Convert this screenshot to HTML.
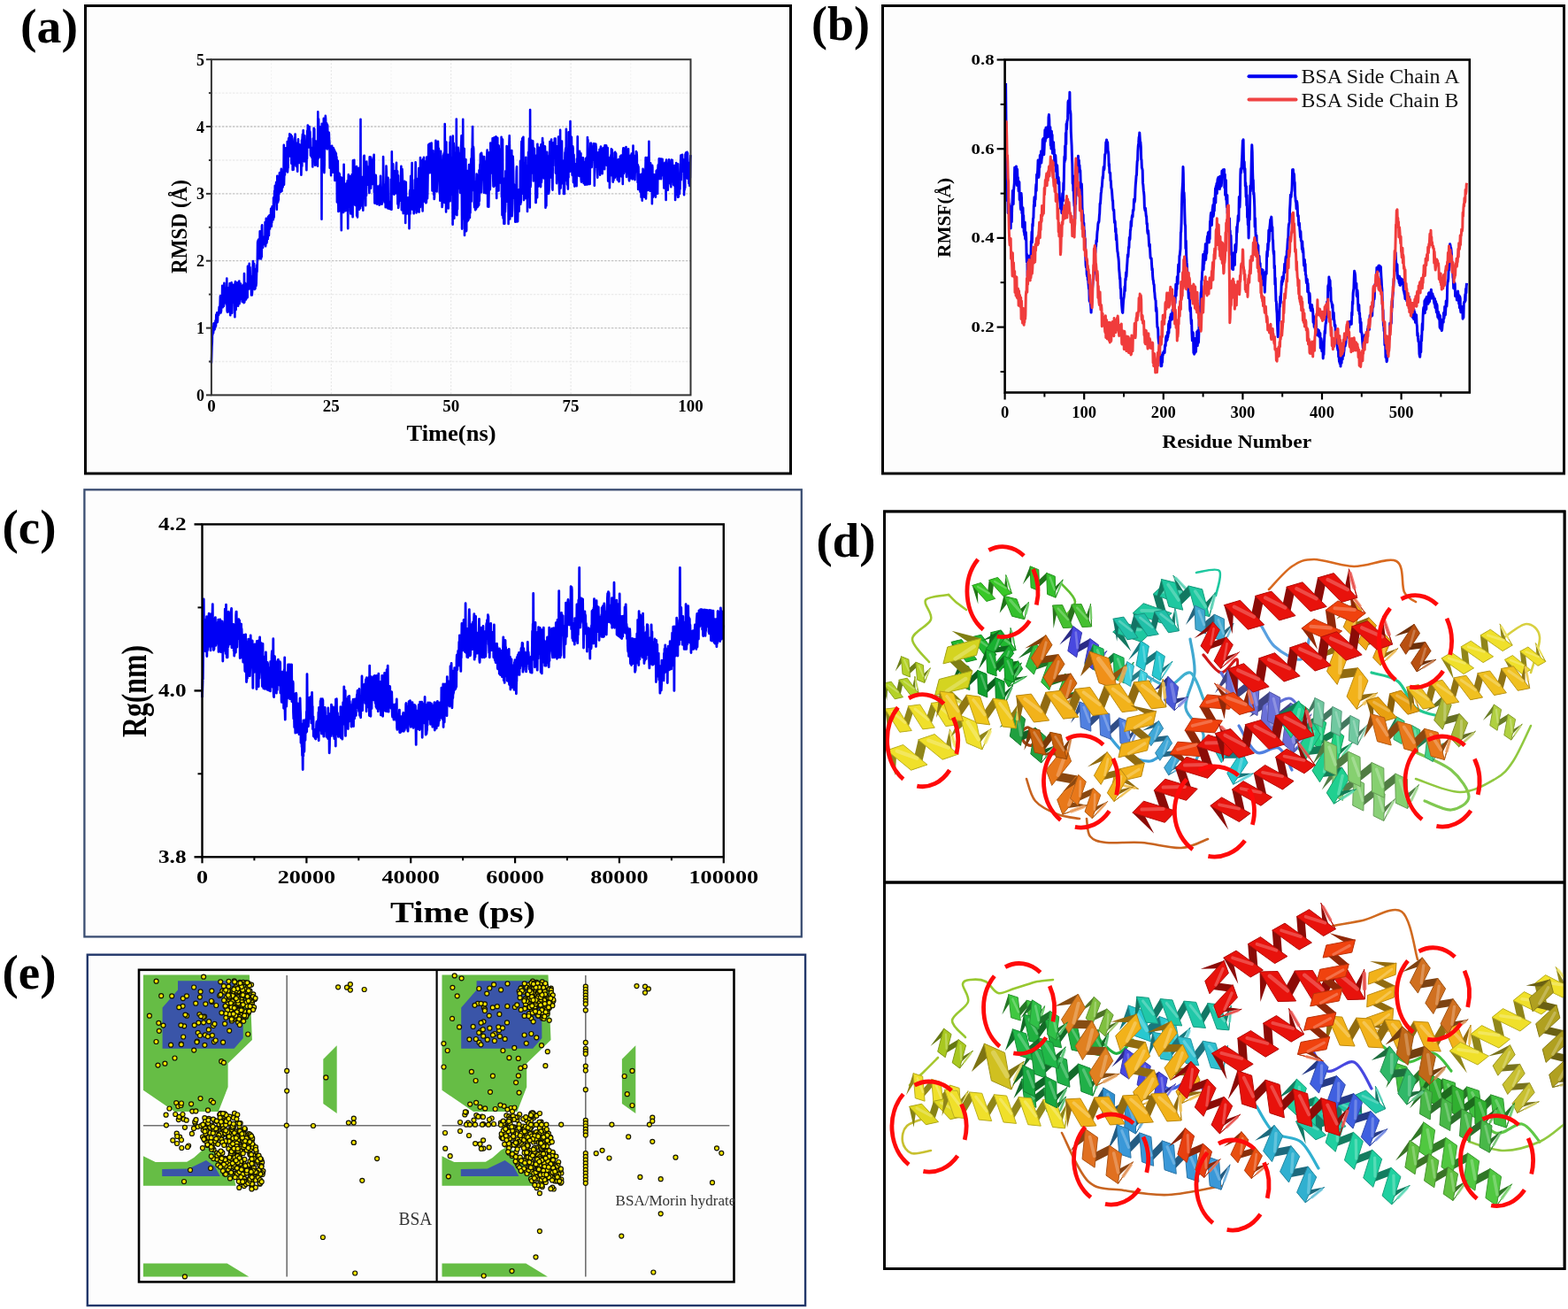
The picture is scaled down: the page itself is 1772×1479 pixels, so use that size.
<!DOCTYPE html>
<html><head><meta charset="utf-8"><title>MD analysis figure</title>
<style>html,body{margin:0;padding:0;background:#fff;} svg{display:block;font-family:'Liberation Serif', 'Times New Roman', serif;}</style></head>
<body><svg width="1772" height="1479" viewBox="0 0 1772 1479">
<rect x="0" y="0" width="1772" height="1479" fill="#fff"/><rect x="96.5" y="6.5" width="797" height="528.5" fill="#fdfdfd" stroke="#000" stroke-width="3"/><rect x="997.5" y="6.5" width="770" height="528.5" fill="#fdfdfd" stroke="#000" stroke-width="3"/><rect x="95.4" y="553.3" width="810.4" height="505.1" fill="#fdfdfd" stroke="#3a4d72" stroke-width="2.3"/><rect x="999.5" y="577.9" width="768.6" height="855.6" fill="#fff" stroke="#000" stroke-width="2.8"/><line x1="999" y1="997" x2="1768" y2="997" stroke="#000" stroke-width="2.8"/><rect x="98.8" y="1078.7" width="811.3" height="396.4" fill="#fdfdfd" stroke="#22376a" stroke-width="2.4"/><text x="23.0" y="48.3" font-size="55" text-anchor="start" font-weight="bold" fill="#000" textLength="65" lengthAdjust="spacingAndGlyphs" >(a)</text><text x="917.0" y="44.5" font-size="55" text-anchor="start" font-weight="bold" fill="#000" textLength="66" lengthAdjust="spacingAndGlyphs" >(b)</text><text x="2.5" y="613.5" font-size="55" text-anchor="start" font-weight="bold" fill="#000" textLength="61" lengthAdjust="spacingAndGlyphs" >(c)</text><text x="922.5" y="628.5" font-size="55" text-anchor="start" font-weight="bold" fill="#000" textLength="67" lengthAdjust="spacingAndGlyphs" >(d)</text><text x="2.5" y="1116.5" font-size="55" text-anchor="start" font-weight="bold" fill="#000" textLength="61" lengthAdjust="spacingAndGlyphs" >(e)</text><line x1="306.6" y1="67.2" x2="306.6" y2="446.4" stroke="#f0f0f0" stroke-width="1" stroke-dasharray="2 2"/><line x1="374.3" y1="67.2" x2="374.3" y2="446.4" stroke="#e2e2e2" stroke-width="1" stroke-dasharray="2 2"/><line x1="442.0" y1="67.2" x2="442.0" y2="446.4" stroke="#f0f0f0" stroke-width="1" stroke-dasharray="2 2"/><line x1="509.7" y1="67.2" x2="509.7" y2="446.4" stroke="#e2e2e2" stroke-width="1" stroke-dasharray="2 2"/><line x1="577.4" y1="67.2" x2="577.4" y2="446.4" stroke="#f0f0f0" stroke-width="1" stroke-dasharray="2 2"/><line x1="645.1" y1="67.2" x2="645.1" y2="446.4" stroke="#e2e2e2" stroke-width="1" stroke-dasharray="2 2"/><line x1="712.8" y1="67.2" x2="712.8" y2="446.4" stroke="#f0f0f0" stroke-width="1" stroke-dasharray="2 2"/><line x1="238.9" y1="408.5" x2="780.5" y2="408.5" stroke="#ebebeb" stroke-width="1.3" stroke-dasharray="2.5 1.5"/><line x1="238.9" y1="370.6" x2="780.5" y2="370.6" stroke="#c4c4c4" stroke-width="1.3" stroke-dasharray="2.5 1.5"/><line x1="238.9" y1="332.6" x2="780.5" y2="332.6" stroke="#ebebeb" stroke-width="1.3" stroke-dasharray="2.5 1.5"/><line x1="238.9" y1="294.7" x2="780.5" y2="294.7" stroke="#c4c4c4" stroke-width="1.3" stroke-dasharray="2.5 1.5"/><line x1="238.9" y1="256.8" x2="780.5" y2="256.8" stroke="#ebebeb" stroke-width="1.3" stroke-dasharray="2.5 1.5"/><line x1="238.9" y1="218.9" x2="780.5" y2="218.9" stroke="#c4c4c4" stroke-width="1.3" stroke-dasharray="2.5 1.5"/><line x1="238.9" y1="181.0" x2="780.5" y2="181.0" stroke="#ebebeb" stroke-width="1.3" stroke-dasharray="2.5 1.5"/><line x1="238.9" y1="143.0" x2="780.5" y2="143.0" stroke="#c4c4c4" stroke-width="1.3" stroke-dasharray="2.5 1.5"/><line x1="238.9" y1="105.1" x2="780.5" y2="105.1" stroke="#ebebeb" stroke-width="1.3" stroke-dasharray="2.5 1.5"/><path d="M238.9 410.4L239.2 402.1L239.5 392.1L239.8 386.1L240.0 374.5L240.3 378.3L240.6 371.9L240.9 369.2L241.2 375.9L241.5 365.4L241.8 365.1L242.0 372.7L242.3 366.7L242.6 372.3L242.9 366.4L243.2 369.8L243.5 362.4L243.7 368.5L244.0 368.4L244.3 355.5L244.6 356.6L244.9 357.7L245.2 353.2L245.5 359.4L245.7 364.1L246.0 362.3L246.3 354.2L246.6 353.6L246.9 352.5L247.2 356.0L247.5 350.0L247.7 346.9L248.0 349.1L248.3 351.4L248.6 345.0L248.9 334.9L249.2 334.1L249.5 353.5L249.7 351.5L250.0 351.8L250.3 344.1L250.6 336.0L250.9 343.0L251.2 322.8L251.4 334.5L251.7 347.2L252.0 339.3L252.3 332.2L252.6 330.6L252.9 345.9L253.2 341.0L253.4 319.7L253.7 329.1L254.0 332.2L254.3 333.8L254.6 340.6L254.9 340.6L255.2 332.5L255.4 329.4L255.7 342.6L256.0 344.1L256.3 314.6L256.6 350.8L256.9 352.6L257.2 342.5L257.4 332.5L257.7 342.8L258.0 348.4L258.3 352.3L258.6 325.0L258.9 331.6L259.1 343.2L259.4 326.6L259.7 320.0L260.0 332.9L260.3 356.2L260.6 336.7L260.9 342.0L261.1 323.8L261.4 330.3L261.7 319.4L262.0 352.0L262.3 353.7L262.6 341.8L262.9 335.3L263.1 338.2L263.4 336.6L263.7 321.8L264.0 332.3L264.3 341.5L264.6 329.7L264.9 336.4L265.1 324.9L265.4 358.2L265.7 319.9L266.0 318.1L266.3 334.8L266.6 350.1L266.8 338.4L267.1 336.1L267.4 327.9L267.7 320.1L268.0 345.5L268.3 319.2L268.6 338.8L268.8 324.3L269.1 345.8L269.4 323.4L269.7 331.7L270.0 338.1L270.3 317.5L270.6 343.3L270.8 335.5L271.1 329.6L271.4 335.6L271.7 332.8L272.0 320.5L272.3 337.9L272.6 330.2L272.8 337.9L273.1 322.5L273.4 336.9L273.7 341.0L274.0 332.9L274.3 333.6L274.6 323.3L274.8 339.6L275.1 321.7L275.4 327.0L275.7 342.1L276.0 309.0L276.3 341.3L276.5 338.4L276.8 332.4L277.1 319.8L277.4 323.6L277.7 325.7L278.0 338.5L278.3 333.2L278.5 321.9L278.8 330.2L279.1 329.5L279.4 336.5L279.7 335.9L280.0 300.8L280.3 320.5L280.5 300.9L280.8 324.5L281.1 309.2L281.4 326.5L281.7 297.9L282.0 325.9L282.3 316.4L282.5 302.1L282.8 311.8L283.1 311.9L283.4 323.2L283.7 315.3L284.0 333.5L284.2 333.5L284.5 326.4L284.8 333.4L285.1 329.5L285.4 320.5L285.7 300.2L286.0 295.1L286.2 323.1L286.5 305.8L286.8 299.7L287.1 297.8L287.4 321.3L287.7 327.0L288.0 317.9L288.2 314.9L288.5 325.8L288.8 320.7L289.1 303.9L289.4 322.9L289.7 319.6L290.0 309.9L290.2 299.6L290.5 307.4L290.8 297.9L291.1 273.9L291.4 272.3L291.7 276.8L291.9 271.3L292.2 270.5L292.5 287.7L292.8 280.2L293.1 292.1L293.4 279.5L293.7 261.2L293.9 283.3L294.2 284.3L294.5 279.7L294.8 281.2L295.1 292.4L295.4 279.3L295.7 290.2L295.9 255.3L296.2 254.3L296.5 268.2L296.8 279.5L297.1 279.7L297.4 273.7L297.7 267.7L297.9 275.4L298.2 268.8L298.5 275.2L298.8 275.3L299.1 276.0L299.4 275.7L299.6 251.1L299.9 273.3L300.2 278.2L300.5 252.5L300.8 246.8L301.1 254.2L301.4 274.6L301.6 272.8L301.9 268.4L302.2 269.8L302.5 255.2L302.8 269.9L303.1 244.9L303.4 260.9L303.6 264.8L303.9 266.1L304.2 253.8L304.5 243.2L304.8 246.9L305.1 258.5L305.4 243.3L305.6 249.7L305.9 244.4L306.2 235.9L306.5 239.3L306.8 255.6L307.1 240.5L307.3 251.4L307.6 233.4L307.9 238.3L308.2 241.9L308.5 247.4L308.8 248.2L309.1 223.2L309.3 246.1L309.6 245.1L309.9 232.3L310.2 215.7L310.5 227.3L310.8 209.7L311.1 219.6L311.3 212.2L311.6 212.1L311.9 208.9L312.2 205.9L312.5 224.7L312.8 236.8L313.1 218.8L313.3 198.7L313.6 216.1L313.9 224.0L314.2 228.4L314.5 212.2L314.8 226.4L315.0 210.7L315.3 219.5L315.6 206.3L315.9 195.4L316.2 215.3L316.5 214.1L316.8 201.9L317.0 216.9L317.3 197.4L317.6 194.4L317.9 190.9L318.2 214.9L318.5 216.0L318.8 200.9L319.0 211.1L319.3 205.1L319.6 211.5L319.9 199.7L320.2 198.5L320.5 197.9L320.8 163.9L321.0 208.8L321.3 197.5L321.6 190.9L321.9 197.6L322.2 187.2L322.5 175.1L322.7 183.5L323.0 167.4L323.3 174.7L323.6 179.1L323.9 189.6L324.2 176.4L324.5 193.8L324.7 160.0L325.0 194.4L325.3 190.0L325.6 189.4L325.9 164.1L326.2 156.3L326.5 162.5L326.7 156.0L327.0 174.8L327.3 151.3L327.6 176.5L327.9 171.2L328.2 153.2L328.5 161.2L328.7 152.2L329.0 160.3L329.3 184.7L329.6 182.0L329.9 153.9L330.2 164.9L330.5 163.2L330.7 191.9L331.0 160.0L331.3 175.6L331.6 191.8L331.9 179.4L332.2 165.3L332.4 180.3L332.7 158.0L333.0 155.7L333.3 172.1L333.6 151.5L333.9 163.9L334.2 181.2L334.4 187.1L334.7 187.8L335.0 162.5L335.3 161.8L335.6 185.1L335.9 185.9L336.2 193.7L336.4 163.5L336.7 183.6L337.0 157.3L337.3 172.9L337.6 181.0L337.9 179.8L338.2 184.0L338.4 163.2L338.7 175.7L339.0 173.2L339.3 167.5L339.6 170.1L339.9 168.7L340.1 173.9L340.4 197.7L340.7 185.1L341.0 158.6L341.3 187.8L341.6 156.3L341.9 151.9L342.1 152.9L342.4 159.8L342.7 147.2L343.0 165.9L343.3 160.7L343.6 172.7L343.9 182.5L344.1 162.8L344.4 153.2L344.7 162.0L345.0 181.8L345.3 172.2L345.6 173.3L345.9 172.3L346.1 178.4L346.4 192.3L346.7 174.0L347.0 179.3L347.3 147.7L347.6 153.3L347.8 141.6L348.1 151.3L348.4 155.0L348.7 166.5L349.0 149.2L349.3 159.4L349.6 143.1L349.8 161.3L350.1 148.1L350.4 149.1L350.7 161.3L351.0 175.6L351.3 171.1L351.6 169.2L351.8 166.9L352.1 176.6L352.4 177.9L352.7 172.1L353.0 167.9L353.3 188.4L353.6 176.3L353.8 156.6L354.1 156.1L354.4 166.7L354.7 144.8L355.0 152.3L355.3 145.8L355.5 177.4L355.8 170.7L356.1 186.7L356.4 164.3L356.7 179.2L357.0 159.5L357.3 186.3L357.5 185.2L357.8 173.6L358.1 180.5L358.4 161.4L358.7 167.5L359.0 187.7L359.3 126.4L359.5 179.6L359.8 177.1L360.1 134.6L360.4 151.8L360.7 143.8L361.0 165.6L361.3 176.3L361.5 160.4L361.8 143.4L362.1 152.3L362.4 178.0L362.7 148.0L363.0 156.3L363.2 143.9L363.5 247.7L363.8 139.8L364.1 173.9L364.4 183.8L364.7 192.3L365.0 149.4L365.2 179.7L365.5 173.4L365.8 133.9L366.1 165.9L366.4 195.1L366.7 186.3L367.0 133.7L367.2 158.6L367.5 165.0L367.8 130.9L368.1 134.7L368.4 167.5L368.7 141.2L369.0 148.4L369.2 139.4L369.5 142.9L369.8 168.5L370.1 141.4L370.4 153.1L370.7 167.0L370.9 162.5L371.2 153.1L371.5 158.0L371.8 149.8L372.1 158.2L372.4 161.7L372.7 189.7L372.9 188.4L373.2 183.0L373.5 178.0L373.8 165.8L374.1 198.3L374.4 172.4L374.7 176.7L374.9 190.9L375.2 164.9L375.5 189.0L375.8 173.3L376.1 194.8L376.4 180.7L376.7 172.1L376.9 167.4L377.2 184.4L377.5 189.2L377.8 169.2L378.1 171.2L378.4 204.0L378.6 185.8L378.9 171.5L379.2 200.4L379.5 183.1L379.8 173.3L380.1 199.9L380.4 177.4L380.6 184.9L380.9 228.4L381.2 216.9L381.5 227.3L381.8 181.7L382.1 206.4L382.4 238.9L382.6 231.1L382.9 231.6L383.2 195.5L383.5 198.4L383.8 196.7L384.1 238.3L384.4 229.4L384.6 228.6L384.9 225.9L385.2 200.3L385.5 228.9L385.8 260.2L386.1 216.5L386.3 225.2L386.6 239.3L386.9 201.0L387.2 217.4L387.5 238.0L387.8 223.5L388.1 240.0L388.3 213.1L388.6 185.7L388.9 218.1L389.2 212.6L389.5 223.5L389.8 219.2L390.1 229.6L390.3 238.2L390.6 213.3L390.9 230.7L391.2 207.5L391.5 237.8L391.8 236.7L392.1 236.4L392.3 236.7L392.6 204.2L392.9 217.5L393.2 258.3L393.5 210.7L393.8 197.2L394.1 203.8L394.3 233.5L394.6 213.0L394.9 203.3L395.2 219.1L395.5 211.5L395.8 199.1L396.0 238.1L396.3 241.5L396.6 215.8L396.9 201.8L397.2 237.1L397.5 239.5L397.8 197.1L398.0 212.2L398.3 229.7L398.6 245.2L398.9 181.4L399.2 231.0L399.5 191.1L399.8 191.3L400.0 200.7L400.3 180.8L400.6 218.5L400.9 229.7L401.2 211.9L401.5 232.0L401.8 197.5L402.0 228.7L402.3 210.0L402.6 193.2L402.9 188.1L403.2 243.8L403.5 228.3L403.7 199.3L404.0 245.5L404.3 217.9L404.6 201.8L404.9 210.5L405.2 189.9L405.5 217.7L405.7 217.3L406.0 236.8L406.3 222.8L406.6 197.6L406.9 197.7L407.2 235.2L407.5 134.7L407.7 233.1L408.0 211.8L408.3 230.9L408.6 229.9L408.9 217.1L409.2 227.7L409.5 221.0L409.7 208.8L410.0 199.7L410.3 237.7L410.6 220.5L410.9 218.0L411.2 176.4L411.4 188.1L411.7 175.9L412.0 210.4L412.3 183.7L412.6 213.8L412.9 188.6L413.2 232.3L413.4 200.9L413.7 195.9L414.0 221.0L414.3 182.5L414.6 189.0L414.9 192.9L415.2 188.2L415.4 206.6L415.7 208.7L416.0 197.1L416.3 207.7L416.6 202.8L416.9 188.4L417.2 212.2L417.4 218.0L417.7 177.4L418.0 177.5L418.3 190.6L418.6 201.8L418.9 177.5L419.1 212.6L419.4 202.9L419.7 180.2L420.0 187.9L420.3 189.0L420.6 202.9L420.9 190.8L421.1 208.0L421.4 182.5L421.7 184.1L422.0 178.0L422.3 182.0L422.6 174.7L422.9 217.4L423.1 207.8L423.4 229.6L423.7 199.2L424.0 199.1L424.3 209.2L424.6 197.8L424.9 199.7L425.1 223.3L425.4 209.8L425.7 230.5L426.0 230.6L426.3 210.8L426.6 229.8L426.8 229.0L427.1 224.2L427.4 210.5L427.7 214.8L428.0 226.0L428.3 220.4L428.6 231.6L428.8 231.7L429.1 230.4L429.4 208.9L429.7 220.2L430.0 198.7L430.3 215.0L430.6 214.9L430.8 211.8L431.1 217.3L431.4 230.6L431.7 230.6L432.0 214.4L432.3 226.7L432.6 225.3L432.8 221.3L433.1 177.0L433.4 199.3L433.7 220.0L434.0 221.8L434.3 223.3L434.5 228.5L434.8 214.0L435.1 218.5L435.4 215.9L435.7 234.2L436.0 208.1L436.3 208.8L436.5 187.5L436.8 193.7L437.1 223.7L437.4 206.9L437.7 221.1L438.0 235.1L438.3 220.0L438.5 200.7L438.8 235.4L439.1 235.5L439.4 235.6L439.7 235.7L440.0 235.8L440.3 228.1L440.5 236.0L440.8 227.9L441.1 236.2L441.4 236.3L441.7 202.7L442.0 236.6L442.2 202.6L442.5 236.8L442.8 171.3L443.1 213.8L443.4 201.9L443.7 211.1L444.0 189.5L444.2 185.4L444.5 218.7L444.8 205.7L445.1 201.5L445.4 219.8L445.7 201.1L446.0 193.4L446.2 204.0L446.5 196.6L446.8 218.5L447.1 198.1L447.4 218.3L447.7 188.8L448.0 183.8L448.2 211.0L448.5 207.9L448.8 195.9L449.1 193.3L449.4 230.6L449.7 205.3L450.0 198.2L450.2 234.9L450.5 232.0L450.8 227.0L451.1 214.9L451.4 218.4L451.7 206.7L451.9 215.5L452.2 219.9L452.5 226.8L452.8 214.2L453.1 196.6L453.4 187.9L453.7 217.1L453.9 237.3L454.2 208.6L454.5 191.0L454.8 197.5L455.1 209.6L455.4 224.1L455.7 241.1L455.9 222.7L456.2 210.9L456.5 210.4L456.8 216.3L457.1 204.7L457.4 238.2L457.7 208.2L457.9 216.6L458.2 251.9L458.5 218.3L458.8 205.7L459.1 235.9L459.4 241.6L459.6 224.0L459.9 223.3L460.2 232.1L460.5 236.1L460.8 240.9L461.1 226.3L461.4 224.3L461.6 241.6L461.9 223.2L462.2 223.0L462.5 258.3L462.8 241.6L463.1 217.0L463.4 214.8L463.6 241.6L463.9 210.8L464.2 198.8L464.5 219.8L464.8 213.8L465.1 201.2L465.4 200.1L465.6 184.0L465.9 226.2L466.2 236.7L466.5 235.8L466.8 216.0L467.1 225.8L467.3 215.3L467.6 241.3L467.9 236.3L468.2 227.8L468.5 235.0L468.8 203.4L469.1 224.9L469.3 214.9L469.6 183.2L469.9 193.9L470.2 206.6L470.5 240.5L470.8 205.3L471.1 224.7L471.3 228.3L471.6 211.2L471.9 235.7L472.2 204.8L472.5 201.9L472.8 239.1L473.1 233.7L473.3 190.1L473.6 239.6L473.9 191.7L474.2 195.6L474.5 199.1L474.8 234.1L475.0 178.1L475.3 221.9L475.6 180.7L475.9 210.0L476.2 217.6L476.5 219.3L476.8 226.6L477.0 222.4L477.3 227.8L477.6 238.5L477.9 200.1L478.2 179.8L478.5 214.0L478.8 186.9L479.0 177.8L479.3 227.5L479.6 203.1L479.9 196.3L480.2 201.5L480.5 182.5L480.8 193.0L481.0 229.1L481.3 183.1L481.6 229.2L481.9 228.1L482.2 177.5L482.5 200.7L482.7 185.5L483.0 224.2L483.3 214.6L483.6 194.3L483.9 195.6L484.2 163.6L484.5 180.2L484.7 190.8L485.0 162.9L485.3 194.7L485.6 171.3L485.9 195.2L486.2 162.3L486.5 166.8L486.7 162.0L487.0 167.3L487.3 176.7L487.6 161.5L487.9 194.1L488.2 178.9L488.5 215.5L488.7 187.3L489.0 178.1L489.3 194.3L489.6 170.4L489.9 183.3L490.2 220.0L490.4 195.4L490.7 225.0L491.0 222.5L491.3 175.2L491.6 197.9L491.9 205.5L492.2 185.1L492.4 158.8L492.7 186.0L493.0 197.5L493.3 198.7L493.6 216.4L493.9 203.9L494.2 177.5L494.4 195.2L494.7 195.7L495.0 159.8L495.3 173.9L495.6 179.1L495.9 167.9L496.2 190.3L496.4 199.9L496.7 217.5L497.0 185.1L497.3 226.7L497.6 222.6L497.9 223.1L498.1 170.9L498.4 183.4L498.7 212.9L499.0 206.3L499.3 206.1L499.6 234.0L499.9 231.7L500.1 201.3L500.4 204.7L500.7 203.1L501.0 175.7L501.3 226.4L501.6 174.0L501.9 215.6L502.1 172.2L502.4 228.9L502.7 140.0L503.0 174.4L503.3 204.6L503.6 210.3L503.9 204.7L504.1 239.4L504.4 160.6L504.7 210.9L505.0 184.3L505.3 177.7L505.6 234.9L505.8 226.2L506.1 174.7L506.4 192.6L506.7 235.5L507.0 204.0L507.3 210.2L507.6 186.0L507.8 186.8L508.1 215.6L508.4 160.8L508.7 227.2L509.0 154.6L509.3 211.8L509.6 178.2L509.8 204.4L510.1 178.0L510.4 201.3L510.7 219.7L511.0 180.5L511.3 200.5L511.6 253.7L511.8 153.6L512.1 198.4L512.4 178.9L512.7 161.7L513.0 166.7L513.3 246.7L513.6 177.1L513.8 220.2L514.1 193.5L514.4 188.9L514.7 231.7L515.0 172.6L515.3 191.8L515.5 242.1L515.8 134.6L516.1 242.7L516.4 243.0L516.7 204.7L517.0 236.5L517.3 205.7L517.5 213.2L517.8 166.8L518.1 172.8L518.4 185.3L518.7 196.5L519.0 192.6L519.3 173.2L519.5 187.5L519.8 205.5L520.1 217.8L520.4 184.5L520.7 175.6L521.0 166.2L521.3 161.4L521.5 153.2L521.8 217.2L522.1 258.6L522.4 229.3L522.7 188.2L523.0 219.8L523.2 134.8L523.5 207.9L523.8 243.9L524.1 247.1L524.4 183.3L524.7 168.0L525.0 265.9L525.2 190.0L525.5 184.6L525.8 188.6L526.1 224.4L526.4 180.0L526.7 232.7L527.0 261.2L527.2 259.6L527.5 192.8L527.8 250.4L528.1 250.0L528.4 249.6L528.7 249.2L529.0 248.8L529.2 248.4L529.5 248.0L529.8 195.3L530.1 186.0L530.4 242.3L530.7 222.0L530.9 246.0L531.2 220.2L531.5 240.5L531.8 200.4L532.1 187.9L532.4 179.4L532.7 227.4L532.9 183.5L533.2 168.2L533.5 210.3L533.8 161.6L534.1 143.0L534.4 198.2L534.7 214.9L534.9 165.8L535.2 167.9L535.5 183.3L535.8 228.0L536.1 234.2L536.4 209.6L536.7 205.0L536.9 207.6L537.2 237.2L537.5 236.8L537.8 208.2L538.1 236.0L538.4 202.4L538.6 196.5L538.9 198.7L539.2 203.8L539.5 234.0L539.8 233.6L540.1 199.0L540.4 215.6L540.6 232.4L540.9 232.0L541.2 231.6L541.5 192.2L541.8 226.9L542.1 202.5L542.4 185.9L542.6 205.4L542.9 174.8L543.2 173.5L543.5 215.0L543.8 217.3L544.1 172.7L544.4 176.3L544.6 178.0L544.9 193.1L545.2 176.6L545.5 201.7L545.8 184.3L546.1 188.8L546.3 198.9L546.6 206.2L546.9 217.8L547.2 177.0L547.5 187.0L547.8 191.8L548.1 211.9L548.3 182.4L548.6 208.8L548.9 188.7L549.2 218.3L549.5 196.6L549.8 188.7L550.1 186.7L550.3 175.0L550.6 169.5L550.9 190.7L551.2 233.4L551.5 213.6L551.8 193.6L552.1 179.2L552.3 233.8L552.6 212.5L552.9 176.8L553.2 172.1L553.5 175.8L553.8 214.3L554.0 209.3L554.3 161.5L554.6 167.7L554.9 165.8L555.2 181.3L555.5 168.3L555.8 195.5L556.0 168.4L556.3 192.7L556.6 156.4L556.9 179.1L557.2 200.1L557.5 210.5L557.8 207.5L558.0 210.9L558.3 155.6L558.6 191.5L558.9 176.9L559.2 209.6L559.5 160.4L559.8 154.8L560.0 184.1L560.3 154.6L560.6 154.4L560.9 175.0L561.2 224.0L561.5 184.0L561.7 216.0L562.0 160.9L562.3 155.8L562.6 210.8L562.9 189.0L563.2 166.4L563.5 215.4L563.7 164.6L564.0 193.6L564.3 190.0L564.6 200.9L564.9 170.3L565.2 168.9L565.5 171.0L565.7 206.6L566.0 206.0L566.3 203.1L566.6 154.8L566.9 222.5L567.2 200.7L567.5 243.1L567.7 202.0L568.0 157.5L568.3 208.5L568.6 246.6L568.9 225.1L569.2 203.1L569.4 252.8L569.7 233.4L570.0 239.7L570.3 252.7L570.6 201.5L570.9 239.4L571.2 231.1L571.4 193.3L571.7 201.8L572.0 205.3L572.3 227.8L572.6 165.0L572.9 186.8L573.2 211.0L573.4 201.8L573.7 205.6L574.0 168.0L574.3 168.7L574.6 253.0L574.9 165.6L575.2 211.0L575.4 163.1L575.7 153.4L576.0 168.5L576.3 247.4L576.6 197.7L576.9 185.4L577.2 237.5L577.4 223.7L577.7 211.7L578.0 216.9L578.3 170.0L578.6 244.2L578.9 236.8L579.1 191.9L579.4 224.3L579.7 176.7L580.0 186.4L580.3 205.9L580.6 221.8L580.9 208.3L581.1 218.7L581.4 221.6L581.7 222.8L582.0 236.3L582.3 250.8L582.6 214.7L582.9 211.3L583.1 218.0L583.4 216.5L583.7 193.6L584.0 188.2L584.3 250.4L584.6 225.5L584.9 217.8L585.1 250.3L585.4 237.0L585.7 222.6L586.0 238.8L586.3 214.3L586.6 238.8L586.8 214.6L587.1 225.2L587.4 230.0L587.7 222.4L588.0 181.9L588.3 230.8L588.6 202.8L588.8 228.7L589.1 173.6L589.4 159.9L589.7 191.7L590.0 186.6L590.3 156.2L590.6 218.7L590.8 174.9L591.1 181.9L591.4 154.7L591.7 191.8L592.0 226.1L592.3 203.9L592.6 189.6L592.8 202.0L593.1 208.0L593.4 218.6L593.7 184.1L594.0 224.1L594.3 177.8L594.5 215.8L594.8 205.8L595.1 187.4L595.4 205.4L595.7 188.1L596.0 238.9L596.3 199.1L596.5 190.6L596.8 222.4L597.1 172.2L597.4 171.6L597.7 175.4L598.0 156.6L598.3 197.0L598.5 157.1L598.8 234.5L599.1 124.1L599.4 203.7L599.7 210.9L600.0 177.4L600.3 176.8L600.5 169.8L600.8 158.7L601.1 183.0L601.4 181.0L601.7 178.5L602.0 195.4L602.2 159.4L602.5 168.3L602.8 204.4L603.1 167.3L603.4 193.3L603.7 192.7L604.0 167.9L604.2 183.8L604.5 184.1L604.8 201.7L605.1 179.8L605.4 229.0L605.7 228.9L606.0 213.8L606.2 192.7L606.5 175.5L606.8 203.8L607.1 223.2L607.4 162.7L607.7 176.5L608.0 196.2L608.2 210.4L608.5 210.7L608.8 205.7L609.1 166.8L609.4 198.2L609.7 168.7L609.9 187.6L610.2 173.5L610.5 187.5L610.8 201.7L611.1 211.1L611.4 163.4L611.7 166.6L611.9 205.8L612.2 201.7L612.5 187.6L612.8 164.0L613.1 156.0L613.4 170.5L613.7 160.8L613.9 197.5L614.2 164.6L614.5 176.0L614.8 201.5L615.1 170.3L615.4 197.0L615.7 165.2L615.9 165.4L616.2 174.5L616.5 234.8L616.8 190.8L617.1 172.3L617.4 232.4L617.6 209.1L617.9 191.7L618.2 171.7L618.5 181.0L618.8 203.7L619.1 188.0L619.4 176.2L619.6 196.8L619.9 218.9L620.2 218.0L620.5 215.0L620.8 204.8L621.1 178.4L621.4 160.0L621.6 198.1L621.9 170.8L622.2 160.6L622.5 189.1L622.8 174.6L623.1 157.5L623.4 201.0L623.6 180.1L623.9 170.1L624.2 212.1L624.5 214.6L624.8 178.9L625.1 187.3L625.3 161.4L625.6 172.9L625.9 162.4L626.2 177.7L626.5 172.3L626.8 156.5L627.1 168.8L627.3 167.7L627.6 156.6L627.9 195.6L628.2 172.3L628.5 189.6L628.8 178.0L629.1 207.1L629.3 202.4L629.6 165.2L629.9 192.7L630.2 167.7L630.5 177.5L630.8 178.3L631.1 154.5L631.3 199.8L631.6 157.4L631.9 211.5L632.2 218.9L632.5 165.3L632.8 209.7L633.1 146.9L633.3 201.5L633.6 212.6L633.9 196.4L634.2 168.7L634.5 187.8L634.8 184.6L635.0 159.5L635.3 191.2L635.6 207.3L635.9 203.5L636.2 189.5L636.5 193.6L636.8 181.9L637.0 218.9L637.3 187.4L637.6 205.9L637.9 218.9L638.2 189.9L638.5 172.3L638.8 196.6L639.0 170.2L639.3 167.4L639.6 202.4L639.9 145.8L640.2 204.0L640.5 171.1L640.8 182.6L641.0 208.4L641.3 189.2L641.6 195.1L641.9 213.6L642.2 169.5L642.5 200.5L642.7 149.3L643.0 163.2L643.3 190.4L643.6 186.1L643.9 165.2L644.2 193.7L644.5 137.0L644.7 187.5L645.0 191.7L645.3 191.8L645.6 189.8L645.9 154.7L646.2 174.4L646.5 192.2L646.7 198.0L647.0 169.7L647.3 165.4L647.6 167.6L647.9 206.1L648.2 202.9L648.5 174.7L648.7 184.6L649.0 187.6L649.3 210.6L649.6 189.1L649.9 195.8L650.2 185.4L650.4 200.5L650.7 186.9L651.0 209.2L651.3 185.5L651.6 210.3L651.9 179.6L652.2 180.9L652.4 198.8L652.7 154.4L653.0 195.7L653.3 179.6L653.6 181.6L653.9 177.7L654.2 186.5L654.4 193.6L654.7 199.0L655.0 170.7L655.3 172.7L655.6 193.8L655.9 183.4L656.2 188.0L656.4 173.2L656.7 202.9L657.0 205.6L657.3 202.3L657.6 185.5L657.9 191.8L658.1 179.8L658.4 178.2L658.7 189.2L659.0 178.2L659.3 187.0L659.6 207.0L659.9 199.4L660.1 188.6L660.4 189.5L660.7 200.7L661.0 208.8L661.3 183.1L661.6 194.7L661.9 189.7L662.1 179.1L662.4 208.5L662.7 205.5L663.0 177.7L663.3 205.4L663.6 208.4L663.9 155.0L664.1 208.3L664.4 158.1L664.7 175.1L665.0 205.2L665.3 197.3L665.6 208.0L665.8 180.3L666.1 186.0L666.4 206.3L666.7 207.9L667.0 178.9L667.3 161.9L667.6 185.7L667.8 161.7L668.1 161.7L668.4 188.0L668.7 189.0L669.0 181.9L669.3 178.0L669.6 169.9L669.8 180.6L670.1 175.7L670.4 165.2L670.7 167.6L671.0 162.3L671.3 181.1L671.6 162.4L671.8 209.7L672.1 175.4L672.4 162.5L672.7 165.3L673.0 163.3L673.3 162.7L673.5 164.9L673.8 167.7L674.1 185.3L674.4 189.2L674.7 187.8L675.0 194.9L675.3 200.6L675.5 184.0L675.8 183.8L676.1 172.2L676.4 177.9L676.7 185.6L677.0 189.2L677.3 189.9L677.5 168.8L677.8 174.5L678.1 197.7L678.4 175.3L678.7 167.6L679.0 165.5L679.3 186.0L679.5 169.3L679.8 169.9L680.1 178.7L680.4 169.0L680.7 196.2L681.0 170.9L681.2 171.2L681.5 185.1L681.8 167.0L682.1 174.0L682.4 169.1L682.7 182.3L683.0 167.2L683.2 191.2L683.5 164.2L683.8 164.3L684.1 164.3L684.4 173.2L684.7 174.3L685.0 164.4L685.2 164.5L685.5 182.5L685.8 186.8L686.1 174.4L686.4 185.4L686.7 167.0L687.0 190.6L687.2 204.6L687.5 201.9L687.8 177.7L688.1 193.0L688.4 191.7L688.7 182.0L688.9 212.3L689.2 199.8L689.5 199.1L689.8 183.1L690.1 184.7L690.4 175.4L690.7 194.6L690.9 168.2L691.2 186.4L691.5 193.1L691.8 169.2L692.1 198.7L692.4 172.5L692.7 205.6L692.9 201.0L693.2 191.0L693.5 203.6L693.8 179.3L694.1 180.9L694.4 194.8L694.7 188.2L694.9 200.7L695.2 171.9L695.5 198.8L695.8 191.9L696.1 173.3L696.4 186.4L696.7 186.8L696.9 190.4L697.2 187.7L697.5 198.6L697.8 203.2L698.1 189.1L698.4 192.3L698.6 186.5L698.9 180.0L699.2 198.2L699.5 205.2L699.8 204.6L700.1 182.6L700.4 195.6L700.6 195.7L700.9 176.6L701.2 191.2L701.5 182.2L701.8 177.2L702.1 175.6L702.4 199.5L702.6 182.4L702.9 178.5L703.2 193.5L703.5 190.2L703.8 208.0L704.1 170.6L704.4 167.4L704.6 193.5L704.9 195.9L705.2 167.5L705.5 171.8L705.8 194.0L706.1 181.4L706.3 183.2L706.6 185.5L706.9 182.6L707.2 185.4L707.5 166.0L707.8 191.8L708.1 200.0L708.3 174.2L708.6 192.0L708.9 193.2L709.2 174.5L709.5 173.7L709.8 172.3L710.1 168.3L710.3 179.8L710.6 190.5L710.9 203.6L711.2 204.3L711.5 193.5L711.8 196.7L712.1 198.0L712.3 175.9L712.6 188.5L712.9 182.1L713.2 178.1L713.5 201.5L713.8 173.6L714.0 184.5L714.3 191.6L714.6 192.1L714.9 202.4L715.2 200.6L715.5 164.5L715.8 200.0L716.0 190.2L716.3 191.0L716.6 175.7L716.9 192.9L717.2 179.5L717.5 203.2L717.8 189.7L718.0 185.6L718.3 186.3L718.6 181.3L718.9 171.0L719.2 177.0L719.5 172.1L719.8 176.2L720.0 194.6L720.3 189.7L720.6 206.0L720.9 186.4L721.2 213.9L721.5 188.3L721.7 196.8L722.0 201.0L722.3 197.4L722.6 204.1L722.9 204.9L723.2 210.4L723.5 216.7L723.7 197.2L724.0 214.0L724.3 202.6L724.6 222.7L724.9 196.7L725.2 198.8L725.5 198.1L725.7 226.6L726.0 213.1L726.3 204.2L726.6 190.8L726.9 206.4L727.2 219.0L727.5 214.8L727.7 198.1L728.0 195.3L728.3 222.7L728.6 214.6L728.9 192.5L729.2 195.5L729.4 192.0L729.7 178.0L730.0 224.5L730.3 214.5L730.6 190.2L730.9 192.1L731.2 196.1L731.4 178.1L731.7 186.4L732.0 214.9L732.3 194.2L732.6 214.1L732.9 196.0L733.2 194.8L733.4 159.7L733.7 205.7L734.0 199.7L734.3 204.2L734.6 215.6L734.9 196.0L735.2 184.4L735.4 215.7L735.7 190.4L736.0 209.1L736.3 205.7L736.6 189.4L736.9 230.3L737.1 186.7L737.4 189.2L737.7 222.0L738.0 222.7L738.3 199.9L738.6 199.8L738.9 220.7L739.1 201.8L739.4 197.2L739.7 209.3L740.0 215.5L740.3 209.3L740.6 211.6L740.9 222.7L741.1 214.2L741.4 215.2L741.7 193.2L742.0 192.6L742.3 195.2L742.6 213.9L742.9 198.4L743.1 218.7L743.4 192.3L743.7 186.7L744.0 186.0L744.3 187.5L744.6 188.9L744.8 179.3L745.1 192.3L745.4 202.0L745.7 179.4L746.0 189.5L746.3 179.5L746.6 187.6L746.8 182.1L747.1 202.1L747.4 192.4L747.7 179.6L748.0 183.9L748.3 179.7L748.6 179.7L748.8 190.3L749.1 193.4L749.4 192.6L749.7 198.6L750.0 192.0L750.3 212.4L750.6 194.8L750.8 203.9L751.1 186.0L751.4 183.8L751.7 204.0L752.0 209.7L752.3 201.3L752.6 225.9L752.8 186.8L753.1 180.5L753.4 184.7L753.7 203.5L754.0 198.4L754.3 199.6L754.5 190.6L754.8 214.7L755.1 191.0L755.4 207.7L755.7 206.7L756.0 180.4L756.3 201.5L756.5 185.0L756.8 197.8L757.1 199.3L757.4 196.2L757.7 205.1L758.0 208.6L758.3 211.3L758.5 184.6L758.8 180.6L759.1 205.2L759.4 201.2L759.7 180.7L760.0 185.4L760.3 204.5L760.5 197.0L760.8 197.2L761.1 208.8L761.4 207.3L761.7 209.4L762.0 196.7L762.2 187.0L762.5 198.4L762.8 194.2L763.1 225.9L763.4 187.8L763.7 213.3L764.0 217.0L764.2 184.0L764.5 214.8L764.8 191.0L765.1 219.6L765.4 191.7L765.7 212.4L766.0 222.7L766.2 185.2L766.5 222.6L766.8 222.4L767.1 195.9L767.4 206.7L767.7 215.9L768.0 219.0L768.2 202.6L768.5 213.8L768.8 199.8L769.1 185.9L769.4 175.6L769.7 203.2L769.9 189.7L770.2 177.8L770.5 175.0L770.8 185.4L771.1 174.7L771.4 190.8L771.7 179.9L771.9 188.0L772.2 194.1L772.5 180.2L772.8 203.5L773.1 220.3L773.4 199.4L773.7 214.4L773.9 198.4L774.2 212.2L774.5 174.2L774.8 190.7L775.1 172.5L775.4 191.4L775.7 172.2L775.9 177.4L776.2 181.9L776.5 171.7L776.8 201.6L777.1 173.1L777.4 193.9L777.6 195.5L777.9 185.2L778.2 195.3L778.5 207.3L778.8 192.4L779.1 183.9L779.4 210.0L779.6 189.3L779.9 201.0L780.2 179.8L780.5 175.1" fill="none" stroke="#0000f5" stroke-width="2.6" stroke-linejoin="round"/><rect x="238.9" y="67.2" width="541.6" height="379.2" fill="none" stroke="#333" stroke-width="2"/><line x1="232.9" y1="446.4" x2="238.9" y2="446.4" stroke="#333" stroke-width="2"/><text x="230.9" y="452.9" font-size="19" text-anchor="end" font-weight="bold" fill="#000" textLength="9" lengthAdjust="spacingAndGlyphs" >0</text><line x1="232.9" y1="370.6" x2="238.9" y2="370.6" stroke="#333" stroke-width="2"/><text x="230.9" y="377.1" font-size="19" text-anchor="end" font-weight="bold" fill="#000" textLength="9" lengthAdjust="spacingAndGlyphs" >1</text><line x1="232.9" y1="294.7" x2="238.9" y2="294.7" stroke="#333" stroke-width="2"/><text x="230.9" y="301.2" font-size="19" text-anchor="end" font-weight="bold" fill="#000" textLength="9" lengthAdjust="spacingAndGlyphs" >2</text><line x1="232.9" y1="218.9" x2="238.9" y2="218.9" stroke="#333" stroke-width="2"/><text x="230.9" y="225.4" font-size="19" text-anchor="end" font-weight="bold" fill="#000" textLength="9" lengthAdjust="spacingAndGlyphs" >3</text><line x1="232.9" y1="143.0" x2="238.9" y2="143.0" stroke="#333" stroke-width="2"/><text x="230.9" y="149.5" font-size="19" text-anchor="end" font-weight="bold" fill="#000" textLength="9" lengthAdjust="spacingAndGlyphs" >4</text><line x1="232.9" y1="67.2" x2="238.9" y2="67.2" stroke="#333" stroke-width="2"/><text x="230.9" y="73.7" font-size="19" text-anchor="end" font-weight="bold" fill="#000" textLength="9" lengthAdjust="spacingAndGlyphs" >5</text><line x1="235.9" y1="408.5" x2="238.9" y2="408.5" stroke="#333" stroke-width="2"/><line x1="235.9" y1="332.6" x2="238.9" y2="332.6" stroke="#333" stroke-width="2"/><line x1="235.9" y1="256.8" x2="238.9" y2="256.8" stroke="#333" stroke-width="2"/><line x1="235.9" y1="181.0" x2="238.9" y2="181.0" stroke="#333" stroke-width="2"/><line x1="235.9" y1="105.1" x2="238.9" y2="105.1" stroke="#333" stroke-width="2"/><text x="238.9" y="465.0" font-size="19" text-anchor="middle" font-weight="bold" fill="#000" textLength="9.5" lengthAdjust="spacingAndGlyphs" >0</text><text x="374.3" y="465.0" font-size="19" text-anchor="middle" font-weight="bold" fill="#000" textLength="19.0" lengthAdjust="spacingAndGlyphs" >25</text><text x="509.7" y="465.0" font-size="19" text-anchor="middle" font-weight="bold" fill="#000" textLength="19.0" lengthAdjust="spacingAndGlyphs" >50</text><text x="645.1" y="465.0" font-size="19" text-anchor="middle" font-weight="bold" fill="#000" textLength="19.0" lengthAdjust="spacingAndGlyphs" >75</text><text x="780.5" y="465.0" font-size="19" text-anchor="middle" font-weight="bold" fill="#000" textLength="28.5" lengthAdjust="spacingAndGlyphs" >100</text><text x="510.0" y="498.0" font-size="25" text-anchor="middle" font-weight="bold" fill="#000" textLength="101" lengthAdjust="spacingAndGlyphs" >Time(ns)</text><text x="211.0" y="256.0" font-size="25" text-anchor="middle" font-weight="bold" fill="#000" textLength="106" lengthAdjust="spacingAndGlyphs" transform="rotate(-90 211.0 256.0)" >RMSD (Å)</text><path d="M1136.6 94.1L1137.0 138.4L1137.3 155.7L1137.7 213.9L1138.1 216.7L1138.5 227.3L1138.8 218.3L1139.2 240.8L1139.6 223.7L1140.0 237.2L1140.3 230.3L1140.7 246.7L1141.1 251.8L1141.4 244.8L1141.8 242.8L1142.2 258.0L1142.6 236.0L1142.9 232.9L1143.3 250.8L1143.7 233.8L1144.1 226.7L1144.4 215.4L1144.8 219.3L1145.2 230.7L1145.5 215.7L1145.9 211.5L1146.3 207.0L1146.7 189.3L1147.0 202.9L1147.4 205.8L1147.8 198.1L1148.1 195.6L1148.5 188.0L1148.9 199.4L1149.3 209.5L1149.6 191.3L1150.0 205.0L1150.4 200.6L1150.8 207.4L1151.1 216.0L1151.5 205.2L1151.9 206.0L1152.2 225.7L1152.6 220.9L1153.0 226.7L1153.4 235.2L1153.7 236.7L1154.1 218.4L1154.5 223.6L1154.9 241.0L1155.2 233.8L1155.6 256.6L1156.0 234.7L1156.3 248.5L1156.7 243.4L1157.1 261.8L1157.5 262.0L1157.8 265.7L1158.2 251.0L1158.6 269.4L1158.9 270.4L1159.3 262.3L1159.7 269.0L1160.1 288.6L1160.4 296.2L1160.8 287.4L1161.2 312.3L1161.6 309.5L1161.9 295.7L1162.3 292.3L1162.7 309.2L1163.0 311.2L1163.4 289.2L1163.8 291.6L1164.2 300.1L1164.5 288.4L1164.9 295.3L1165.3 272.6L1165.7 272.2L1166.0 262.1L1166.4 273.9L1166.8 253.3L1167.1 255.7L1167.5 246.9L1167.9 246.2L1168.3 232.8L1168.6 229.4L1169.0 222.8L1169.4 232.8L1169.7 224.2L1170.1 225.4L1170.5 213.9L1170.9 208.3L1171.2 215.4L1171.6 197.3L1172.0 199.2L1172.4 196.4L1172.7 192.0L1173.1 181.1L1173.5 188.8L1173.8 200.4L1174.2 197.2L1174.6 180.7L1175.0 189.0L1175.3 175.6L1175.7 180.5L1176.1 182.2L1176.5 170.9L1176.8 184.0L1177.2 179.5L1177.6 177.6L1177.9 172.6L1178.3 157.7L1178.7 158.5L1179.1 156.6L1179.4 159.9L1179.8 174.7L1180.2 165.6L1180.5 158.6L1180.9 146.8L1181.3 159.6L1181.7 153.4L1182.0 144.3L1182.4 156.3L1182.8 144.3L1183.2 147.1L1183.5 147.6L1183.9 143.5L1184.3 146.0L1184.6 154.4L1185.0 132.7L1185.4 129.6L1185.8 135.3L1186.1 150.0L1186.5 145.0L1186.9 143.7L1187.3 164.3L1187.6 147.7L1188.0 168.1L1188.4 148.3L1188.7 168.5L1189.1 152.2L1189.5 173.2L1189.9 167.7L1190.2 162.3L1190.6 160.6L1191.0 170.0L1191.3 169.0L1191.7 182.5L1192.1 175.6L1192.5 187.2L1192.8 175.5L1193.2 181.8L1193.6 194.0L1194.0 186.0L1194.3 206.3L1194.7 186.9L1195.1 195.0L1195.4 206.4L1195.8 200.6L1196.2 200.5L1196.6 208.1L1196.9 205.4L1197.3 220.9L1197.7 227.0L1198.1 229.4L1198.4 235.4L1198.8 234.2L1199.2 231.0L1199.5 231.8L1199.9 240.8L1200.3 230.1L1200.7 218.7L1201.0 219.6L1201.4 226.9L1201.8 206.7L1202.1 214.8L1202.5 191.7L1202.9 177.0L1203.3 182.7L1203.6 165.0L1204.0 180.4L1204.4 150.5L1204.8 163.1L1205.1 139.9L1205.5 146.2L1205.9 137.0L1206.2 136.5L1206.6 133.9L1207.0 115.1L1207.4 113.8L1207.7 127.4L1208.1 113.8L1208.5 121.1L1208.9 104.3L1209.2 124.8L1209.6 125.1L1210.0 129.0L1210.3 148.6L1210.7 156.6L1211.1 164.4L1211.5 178.1L1211.8 185.7L1212.2 207.4L1212.6 198.6L1212.9 215.6L1213.3 213.4L1213.7 225.9L1214.1 232.6L1214.4 233.2L1214.8 247.1L1215.2 223.2L1215.6 230.8L1215.9 212.4L1216.3 220.5L1216.7 208.8L1217.0 210.5L1217.4 189.0L1217.8 195.0L1218.2 184.8L1218.5 176.2L1218.9 189.5L1219.3 181.1L1219.7 193.2L1220.0 186.7L1220.4 194.2L1220.8 192.5L1221.1 202.5L1221.5 215.2L1221.9 213.6L1222.3 207.7L1222.6 213.4L1223.0 234.4L1223.4 239.9L1223.7 245.6L1224.1 242.6L1224.5 258.0L1224.9 252.0L1225.2 266.3L1225.6 260.4L1226.0 278.9L1226.4 270.0L1226.7 288.1L1227.1 299.5L1227.5 302.4L1227.8 294.0L1228.2 309.8L1228.6 311.9L1229.0 302.6L1229.3 316.3L1229.7 316.3L1230.1 321.6L1230.5 326.5L1230.8 323.9L1231.2 340.1L1231.6 338.9L1231.9 341.6L1232.3 342.3L1232.7 345.6L1233.1 353.1L1233.4 347.2L1233.8 340.8L1234.2 335.1L1234.5 326.1L1234.9 321.7L1235.3 315.1L1235.7 315.8L1236.0 311.0L1236.4 309.1L1236.8 296.9L1237.2 292.2L1237.5 286.9L1237.9 284.5L1238.3 278.7L1238.6 278.2L1239.0 271.7L1239.4 273.2L1239.8 265.1L1240.1 261.4L1240.5 259.1L1240.9 253.1L1241.3 251.0L1241.6 251.6L1242.0 249.9L1242.4 243.4L1242.7 241.0L1243.1 230.1L1243.5 230.1L1243.9 224.4L1244.2 218.7L1244.6 216.4L1245.0 211.9L1245.3 211.2L1245.7 205.5L1246.1 199.8L1246.5 201.3L1246.8 194.9L1247.2 188.7L1247.6 192.1L1248.0 190.1L1248.3 182.3L1248.7 174.4L1249.1 173.9L1249.4 172.9L1249.8 160.8L1250.2 161.8L1250.6 158.0L1250.9 161.0L1251.3 161.8L1251.7 160.6L1252.1 170.5L1252.4 171.3L1252.8 174.2L1253.2 187.8L1253.5 185.2L1253.9 195.1L1254.3 195.2L1254.7 195.4L1255.0 204.2L1255.4 204.2L1255.8 212.3L1256.1 212.9L1256.5 215.3L1256.9 220.9L1257.3 226.8L1257.6 226.4L1258.0 236.2L1258.4 237.9L1258.8 237.1L1259.1 243.7L1259.5 251.5L1259.9 249.3L1260.2 250.7L1260.6 261.9L1261.0 258.1L1261.4 271.0L1261.7 265.2L1262.1 272.4L1262.5 279.6L1262.9 284.3L1263.2 285.3L1263.6 289.0L1264.0 292.0L1264.3 295.6L1264.7 304.7L1265.1 308.6L1265.5 315.1L1265.8 313.7L1266.2 325.9L1266.6 326.2L1266.9 337.5L1267.3 337.3L1267.7 344.9L1268.1 349.7L1268.4 352.7L1268.8 353.3L1269.2 345.5L1269.6 339.4L1269.9 337.2L1270.3 334.7L1270.7 329.8L1271.0 323.9L1271.4 328.6L1271.8 315.0L1272.2 316.3L1272.5 308.1L1272.9 312.6L1273.3 306.4L1273.7 299.7L1274.0 295.6L1274.4 287.9L1274.8 290.3L1275.1 287.1L1275.5 279.2L1275.9 280.0L1276.3 268.5L1276.6 271.4L1277.0 269.8L1277.4 259.6L1277.7 259.9L1278.1 250.2L1278.5 255.6L1278.9 248.8L1279.2 245.0L1279.6 243.2L1280.0 244.9L1280.4 237.4L1280.7 238.6L1281.1 236.6L1281.5 225.2L1281.8 228.9L1282.2 228.0L1282.6 225.8L1283.0 214.3L1283.3 208.8L1283.7 204.3L1284.1 198.3L1284.5 197.9L1284.8 189.2L1285.2 182.1L1285.6 181.4L1285.9 171.0L1286.3 164.7L1286.7 161.9L1287.1 155.1L1287.4 155.7L1287.8 149.9L1288.2 155.8L1288.5 160.9L1288.9 160.6L1289.3 165.8L1289.7 180.1L1290.0 180.3L1290.4 189.6L1290.8 190.4L1291.2 192.6L1291.5 206.4L1291.9 209.3L1292.3 215.2L1292.6 216.9L1293.0 221.3L1293.4 234.4L1293.8 236.6L1294.1 238.0L1294.5 235.2L1294.9 240.3L1295.3 244.7L1295.6 244.4L1296.0 253.3L1296.4 252.3L1296.7 261.0L1297.1 263.9L1297.5 260.5L1297.9 264.5L1298.2 269.6L1298.6 277.4L1299.0 278.9L1299.3 275.9L1299.7 283.7L1300.1 291.0L1300.5 292.1L1300.8 291.7L1301.2 292.0L1301.6 299.5L1302.0 305.3L1302.3 303.6L1302.7 312.1L1303.1 316.3L1303.4 316.9L1303.8 321.2L1304.2 321.5L1304.6 329.3L1304.9 331.1L1305.3 336.7L1305.7 338.3L1306.1 339.7L1306.4 351.5L1306.8 347.5L1307.2 351.9L1307.5 361.8L1307.9 369.8L1308.3 369.7L1308.7 372.0L1309.0 381.3L1309.4 385.9L1309.8 388.6L1310.1 387.6L1310.5 395.1L1310.9 398.6L1311.3 404.2L1311.6 407.8L1312.0 413.7L1312.4 411.3L1312.8 413.5L1313.1 402.8L1313.5 409.4L1313.9 401.1L1314.2 401.2L1314.6 398.3L1315.0 398.8L1315.4 396.8L1315.7 397.3L1316.1 398.6L1316.5 390.7L1316.9 389.1L1317.2 390.7L1317.6 381.7L1318.0 379.8L1318.3 385.2L1318.7 382.2L1319.1 383.9L1319.5 375.2L1319.8 380.9L1320.2 377.3L1320.6 366.0L1320.9 376.2L1321.3 362.9L1321.7 366.3L1322.1 370.3L1322.4 358.4L1322.8 360.2L1323.2 355.0L1323.6 360.1L1323.9 359.4L1324.3 361.1L1324.7 359.0L1325.0 350.2L1325.4 350.5L1325.8 354.7L1326.2 350.5L1326.5 343.3L1326.9 349.4L1327.3 348.3L1327.7 334.4L1328.0 342.5L1328.4 333.7L1328.8 321.2L1329.1 334.3L1329.5 325.8L1329.9 326.7L1330.3 312.7L1330.6 315.1L1331.0 320.6L1331.4 304.8L1331.7 298.9L1332.1 298.6L1332.5 306.9L1332.9 289.1L1333.2 288.8L1333.6 285.0L1334.0 281.1L1334.4 262.7L1334.7 262.0L1335.1 251.3L1335.5 231.2L1335.8 219.5L1336.2 212.5L1336.6 206.2L1337.0 188.6L1337.3 195.8L1337.7 222.3L1338.1 217.6L1338.5 225.8L1338.8 239.6L1339.2 253.0L1339.6 255.5L1339.9 280.8L1340.3 272.1L1340.7 289.5L1341.1 296.7L1341.4 299.7L1341.8 308.5L1342.2 316.9L1342.5 322.6L1342.9 329.1L1343.3 337.0L1343.7 323.4L1344.0 325.4L1344.4 336.3L1344.8 349.4L1345.2 352.0L1345.5 347.5L1345.9 359.6L1346.3 366.1L1346.6 361.5L1347.0 377.0L1347.4 384.8L1347.8 382.4L1348.1 375.4L1348.5 376.9L1348.9 398.6L1349.3 385.2L1349.6 400.2L1350.0 386.8L1350.4 398.7L1350.7 396.0L1351.1 382.2L1351.5 397.4L1351.9 387.3L1352.2 390.9L1352.6 375.0L1353.0 379.7L1353.3 390.6L1353.7 373.4L1354.1 381.1L1354.5 387.2L1354.8 378.0L1355.2 359.1L1355.6 349.3L1356.0 365.7L1356.3 346.5L1356.7 349.5L1357.1 330.8L1357.4 342.0L1357.8 317.7L1358.2 316.6L1358.6 308.0L1358.9 305.7L1359.3 294.7L1359.7 287.6L1360.1 304.8L1360.4 296.3L1360.8 298.0L1361.2 289.6L1361.5 284.0L1361.9 287.2L1362.3 275.7L1362.7 293.4L1363.0 287.7L1363.4 286.5L1363.8 285.8L1364.1 271.0L1364.5 267.1L1364.9 273.4L1365.3 262.9L1365.6 269.7L1366.0 262.1L1366.4 274.0L1366.8 264.5L1367.1 269.9L1367.5 250.3L1367.9 250.3L1368.2 243.3L1368.6 240.4L1369.0 246.5L1369.4 254.5L1369.7 248.3L1370.1 237.6L1370.5 234.1L1370.9 231.4L1371.2 244.4L1371.6 241.6L1372.0 224.2L1372.3 238.2L1372.7 225.2L1373.1 224.7L1373.5 212.9L1373.8 229.1L1374.2 210.4L1374.6 218.4L1374.9 207.5L1375.3 218.6L1375.7 206.4L1376.1 202.3L1376.4 203.0L1376.8 200.4L1377.2 203.5L1377.6 205.2L1377.9 200.6L1378.3 213.7L1378.7 199.2L1379.0 211.5L1379.4 202.7L1379.8 202.1L1380.2 210.1L1380.5 206.8L1380.9 193.3L1381.3 194.7L1381.7 197.9L1382.0 192.1L1382.4 198.7L1382.8 195.8L1383.1 196.5L1383.5 191.5L1383.9 212.3L1384.3 197.0L1384.6 220.6L1385.0 216.2L1385.4 203.4L1385.7 225.7L1386.1 225.7L1386.5 234.1L1386.9 220.6L1387.2 241.0L1387.6 239.8L1388.0 245.2L1388.4 252.7L1388.7 248.2L1389.1 257.3L1389.5 246.8L1389.8 263.2L1390.2 260.8L1390.6 282.3L1391.0 266.1L1391.3 276.5L1391.7 288.0L1392.1 285.8L1392.5 303.6L1392.8 304.2L1393.2 294.4L1393.6 304.6L1393.9 293.1L1394.3 294.6L1394.7 285.7L1395.1 284.8L1395.4 299.5L1395.8 276.9L1396.2 276.4L1396.5 285.0L1396.9 281.8L1397.3 273.4L1397.7 256.4L1398.0 262.7L1398.4 254.6L1398.8 251.3L1399.2 243.8L1399.5 244.4L1399.9 249.4L1400.3 222.6L1400.6 227.3L1401.0 234.1L1401.4 223.4L1401.8 197.9L1402.1 190.8L1402.5 195.3L1402.9 192.4L1403.3 183.8L1403.6 179.7L1404.0 168.8L1404.4 159.0L1404.7 173.1L1405.1 157.7L1405.5 182.2L1405.9 190.8L1406.2 182.8L1406.6 194.9L1407.0 190.5L1407.3 210.3L1407.7 206.5L1408.1 222.5L1408.5 210.4L1408.8 232.1L1409.2 220.6L1409.6 245.7L1410.0 243.4L1410.3 254.0L1410.7 247.4L1411.1 269.0L1411.4 254.1L1411.8 237.2L1412.2 248.1L1412.6 228.7L1412.9 210.1L1413.3 216.1L1413.7 210.5L1414.1 189.6L1414.4 174.7L1414.8 163.8L1415.2 171.9L1415.5 189.0L1415.9 203.5L1416.3 203.5L1416.7 219.6L1417.0 217.8L1417.4 224.9L1417.8 234.8L1418.1 256.5L1418.5 246.6L1418.9 261.4L1419.3 268.9L1419.6 267.3L1420.0 266.1L1420.4 283.6L1420.8 274.9L1421.1 286.6L1421.5 289.5L1421.9 277.3L1422.2 300.8L1422.6 294.2L1423.0 289.3L1423.4 295.6L1423.7 304.0L1424.1 297.4L1424.5 311.8L1424.9 306.6L1425.2 308.1L1425.6 317.3L1426.0 317.9L1426.3 304.4L1426.7 321.9L1427.1 304.9L1427.5 319.5L1427.8 307.9L1428.2 314.3L1428.6 320.2L1428.9 314.0L1429.3 330.2L1429.7 320.0L1430.1 311.9L1430.4 307.1L1430.8 309.7L1431.2 309.1L1431.6 288.4L1431.9 284.1L1432.3 289.7L1432.7 275.6L1433.0 282.7L1433.4 275.4L1433.8 260.2L1434.2 272.8L1434.5 261.8L1434.9 256.7L1435.3 252.8L1435.7 248.2L1436.0 260.6L1436.4 246.6L1436.8 245.1L1437.1 250.5L1437.5 260.6L1437.9 256.4L1438.3 270.8L1438.6 271.4L1439.0 283.1L1439.4 287.0L1439.7 283.8L1440.1 303.1L1440.5 300.2L1440.9 321.4L1441.2 314.1L1441.6 327.6L1442.0 340.5L1442.4 340.7L1442.7 349.5L1443.1 353.8L1443.5 366.1L1443.8 372.8L1444.2 380.6L1444.6 367.7L1445.0 363.1L1445.3 362.4L1445.7 361.0L1446.1 343.3L1446.5 346.4L1446.8 335.2L1447.2 342.4L1447.6 332.6L1447.9 329.1L1448.3 317.7L1448.7 321.8L1449.1 312.9L1449.4 318.7L1449.8 317.3L1450.2 315.3L1450.6 314.8L1450.9 307.4L1451.3 306.6L1451.7 298.2L1452.0 305.6L1452.4 307.5L1452.8 293.2L1453.2 290.0L1453.5 292.6L1453.9 295.7L1454.3 283.4L1454.6 283.7L1455.0 276.1L1455.4 269.9L1455.8 271.1L1456.1 258.5L1456.5 253.5L1456.9 252.8L1457.3 250.4L1457.6 237.0L1458.0 230.6L1458.4 220.3L1458.7 221.1L1459.1 222.7L1459.5 217.5L1459.9 215.5L1460.2 209.0L1460.6 191.7L1461.0 199.5L1461.4 191.5L1461.7 199.6L1462.1 196.0L1462.5 197.4L1462.8 204.8L1463.2 206.2L1463.6 220.8L1464.0 223.6L1464.3 228.0L1464.7 228.4L1465.1 236.0L1465.4 227.2L1465.8 228.5L1466.2 232.9L1466.6 244.0L1466.9 244.5L1467.3 243.7L1467.7 254.4L1468.1 255.0L1468.4 251.9L1468.8 258.2L1469.2 262.8L1469.5 268.0L1469.9 261.5L1470.3 271.7L1470.7 272.7L1471.0 273.1L1471.4 281.6L1471.8 272.8L1472.2 284.8L1472.5 280.3L1472.9 284.7L1473.3 295.0L1473.6 300.1L1474.0 295.4L1474.4 293.5L1474.8 306.1L1475.1 298.3L1475.5 310.7L1475.9 310.7L1476.2 317.4L1476.6 319.7L1477.0 315.2L1477.4 316.1L1477.7 329.7L1478.1 320.2L1478.5 327.4L1478.9 330.1L1479.2 333.6L1479.6 342.5L1480.0 331.5L1480.3 334.6L1480.7 348.3L1481.1 347.2L1481.5 350.9L1481.8 348.9L1482.2 350.7L1482.6 344.6L1483.0 350.8L1483.3 348.4L1483.7 351.7L1484.1 364.2L1484.4 356.9L1484.8 361.2L1485.2 369.4L1485.6 363.9L1485.9 362.5L1486.3 372.1L1486.7 361.6L1487.0 361.6L1487.4 361.9L1487.8 377.9L1488.2 373.4L1488.5 377.3L1488.9 378.8L1489.3 372.6L1489.7 375.8L1490.0 373.8L1490.4 373.2L1490.8 380.3L1491.1 375.6L1491.5 376.9L1491.9 376.5L1492.3 393.3L1492.6 389.9L1493.0 382.4L1493.4 385.2L1493.8 396.7L1494.1 388.9L1494.5 389.4L1494.9 392.9L1495.2 404.9L1495.6 394.4L1496.0 400.6L1496.4 387.0L1496.7 382.0L1497.1 374.1L1497.5 376.4L1497.8 368.8L1498.2 365.2L1498.6 364.7L1499.0 355.6L1499.3 345.8L1499.7 341.1L1500.1 343.9L1500.5 341.2L1500.8 323.4L1501.2 321.8L1501.6 325.4L1501.9 313.0L1502.3 319.7L1502.7 316.1L1503.1 317.3L1503.4 328.3L1503.8 324.9L1504.2 340.0L1504.6 340.6L1504.9 341.8L1505.3 344.0L1505.7 347.9L1506.0 344.3L1506.4 356.8L1506.8 360.8L1507.2 353.2L1507.5 360.2L1507.9 362.3L1508.3 368.2L1508.6 368.7L1509.0 367.5L1509.4 379.7L1509.8 378.7L1510.1 384.3L1510.5 382.8L1510.9 389.0L1511.3 391.8L1511.6 393.7L1512.0 395.8L1512.4 393.8L1512.7 403.3L1513.1 401.8L1513.5 408.7L1513.9 404.9L1514.2 410.8L1514.6 406.1L1515.0 414.0L1515.4 402.6L1515.7 404.7L1516.1 410.2L1516.5 397.1L1516.8 397.1L1517.2 406.0L1517.6 395.9L1518.0 390.8L1518.3 402.0L1518.7 398.3L1519.1 395.3L1519.4 386.8L1519.8 385.4L1520.2 390.9L1520.6 388.6L1520.9 387.1L1521.3 380.1L1521.7 380.4L1522.1 376.7L1522.4 368.3L1522.8 373.8L1523.2 375.0L1523.5 373.5L1523.9 369.2L1524.3 363.7L1524.7 369.9L1525.0 363.6L1525.4 363.8L1525.8 363.9L1526.2 363.9L1526.5 362.8L1526.9 363.7L1527.3 366.3L1527.6 353.3L1528.0 356.1L1528.4 341.1L1528.8 343.6L1529.1 331.5L1529.5 328.0L1529.9 326.0L1530.2 315.9L1530.6 306.3L1531.0 307.7L1531.4 309.9L1531.7 313.3L1532.1 324.9L1532.5 325.2L1532.9 320.3L1533.2 333.9L1533.6 335.1L1534.0 328.1L1534.3 331.1L1534.7 342.9L1535.1 350.9L1535.5 344.3L1535.8 344.6L1536.2 355.0L1536.6 353.7L1537.0 365.0L1537.3 359.8L1537.7 375.0L1538.1 364.0L1538.4 374.5L1538.8 375.9L1539.2 377.8L1539.6 384.2L1539.9 388.4L1540.3 393.1L1540.7 387.3L1541.0 381.2L1541.4 381.6L1541.8 390.3L1542.2 382.2L1542.5 378.5L1542.9 387.7L1543.3 382.3L1543.7 381.3L1544.0 378.5L1544.4 385.1L1544.8 378.2L1545.1 377.5L1545.5 371.9L1545.9 372.3L1546.3 368.0L1546.6 372.2L1547.0 367.5L1547.4 372.5L1547.8 361.7L1548.1 356.6L1548.5 357.9L1548.9 356.2L1549.2 357.9L1549.6 349.6L1550.0 351.1L1550.4 345.8L1550.7 356.6L1551.1 345.1L1551.5 347.3L1551.8 346.7L1552.2 340.5L1552.6 332.7L1553.0 338.1L1553.3 335.3L1553.7 321.8L1554.1 323.0L1554.5 319.4L1554.8 322.2L1555.2 320.1L1555.6 311.6L1555.9 302.4L1556.3 308.0L1556.7 303.1L1557.1 305.5L1557.4 307.0L1557.8 300.4L1558.2 305.2L1558.6 300.1L1558.9 303.3L1559.3 302.7L1559.7 304.7L1560.0 301.1L1560.4 301.8L1560.8 310.8L1561.2 316.9L1561.5 323.2L1561.9 327.1L1562.3 342.1L1562.6 349.5L1563.0 350.8L1563.4 367.8L1563.8 366.8L1564.1 373.9L1564.5 374.1L1564.9 389.7L1565.3 390.0L1565.6 386.5L1566.0 403.7L1566.4 399.8L1566.7 403.1L1567.1 408.7L1567.5 407.2L1567.9 394.2L1568.2 400.9L1568.6 398.2L1569.0 382.8L1569.4 388.4L1569.7 382.0L1570.1 383.2L1570.5 378.6L1570.8 365.3L1571.2 369.7L1571.6 365.8L1572.0 365.7L1572.3 365.0L1572.7 349.3L1573.1 340.2L1573.4 347.2L1573.8 335.4L1574.2 331.6L1574.6 325.3L1574.9 321.6L1575.3 314.6L1575.7 311.6L1576.1 305.3L1576.4 305.3L1576.8 292.0L1577.2 285.5L1577.5 293.8L1577.9 300.7L1578.3 305.7L1578.7 298.5L1579.0 299.2L1579.4 314.5L1579.8 311.2L1580.2 315.2L1580.5 313.1L1580.9 317.4L1581.3 319.8L1581.6 312.2L1582.0 322.1L1582.4 322.4L1582.8 317.7L1583.1 315.9L1583.5 314.8L1583.9 318.5L1584.2 320.6L1584.6 316.5L1585.0 315.9L1585.4 318.5L1585.7 319.6L1586.1 327.9L1586.5 328.4L1586.9 330.5L1587.2 332.4L1587.6 333.1L1588.0 337.7L1588.3 331.4L1588.7 331.3L1589.1 329.3L1589.5 333.5L1589.8 340.3L1590.2 336.7L1590.6 337.2L1591.0 342.7L1591.3 334.4L1591.7 344.8L1592.1 343.8L1592.4 335.4L1592.8 339.2L1593.2 338.6L1593.6 346.7L1593.9 342.1L1594.3 349.9L1594.7 348.5L1595.0 348.2L1595.4 344.8L1595.8 356.1L1596.2 344.2L1596.5 358.6L1596.9 348.6L1597.3 358.0L1597.7 360.6L1598.0 349.8L1598.4 358.0L1598.8 352.5L1599.1 360.7L1599.5 364.3L1599.9 364.2L1600.3 360.7L1600.6 355.8L1601.0 365.6L1601.4 368.5L1601.8 379.1L1602.1 376.1L1602.5 381.7L1602.9 385.8L1603.2 386.3L1603.6 387.3L1604.0 400.0L1604.4 402.2L1604.7 403.3L1605.1 396.9L1605.5 396.1L1605.8 397.8L1606.2 379.6L1606.6 385.1L1607.0 373.7L1607.3 365.8L1607.7 372.8L1608.1 357.2L1608.5 350.1L1608.8 347.6L1609.2 347.7L1609.6 352.7L1609.9 340.0L1610.3 353.8L1610.7 338.6L1611.1 339.7L1611.4 337.4L1611.8 349.4L1612.2 335.5L1612.6 336.0L1612.9 335.6L1613.3 342.0L1613.7 342.1L1614.0 343.3L1614.4 331.6L1614.8 330.8L1615.2 341.2L1615.5 340.4L1615.9 336.8L1616.3 338.0L1616.6 333.7L1617.0 329.5L1617.4 327.3L1617.8 336.6L1618.1 332.3L1618.5 336.9L1618.9 331.7L1619.3 335.0L1619.6 336.6L1620.0 334.9L1620.4 339.1L1620.7 341.7L1621.1 343.4L1621.5 337.4L1621.9 347.3L1622.2 347.9L1622.6 340.4L1623.0 348.9L1623.4 352.9L1623.7 343.6L1624.1 345.3L1624.5 354.6L1624.8 358.5L1625.2 353.1L1625.6 352.5L1626.0 360.3L1626.3 355.3L1626.7 355.7L1627.1 370.0L1627.4 356.6L1627.8 371.2L1628.2 368.3L1628.6 360.9L1628.9 361.6L1629.3 373.6L1629.7 371.9L1630.1 366.4L1630.4 361.2L1630.8 360.9L1631.2 364.1L1631.5 353.6L1631.9 359.8L1632.3 356.8L1632.7 346.4L1633.0 354.2L1633.4 355.7L1633.8 349.2L1634.2 340.0L1634.5 340.0L1634.9 346.1L1635.3 340.0L1635.6 323.9L1636.0 318.6L1636.4 318.0L1636.8 314.3L1637.1 302.9L1637.5 305.5L1637.9 293.0L1638.2 283.0L1638.6 275.8L1639.0 277.1L1639.4 281.2L1639.7 280.0L1640.1 283.0L1640.5 288.0L1640.9 298.7L1641.2 301.7L1641.6 303.7L1642.0 313.4L1642.3 314.9L1642.7 325.8L1643.1 323.3L1643.5 326.3L1643.8 319.5L1644.2 320.9L1644.6 334.8L1645.0 331.4L1645.3 335.1L1645.7 332.8L1646.1 334.0L1646.4 339.1L1646.8 337.0L1647.2 337.1L1647.6 328.9L1647.9 333.3L1648.3 336.5L1648.7 343.2L1649.0 333.7L1649.4 347.8L1649.8 335.2L1650.2 337.3L1650.5 350.1L1650.9 352.7L1651.3 346.1L1651.7 346.3L1652.0 349.8L1652.4 347.4L1652.8 347.4L1653.1 360.2L1653.5 353.4L1653.9 358.7L1654.3 343.0L1654.6 341.4L1655.0 340.8L1655.4 341.0L1655.8 332.8L1656.1 339.7L1656.5 326.6L1656.9 331.0L1657.2 323.3L1657.6 319.9" fill="none" stroke="#0000f0" stroke-width="3" stroke-linejoin="round"/><path d="M1136.6 141.1L1137.0 145.4L1137.3 137.4L1137.7 152.9L1138.1 176.5L1138.5 175.3L1138.8 182.8L1139.2 201.3L1139.6 205.3L1140.0 246.3L1140.3 260.3L1140.7 271.5L1141.1 276.9L1141.4 275.0L1141.8 273.3L1142.2 269.5L1142.6 292.4L1142.9 284.3L1143.3 285.7L1143.7 300.5L1144.1 311.9L1144.4 285.8L1144.8 308.7L1145.2 311.0L1145.5 296.7L1145.9 308.4L1146.3 313.6L1146.7 306.5L1147.0 330.4L1147.4 312.2L1147.8 323.9L1148.1 334.1L1148.5 319.2L1148.9 313.1L1149.3 336.3L1149.6 325.7L1150.0 337.3L1150.4 326.1L1150.8 328.6L1151.1 345.2L1151.5 328.7L1151.9 335.3L1152.2 336.0L1152.6 333.5L1153.0 346.5L1153.4 338.3L1153.7 336.3L1154.1 360.4L1154.5 340.1L1154.9 354.9L1155.2 353.9L1155.6 365.1L1156.0 350.5L1156.3 363.8L1156.7 348.5L1157.1 367.3L1157.5 360.5L1157.8 364.3L1158.2 353.2L1158.6 360.3L1158.9 355.8L1159.3 334.4L1159.7 329.3L1160.1 329.7L1160.4 314.5L1160.8 330.2L1161.2 306.6L1161.6 321.3L1161.9 296.4L1162.3 305.3L1162.7 304.9L1163.0 293.5L1163.4 297.8L1163.8 296.8L1164.2 317.0L1164.5 307.0L1164.9 314.2L1165.3 310.2L1165.7 308.6L1166.0 289.3L1166.4 309.2L1166.8 303.5L1167.1 296.4L1167.5 284.4L1167.9 279.3L1168.3 284.7L1168.6 296.9L1169.0 285.6L1169.4 279.2L1169.7 295.9L1170.1 276.2L1170.5 283.2L1170.9 275.1L1171.2 271.0L1171.6 269.1L1172.0 271.4L1172.4 268.6L1172.7 276.8L1173.1 266.6L1173.5 275.1L1173.8 263.2L1174.2 259.8L1174.6 251.3L1175.0 260.1L1175.3 268.7L1175.7 252.6L1176.1 259.8L1176.5 242.9L1176.8 250.9L1177.2 249.3L1177.6 232.4L1177.9 244.0L1178.3 242.5L1178.7 239.7L1179.1 233.2L1179.4 241.2L1179.8 225.8L1180.2 212.6L1180.5 219.8L1180.9 212.0L1181.3 203.6L1181.7 203.7L1182.0 203.6L1182.4 198.9L1182.8 196.0L1183.2 209.8L1183.5 201.6L1183.9 203.6L1184.3 203.9L1184.6 193.6L1185.0 198.7L1185.4 188.6L1185.8 187.7L1186.1 198.9L1186.5 187.8L1186.9 187.4L1187.3 176.9L1187.6 191.9L1188.0 187.8L1188.4 180.9L1188.7 186.6L1189.1 182.3L1189.5 194.2L1189.9 200.7L1190.2 183.5L1190.6 205.0L1191.0 210.4L1191.3 209.6L1191.7 210.7L1192.1 216.6L1192.5 211.0L1192.8 203.0L1193.2 227.6L1193.6 223.6L1194.0 220.9L1194.3 219.2L1194.7 220.2L1195.1 247.3L1195.4 240.8L1195.8 235.7L1196.2 262.0L1196.6 251.8L1196.9 267.0L1197.3 255.2L1197.7 254.7L1198.1 269.5L1198.4 287.7L1198.8 285.1L1199.2 271.2L1199.5 255.3L1199.9 267.1L1200.3 251.1L1200.7 253.6L1201.0 252.9L1201.4 238.7L1201.8 248.2L1202.1 245.6L1202.5 234.3L1202.9 240.5L1203.3 231.9L1203.6 238.1L1204.0 246.5L1204.4 238.1L1204.8 225.9L1205.1 233.0L1205.5 221.6L1205.9 246.0L1206.2 236.2L1206.6 224.9L1207.0 228.7L1207.4 233.6L1207.7 232.5L1208.1 228.6L1208.5 235.3L1208.9 240.4L1209.2 241.6L1209.6 240.6L1210.0 251.1L1210.3 243.7L1210.7 246.7L1211.1 243.9L1211.5 253.5L1211.8 266.8L1212.2 255.2L1212.6 248.5L1212.9 255.8L1213.3 257.3L1213.7 265.5L1214.1 267.9L1214.4 257.2L1214.8 252.1L1215.2 210.2L1215.6 188.4L1215.9 178.9L1216.3 202.9L1216.7 206.1L1217.0 188.9L1217.4 204.3L1217.8 210.3L1218.2 210.2L1218.5 205.8L1218.9 221.3L1219.3 215.7L1219.7 214.0L1220.0 216.2L1220.4 237.9L1220.8 221.3L1221.1 234.6L1221.5 238.3L1221.9 238.8L1222.3 249.7L1222.6 238.1L1223.0 258.9L1223.4 254.2L1223.7 267.4L1224.1 259.8L1224.5 256.4L1224.9 260.6L1225.2 282.4L1225.6 272.8L1226.0 268.9L1226.4 289.1L1226.7 286.5L1227.1 281.8L1227.5 284.0L1227.8 294.0L1228.2 292.0L1228.6 294.1L1229.0 304.8L1229.3 300.1L1229.7 304.8L1230.1 304.5L1230.5 312.1L1230.8 319.5L1231.2 320.0L1231.6 310.8L1231.9 332.1L1232.3 336.1L1232.7 342.5L1233.1 324.5L1233.4 324.0L1233.8 345.8L1234.2 347.7L1234.5 340.8L1234.9 322.3L1235.3 316.6L1235.7 299.6L1236.0 306.3L1236.4 281.1L1236.8 282.8L1237.2 277.6L1237.5 281.7L1237.9 283.0L1238.3 297.2L1238.6 298.4L1239.0 303.6L1239.4 316.7L1239.8 313.0L1240.1 306.4L1240.5 310.9L1240.9 336.4L1241.3 323.3L1241.6 334.4L1242.0 341.9L1242.4 344.6L1242.7 331.2L1243.1 330.0L1243.5 343.6L1243.9 349.8L1244.2 349.5L1244.6 344.4L1245.0 349.2L1245.3 368.8L1245.7 367.9L1246.1 354.3L1246.5 364.1L1246.8 360.7L1247.2 358.3L1247.6 362.4L1248.0 360.7L1248.3 365.9L1248.7 374.3L1249.1 375.9L1249.4 356.8L1249.8 381.5L1250.2 365.5L1250.6 361.4L1250.9 377.9L1251.3 383.0L1251.7 375.1L1252.1 377.4L1252.4 374.8L1252.8 376.2L1253.2 364.3L1253.5 385.0L1253.9 365.5L1254.3 386.9L1254.7 364.5L1255.0 378.6L1255.4 368.4L1255.8 385.4L1256.1 374.0L1256.5 367.8L1256.9 368.3L1257.3 363.4L1257.6 378.6L1258.0 372.0L1258.4 366.2L1258.8 379.8L1259.1 359.6L1259.5 369.1L1259.9 372.6L1260.2 372.6L1260.6 361.6L1261.0 375.6L1261.4 370.2L1261.7 368.1L1262.1 369.7L1262.5 359.2L1262.9 363.5L1263.2 356.9L1263.6 362.7L1264.0 373.4L1264.3 373.7L1264.7 379.4L1265.1 377.5L1265.5 369.7L1265.8 367.6L1266.2 379.0L1266.6 378.7L1266.9 368.7L1267.3 365.9L1267.7 387.8L1268.1 389.0L1268.4 373.4L1268.8 380.7L1269.2 383.3L1269.6 379.3L1269.9 377.2L1270.3 394.6L1270.7 374.2L1271.0 375.2L1271.4 389.1L1271.8 388.8L1272.2 394.4L1272.5 387.5L1272.9 396.6L1273.3 388.7L1273.7 379.9L1274.0 389.4L1274.4 381.8L1274.8 397.2L1275.1 380.4L1275.5 398.5L1275.9 396.4L1276.3 384.3L1276.6 394.3L1277.0 398.6L1277.4 399.4L1277.7 382.6L1278.1 400.9L1278.5 400.1L1278.9 379.0L1279.2 382.9L1279.6 392.6L1280.0 396.8L1280.4 380.6L1280.7 380.0L1281.1 380.3L1281.5 381.1L1281.8 378.7L1282.2 365.6L1282.6 373.8L1283.0 381.7L1283.3 379.4L1283.7 364.7L1284.1 359.0L1284.5 358.9L1284.8 353.8L1285.2 361.8L1285.6 357.5L1285.9 357.5L1286.3 352.5L1286.7 352.5L1287.1 336.7L1287.4 350.3L1287.8 346.5L1288.2 332.1L1288.5 341.7L1288.9 345.8L1289.3 333.8L1289.7 338.5L1290.0 357.0L1290.4 361.3L1290.8 356.2L1291.2 357.1L1291.5 365.2L1291.9 362.3L1292.3 363.1L1292.6 362.7L1293.0 378.8L1293.4 372.2L1293.8 387.2L1294.1 387.8L1294.5 388.7L1294.9 388.1L1295.3 373.4L1295.6 383.6L1296.0 381.6L1296.4 383.3L1296.7 389.7L1297.1 394.1L1297.5 391.7L1297.9 376.8L1298.2 389.6L1298.6 388.4L1299.0 392.8L1299.3 382.5L1299.7 384.2L1300.1 392.3L1300.5 390.2L1300.8 393.5L1301.2 390.1L1301.6 390.8L1302.0 392.9L1302.3 387.1L1302.7 387.7L1303.1 410.0L1303.4 404.1L1303.8 413.6L1304.2 407.6L1304.6 399.5L1304.9 404.0L1305.3 408.2L1305.7 420.9L1306.1 406.0L1306.4 412.2L1306.8 419.7L1307.2 406.1L1307.5 420.7L1307.9 414.8L1308.3 398.6L1308.7 413.1L1309.0 408.6L1309.4 397.7L1309.8 390.5L1310.1 390.8L1310.5 400.9L1310.9 393.0L1311.3 380.7L1311.6 386.3L1312.0 387.3L1312.4 389.2L1312.8 380.8L1313.1 363.2L1313.5 380.7L1313.9 366.8L1314.2 356.2L1314.6 358.5L1315.0 366.2L1315.4 355.9L1315.7 366.2L1316.1 355.6L1316.5 359.2L1316.9 343.1L1317.2 341.4L1317.6 342.0L1318.0 349.3L1318.3 337.4L1318.7 331.1L1319.1 343.9L1319.5 338.2L1319.8 345.2L1320.2 346.3L1320.6 331.1L1320.9 347.2L1321.3 333.6L1321.7 345.6L1322.1 331.5L1322.4 329.2L1322.8 324.2L1323.2 338.0L1323.6 337.8L1323.9 337.4L1324.3 329.3L1324.7 327.0L1325.0 344.3L1325.4 341.0L1325.8 351.2L1326.2 349.4L1326.5 339.2L1326.9 336.7L1327.3 338.4L1327.7 366.0L1328.0 360.0L1328.4 350.1L1328.8 363.1L1329.1 370.4L1329.5 361.4L1329.9 362.1L1330.3 385.0L1330.6 373.7L1331.0 380.4L1331.4 375.8L1331.7 362.1L1332.1 366.3L1332.5 346.8L1332.9 355.7L1333.2 357.3L1333.6 340.6L1334.0 347.6L1334.4 349.6L1334.7 318.5L1335.1 338.8L1335.5 336.7L1335.8 322.9L1336.2 334.2L1336.6 307.7L1337.0 326.2L1337.3 324.4L1337.7 293.4L1338.1 304.0L1338.5 290.1L1338.8 292.6L1339.2 299.0L1339.6 321.8L1339.9 304.7L1340.3 323.7L1340.7 326.8L1341.1 303.1L1341.4 320.8L1341.8 309.0L1342.2 317.1L1342.5 310.9L1342.9 316.7L1343.3 308.2L1343.7 324.5L1344.0 313.7L1344.4 315.3L1344.8 323.0L1345.2 326.1L1345.5 329.0L1345.9 323.1L1346.3 337.3L1346.6 330.6L1347.0 324.9L1347.4 335.8L1347.8 339.2L1348.1 343.1L1348.5 322.6L1348.9 321.1L1349.3 323.0L1349.6 327.5L1350.0 331.2L1350.4 348.3L1350.7 324.1L1351.1 337.0L1351.5 331.2L1351.9 350.1L1352.2 333.0L1352.6 353.0L1353.0 330.3L1353.3 339.7L1353.7 347.0L1354.1 345.1L1354.5 359.8L1354.8 353.5L1355.2 367.9L1355.6 363.9L1356.0 365.6L1356.3 371.1L1356.7 365.3L1357.1 374.2L1357.4 372.5L1357.8 360.5L1358.2 337.8L1358.6 343.0L1358.9 349.2L1359.3 353.3L1359.7 352.9L1360.1 341.2L1360.4 331.2L1360.8 323.2L1361.2 331.4L1361.5 316.8L1361.9 315.3L1362.3 312.7L1362.7 327.7L1363.0 323.0L1363.4 331.7L1363.8 318.2L1364.1 334.0L1364.5 320.5L1364.9 329.1L1365.3 319.0L1365.6 327.3L1366.0 332.1L1366.4 318.8L1366.8 318.0L1367.1 314.0L1367.5 325.9L1367.9 314.0L1368.2 319.4L1368.6 325.4L1369.0 314.8L1369.4 306.4L1369.7 316.8L1370.1 302.6L1370.5 296.6L1370.9 316.3L1371.2 306.4L1371.6 300.7L1372.0 287.6L1372.3 287.1L1372.7 280.9L1373.1 292.1L1373.5 281.9L1373.8 282.0L1374.2 260.6L1374.6 258.8L1374.9 266.5L1375.3 246.8L1375.7 271.0L1376.1 276.5L1376.4 267.6L1376.8 260.5L1377.2 254.0L1377.6 269.1L1377.9 282.2L1378.3 270.1L1378.7 289.5L1379.0 267.2L1379.4 284.0L1379.8 292.5L1380.2 293.0L1380.5 274.3L1380.9 273.8L1381.3 297.5L1381.7 274.8L1382.0 280.8L1382.4 298.7L1382.8 309.0L1383.1 307.8L1383.5 294.6L1383.9 296.9L1384.3 293.0L1384.6 285.6L1385.0 262.7L1385.4 283.4L1385.7 252.0L1386.1 261.6L1386.5 248.3L1386.9 250.4L1387.2 232.7L1387.6 251.1L1388.0 244.2L1388.4 231.9L1388.7 257.3L1389.1 294.2L1389.5 326.6L1389.8 364.7L1390.2 359.5L1390.6 344.0L1391.0 337.3L1391.3 345.4L1391.7 322.7L1392.1 317.5L1392.5 331.5L1392.8 336.3L1393.2 316.4L1393.6 315.1L1393.9 325.8L1394.3 318.1L1394.7 334.7L1395.1 335.2L1395.4 349.2L1395.8 339.3L1396.2 322.0L1396.5 345.1L1396.9 343.0L1397.3 344.9L1397.7 330.9L1398.0 327.0L1398.4 328.1L1398.8 318.0L1399.2 322.4L1399.5 322.6L1399.9 322.6L1400.3 324.1L1400.6 332.8L1401.0 328.3L1401.4 311.6L1401.8 317.9L1402.1 309.4L1402.5 300.5L1402.9 297.9L1403.3 301.8L1403.6 297.5L1404.0 296.3L1404.4 281.9L1404.7 283.2L1405.1 300.0L1405.5 302.2L1405.9 309.6L1406.2 305.2L1406.6 316.6L1407.0 310.0L1407.3 327.1L1407.7 324.5L1408.1 329.6L1408.5 327.7L1408.8 329.3L1409.2 322.3L1409.6 326.5L1410.0 335.4L1410.3 326.1L1410.7 315.0L1411.1 320.2L1411.4 311.1L1411.8 319.1L1412.2 305.7L1412.6 308.2L1412.9 294.1L1413.3 308.9L1413.7 300.3L1414.1 289.8L1414.4 295.1L1414.8 291.5L1415.2 291.8L1415.5 294.3L1415.9 287.6L1416.3 274.3L1416.7 274.2L1417.0 281.1L1417.4 271.7L1417.8 268.4L1418.1 270.6L1418.5 287.6L1418.9 287.7L1419.3 274.1L1419.6 289.8L1420.0 282.1L1420.4 287.3L1420.8 284.7L1421.1 302.8L1421.5 287.9L1421.9 291.7L1422.2 307.2L1422.6 300.6L1423.0 317.5L1423.4 303.1L1423.7 314.9L1424.1 311.2L1424.5 312.9L1424.9 331.0L1425.2 316.7L1425.6 335.0L1426.0 336.8L1426.3 333.6L1426.7 340.4L1427.1 334.9L1427.5 345.8L1427.8 339.1L1428.2 338.2L1428.6 336.0L1428.9 349.1L1429.3 353.3L1429.7 349.3L1430.1 349.7L1430.4 346.2L1430.8 354.7L1431.2 359.5L1431.6 364.2L1431.9 357.6L1432.3 360.8L1432.7 373.0L1433.0 369.4L1433.4 372.9L1433.8 367.4L1434.2 370.6L1434.5 375.9L1434.9 369.5L1435.3 367.8L1435.7 375.1L1436.0 366.2L1436.4 381.7L1436.8 383.5L1437.1 371.5L1437.5 375.5L1437.9 373.4L1438.3 371.5L1438.6 381.5L1439.0 377.2L1439.4 382.2L1439.7 386.5L1440.1 388.4L1440.5 380.4L1440.9 394.9L1441.2 395.0L1441.6 395.7L1442.0 394.1L1442.4 407.2L1442.7 397.1L1443.1 408.2L1443.5 400.5L1443.8 398.2L1444.2 394.8L1444.6 393.7L1445.0 392.1L1445.3 402.5L1445.7 395.5L1446.1 386.4L1446.5 391.8L1446.8 381.5L1447.2 383.4L1447.6 379.2L1447.9 373.3L1448.3 363.6L1448.7 379.1L1449.1 373.1L1449.4 370.0L1449.8 364.0L1450.2 363.9L1450.6 341.1L1450.9 353.9L1451.3 343.8L1451.7 332.1L1452.0 336.3L1452.4 337.1L1452.8 332.5L1453.2 326.2L1453.5 324.7L1453.9 317.8L1454.3 315.2L1454.6 318.0L1455.0 298.7L1455.4 293.1L1455.8 297.4L1456.1 302.8L1456.5 283.1L1456.9 290.1L1457.3 286.0L1457.6 284.8L1458.0 267.9L1458.4 268.8L1458.7 272.7L1459.1 267.7L1459.5 262.9L1459.9 260.0L1460.2 250.5L1460.6 241.4L1461.0 255.4L1461.4 240.2L1461.7 245.1L1462.1 262.4L1462.5 252.5L1462.8 259.5L1463.2 267.4L1463.6 284.4L1464.0 282.8L1464.3 281.7L1464.7 290.6L1465.1 305.2L1465.4 295.4L1465.8 306.0L1466.2 313.4L1466.6 314.7L1466.9 323.1L1467.3 321.8L1467.7 332.3L1468.1 316.8L1468.4 337.4L1468.8 337.2L1469.2 341.2L1469.5 339.9L1469.9 344.2L1470.3 335.3L1470.7 350.8L1471.0 336.9L1471.4 350.6L1471.8 340.9L1472.2 355.4L1472.5 362.2L1472.9 349.4L1473.3 364.4L1473.6 354.9L1474.0 354.1L1474.4 368.9L1474.8 368.8L1475.1 365.8L1475.5 361.8L1475.9 363.9L1476.2 372.9L1476.6 373.2L1477.0 370.5L1477.4 384.9L1477.7 371.7L1478.1 374.9L1478.5 389.0L1478.9 383.2L1479.2 383.1L1479.6 386.6L1480.0 398.4L1480.3 399.1L1480.7 396.6L1481.1 399.4L1481.5 392.6L1481.8 388.3L1482.2 392.0L1482.6 386.1L1483.0 394.7L1483.3 396.1L1483.7 402.9L1484.1 387.4L1484.4 393.4L1484.8 388.0L1485.2 385.1L1485.6 396.3L1485.9 381.1L1486.3 378.1L1486.7 367.7L1487.0 376.2L1487.4 359.1L1487.8 354.9L1488.2 354.2L1488.5 353.8L1488.9 338.7L1489.3 352.5L1489.7 348.4L1490.0 355.9L1490.4 352.0L1490.8 354.6L1491.1 349.0L1491.5 349.2L1491.9 350.2L1492.3 357.4L1492.6 352.3L1493.0 355.6L1493.4 359.5L1493.8 356.3L1494.1 354.1L1494.5 362.5L1494.9 352.2L1495.2 357.7L1495.6 361.2L1496.0 358.5L1496.4 354.0L1496.7 359.5L1497.1 346.7L1497.5 356.0L1497.8 350.4L1498.2 344.8L1498.6 344.4L1499.0 346.3L1499.3 344.5L1499.7 342.6L1500.1 344.9L1500.5 346.8L1500.8 338.0L1501.2 355.3L1501.6 359.1L1501.9 358.7L1502.3 363.4L1502.7 352.4L1503.1 364.0L1503.4 360.4L1503.8 369.9L1504.2 379.5L1504.6 370.1L1504.9 373.1L1505.3 390.8L1505.7 381.7L1506.0 388.1L1506.4 394.7L1506.8 390.7L1507.2 382.2L1507.5 391.7L1507.9 382.7L1508.3 383.2L1508.6 382.3L1509.0 388.1L1509.4 374.9L1509.8 379.4L1510.1 375.6L1510.5 375.8L1510.9 380.8L1511.3 371.9L1511.6 379.9L1512.0 371.6L1512.4 382.1L1512.7 388.8L1513.1 385.4L1513.5 388.4L1513.9 379.4L1514.2 393.4L1514.6 384.0L1515.0 402.1L1515.4 401.7L1515.7 400.3L1516.1 393.5L1516.5 397.8L1516.8 399.9L1517.2 397.7L1517.6 387.4L1518.0 397.0L1518.3 383.9L1518.7 389.6L1519.1 381.3L1519.4 376.7L1519.8 381.8L1520.2 384.0L1520.6 380.9L1520.9 378.6L1521.3 379.2L1521.7 370.7L1522.1 366.7L1522.4 373.1L1522.8 363.7L1523.2 365.6L1523.5 370.1L1523.9 371.3L1524.3 381.9L1524.7 375.0L1525.0 389.8L1525.4 391.9L1525.8 392.5L1526.2 389.3L1526.5 383.0L1526.9 397.7L1527.3 391.7L1527.6 387.5L1528.0 382.5L1528.4 387.7L1528.8 393.5L1529.1 396.4L1529.5 388.2L1529.9 382.4L1530.2 381.7L1530.6 385.5L1531.0 393.7L1531.4 395.5L1531.7 395.8L1532.1 391.4L1532.5 386.8L1532.9 395.8L1533.2 388.5L1533.6 396.0L1534.0 388.7L1534.3 395.3L1534.7 392.5L1535.1 403.8L1535.5 399.5L1535.8 395.2L1536.2 413.3L1536.6 397.7L1537.0 405.8L1537.3 399.9L1537.7 414.5L1538.1 409.1L1538.4 404.0L1538.8 404.2L1539.2 402.2L1539.6 396.1L1539.9 407.8L1540.3 395.9L1540.7 399.5L1541.0 389.3L1541.4 387.1L1541.8 395.1L1542.2 395.2L1542.5 383.5L1542.9 381.3L1543.3 382.6L1543.7 378.3L1544.0 375.6L1544.4 382.4L1544.8 382.9L1545.1 386.7L1545.5 377.7L1545.9 380.0L1546.3 368.6L1546.6 368.9L1547.0 360.9L1547.4 363.7L1547.8 370.0L1548.1 365.9L1548.5 360.7L1548.9 357.0L1549.2 346.5L1549.6 349.3L1550.0 352.1L1550.4 350.0L1550.7 341.4L1551.1 347.6L1551.5 337.7L1551.8 326.5L1552.2 323.4L1552.6 328.3L1553.0 326.9L1553.3 329.1L1553.7 322.6L1554.1 323.3L1554.5 318.0L1554.8 310.6L1555.2 312.5L1555.6 322.3L1555.9 319.9L1556.3 310.6L1556.7 306.9L1557.1 315.6L1557.4 312.8L1557.8 324.9L1558.2 327.3L1558.6 315.2L1558.9 318.8L1559.3 328.4L1559.7 323.3L1560.0 328.2L1560.4 327.3L1560.8 332.6L1561.2 332.5L1561.5 330.2L1561.9 343.5L1562.3 341.5L1562.6 341.1L1563.0 361.9L1563.4 361.7L1563.8 363.4L1564.1 363.1L1564.5 369.1L1564.9 363.7L1565.3 381.4L1565.6 381.6L1566.0 387.8L1566.4 387.9L1566.7 382.2L1567.1 394.2L1567.5 379.7L1567.9 385.1L1568.2 399.6L1568.6 388.5L1569.0 402.9L1569.4 396.2L1569.7 396.5L1570.1 392.1L1570.5 380.2L1570.8 368.5L1571.2 378.1L1571.6 370.6L1572.0 360.3L1572.3 346.3L1572.7 352.1L1573.1 337.5L1573.4 338.4L1573.8 334.8L1574.2 323.8L1574.6 329.0L1574.9 315.2L1575.3 316.6L1575.7 299.9L1576.1 283.5L1576.4 292.9L1576.8 284.6L1577.2 268.2L1577.5 253.9L1577.9 253.1L1578.3 237.9L1578.7 246.4L1579.0 236.7L1579.4 253.8L1579.8 246.2L1580.2 257.0L1580.5 250.5L1580.9 268.0L1581.3 265.6L1581.6 257.1L1582.0 262.6L1582.4 270.6L1582.8 275.1L1583.1 267.2L1583.5 283.5L1583.9 286.0L1584.2 290.9L1584.6 282.2L1585.0 280.2L1585.4 297.1L1585.7 287.9L1586.1 290.3L1586.5 303.4L1586.9 301.3L1587.2 304.0L1587.6 317.2L1588.0 304.7L1588.3 323.3L1588.7 326.7L1589.1 320.3L1589.5 327.7L1589.8 326.2L1590.2 332.5L1590.6 344.9L1591.0 339.6L1591.3 331.2L1591.7 344.8L1592.1 348.3L1592.4 336.6L1592.8 352.6L1593.2 347.9L1593.6 338.4L1593.9 342.1L1594.3 356.6L1594.7 357.1L1595.0 349.4L1595.4 345.2L1595.8 342.4L1596.2 353.1L1596.5 348.4L1596.9 347.4L1597.3 349.6L1597.7 342.3L1598.0 344.4L1598.4 345.9L1598.8 338.3L1599.1 345.8L1599.5 339.2L1599.9 334.8L1600.3 341.7L1600.6 346.2L1601.0 345.7L1601.4 330.4L1601.8 329.1L1602.1 329.9L1602.5 341.6L1602.9 336.4L1603.2 322.9L1603.6 329.0L1604.0 330.4L1604.4 319.7L1604.7 318.8L1605.1 330.9L1605.5 321.4L1605.8 318.8L1606.2 317.1L1606.6 314.2L1607.0 315.2L1607.3 325.8L1607.7 319.6L1608.1 319.7L1608.5 309.9L1608.8 309.7L1609.2 300.1L1609.6 311.5L1609.9 311.7L1610.3 311.6L1610.7 306.6L1611.1 292.2L1611.4 295.4L1611.8 299.7L1612.2 291.3L1612.6 287.6L1612.9 290.9L1613.3 294.1L1613.7 279.3L1614.0 279.1L1614.4 285.7L1614.8 275.7L1615.2 279.7L1615.5 272.5L1615.9 264.2L1616.3 264.2L1616.6 266.7L1617.0 260.3L1617.4 272.2L1617.8 267.8L1618.1 277.0L1618.5 273.6L1618.9 277.4L1619.3 279.6L1619.6 277.9L1620.0 281.3L1620.4 281.0L1620.7 297.1L1621.1 284.4L1621.5 291.1L1621.9 301.4L1622.2 305.1L1622.6 301.8L1623.0 298.9L1623.4 296.6L1623.7 293.1L1624.1 295.0L1624.5 294.5L1624.8 296.6L1625.2 298.1L1625.6 297.6L1626.0 303.3L1626.3 315.5L1626.7 309.4L1627.1 313.2L1627.4 310.5L1627.8 319.0L1628.2 309.1L1628.6 322.1L1628.9 320.4L1629.3 327.1L1629.7 315.2L1630.1 316.1L1630.4 313.9L1630.8 325.8L1631.2 322.5L1631.5 310.9L1631.9 310.2L1632.3 322.7L1632.7 315.1L1633.0 321.2L1633.4 306.2L1633.8 304.7L1634.2 300.8L1634.5 300.6L1634.9 305.1L1635.3 303.4L1635.6 295.9L1636.0 297.6L1636.4 285.6L1636.8 291.9L1637.1 289.6L1637.5 277.9L1637.9 288.6L1638.2 289.2L1638.6 295.6L1639.0 282.3L1639.4 291.4L1639.7 294.6L1640.1 288.5L1640.5 290.0L1640.9 304.4L1641.2 307.7L1641.6 296.1L1642.0 296.6L1642.3 305.9L1642.7 304.4L1643.1 318.9L1643.5 308.9L1643.8 314.3L1644.2 311.5L1644.6 311.0L1645.0 300.6L1645.3 298.1L1645.7 298.8L1646.1 291.9L1646.4 301.2L1646.8 296.7L1647.2 295.8L1647.6 288.1L1647.9 281.2L1648.3 290.2L1648.7 274.8L1649.0 281.8L1649.4 281.7L1649.8 277.9L1650.2 266.0L1650.5 276.7L1650.9 266.4L1651.3 266.1L1651.7 259.0L1652.0 258.7L1652.4 261.2L1652.8 257.4L1653.1 240.2L1653.5 244.5L1653.9 234.8L1654.3 230.5L1654.6 233.0L1655.0 223.8L1655.4 228.8L1655.8 227.2L1656.1 214.4L1656.5 219.2L1656.9 216.6L1657.2 209.1L1657.6 206.7" fill="none" stroke="#f03c3c" stroke-width="3" stroke-linejoin="round"/><rect x="1135.6" y="67.5" width="525.2" height="376.0" fill="none" stroke="#000" stroke-width="2.6"/><line x1="1126.6" y1="369.6" x2="1135.6" y2="369.6" stroke="#000" stroke-width="2.2"/><text x="1123.6" y="375.1" font-size="17" text-anchor="end" font-weight="bold" fill="#000" textLength="26" lengthAdjust="spacingAndGlyphs" >0.2</text><line x1="1126.6" y1="268.9" x2="1135.6" y2="268.9" stroke="#000" stroke-width="2.2"/><text x="1123.6" y="274.4" font-size="17" text-anchor="end" font-weight="bold" fill="#000" textLength="26" lengthAdjust="spacingAndGlyphs" >0.4</text><line x1="1126.6" y1="168.2" x2="1135.6" y2="168.2" stroke="#000" stroke-width="2.2"/><text x="1123.6" y="173.7" font-size="17" text-anchor="end" font-weight="bold" fill="#000" textLength="26" lengthAdjust="spacingAndGlyphs" >0.6</text><line x1="1126.6" y1="67.5" x2="1135.6" y2="67.5" stroke="#000" stroke-width="2.2"/><text x="1123.6" y="73.0" font-size="17" text-anchor="end" font-weight="bold" fill="#000" textLength="26" lengthAdjust="spacingAndGlyphs" >0.8</text><line x1="1130.6" y1="420.0" x2="1135.6" y2="420.0" stroke="#000" stroke-width="2"/><line x1="1130.6" y1="319.2" x2="1135.6" y2="319.2" stroke="#000" stroke-width="2"/><line x1="1130.6" y1="218.6" x2="1135.6" y2="218.6" stroke="#000" stroke-width="2"/><line x1="1130.6" y1="117.9" x2="1135.6" y2="117.9" stroke="#000" stroke-width="2"/><line x1="1135.6" y1="443.5" x2="1135.6" y2="451.5" stroke="#000" stroke-width="2.2"/><text x="1135.6" y="472.0" font-size="18" text-anchor="middle" font-weight="bold" fill="#000" textLength="9.3" lengthAdjust="spacingAndGlyphs" >0</text><line x1="1225.2" y1="443.5" x2="1225.2" y2="451.5" stroke="#000" stroke-width="2.2"/><text x="1225.2" y="472.0" font-size="18" text-anchor="middle" font-weight="bold" fill="#000" textLength="27.900000000000002" lengthAdjust="spacingAndGlyphs" >100</text><line x1="1314.8" y1="443.5" x2="1314.8" y2="451.5" stroke="#000" stroke-width="2.2"/><text x="1314.8" y="472.0" font-size="18" text-anchor="middle" font-weight="bold" fill="#000" textLength="27.900000000000002" lengthAdjust="spacingAndGlyphs" >200</text><line x1="1404.4" y1="443.5" x2="1404.4" y2="451.5" stroke="#000" stroke-width="2.2"/><text x="1404.4" y="472.0" font-size="18" text-anchor="middle" font-weight="bold" fill="#000" textLength="27.900000000000002" lengthAdjust="spacingAndGlyphs" >300</text><line x1="1494.0" y1="443.5" x2="1494.0" y2="451.5" stroke="#000" stroke-width="2.2"/><text x="1494.0" y="472.0" font-size="18" text-anchor="middle" font-weight="bold" fill="#000" textLength="27.900000000000002" lengthAdjust="spacingAndGlyphs" >400</text><line x1="1583.6" y1="443.5" x2="1583.6" y2="451.5" stroke="#000" stroke-width="2.2"/><text x="1583.6" y="472.0" font-size="18" text-anchor="middle" font-weight="bold" fill="#000" textLength="27.900000000000002" lengthAdjust="spacingAndGlyphs" >500</text><line x1="1180.4" y1="443.5" x2="1180.4" y2="448.5" stroke="#000" stroke-width="2"/><line x1="1270.0" y1="443.5" x2="1270.0" y2="448.5" stroke="#000" stroke-width="2"/><line x1="1359.6" y1="443.5" x2="1359.6" y2="448.5" stroke="#000" stroke-width="2"/><line x1="1449.2" y1="443.5" x2="1449.2" y2="448.5" stroke="#000" stroke-width="2"/><line x1="1538.8" y1="443.5" x2="1538.8" y2="448.5" stroke="#000" stroke-width="2"/><line x1="1628.4" y1="443.5" x2="1628.4" y2="448.5" stroke="#000" stroke-width="2"/><line x1="1411.5" y1="86.3" x2="1464.5" y2="86.3" stroke="#0000f0" stroke-width="4" stroke-linecap="round"/><line x1="1411.5" y1="112.4" x2="1464.5" y2="112.4" stroke="#f04444" stroke-width="4" stroke-linecap="round"/><text x="1470.5" y="94.4" font-size="23.5" text-anchor="start" font-weight="normal" fill="#111" textLength="179" lengthAdjust="spacingAndGlyphs" >BSA Side Chain A</text><text x="1470.5" y="120.5" font-size="23.5" text-anchor="start" font-weight="normal" fill="#111" textLength="178" lengthAdjust="spacingAndGlyphs" >BSA Side Chain B</text><text x="1397.7" y="506.0" font-size="20.5" text-anchor="middle" font-weight="bold" fill="#000" textLength="169" lengthAdjust="spacingAndGlyphs" >Residue Number</text><text x="1074.0" y="246.0" font-size="22" text-anchor="middle" font-weight="bold" fill="#000" textLength="90" lengthAdjust="spacingAndGlyphs" transform="rotate(-90 1074.0 246.0)" >RMSF(Å)</text><path d="M228.5 788.0L228.8 778.6L229.1 767.5L229.3 767.4L229.6 734.5L229.9 730.5L230.2 677.0L230.5 709.1L230.7 723.3L231.0 730.7L231.3 718.8L231.6 725.8L231.9 727.4L232.1 700.4L232.4 735.9L232.7 716.6L233.0 713.4L233.3 716.7L233.6 696.6L233.8 741.5L234.1 704.1L234.4 735.4L234.7 733.2L235.0 717.4L235.2 716.0L235.5 712.7L235.8 715.5L236.1 693.2L236.4 705.9L236.6 723.5L236.9 702.8L237.2 730.7L237.5 699.7L237.8 717.3L238.0 734.9L238.3 693.9L238.6 725.4L238.9 727.5L239.2 728.5L239.4 707.6L239.7 707.0L240.0 693.5L240.3 682.7L240.6 730.5L240.9 700.7L241.1 727.4L241.4 734.5L241.7 698.8L242.0 733.5L242.3 709.1L242.5 720.5L242.8 709.5L243.1 721.1L243.4 697.6L243.7 723.1L243.9 729.3L244.2 706.5L244.5 720.4L244.8 715.5L245.1 719.4L245.3 717.6L245.6 721.3L245.9 717.8L246.2 703.0L246.5 727.7L246.7 700.1L247.0 736.4L247.3 717.3L247.6 714.2L247.9 722.5L248.2 718.6L248.4 735.4L248.7 699.8L249.0 710.9L249.3 728.9L249.6 736.7L249.8 706.3L250.1 712.5L250.4 701.8L250.7 701.8L251.0 736.0L251.2 702.1L251.5 707.6L251.8 747.1L252.1 718.0L252.4 718.5L252.6 706.4L252.9 730.8L253.2 735.1L253.5 733.8L253.8 704.6L254.0 721.2L254.3 688.1L254.6 700.4L254.9 719.3L255.2 738.4L255.5 683.2L255.7 725.9L256.0 704.3L256.3 742.8L256.6 723.2L256.9 720.2L257.1 742.8L257.4 704.5L257.7 731.1L258.0 729.8L258.3 691.2L258.5 692.1L258.8 705.2L259.1 722.7L259.4 727.8L259.7 693.2L259.9 711.9L260.2 698.9L260.5 711.7L260.8 704.8L261.1 723.2L261.3 689.7L261.6 687.4L261.9 731.8L262.2 719.1L262.5 708.6L262.8 728.5L263.0 727.7L263.3 717.6L263.6 723.0L263.9 705.3L264.2 735.4L264.4 708.1L264.7 741.1L265.0 737.1L265.3 721.1L265.6 723.4L265.8 727.8L266.1 736.4L266.4 737.1L266.7 695.3L267.0 691.1L267.2 691.1L267.5 713.1L267.8 731.1L268.1 718.5L268.4 712.6L268.6 718.5L268.9 716.0L269.2 721.7L269.5 711.4L269.8 699.7L270.1 707.0L270.3 707.2L270.6 700.8L270.9 712.6L271.2 743.6L271.5 704.8L271.7 707.8L272.0 743.2L272.3 741.6L272.6 705.1L272.9 724.0L273.1 710.5L273.4 718.9L273.7 719.0L274.0 741.1L274.3 729.5L274.5 738.8L274.8 748.1L275.1 746.4L275.4 719.3L275.7 743.9L275.9 717.5L276.2 731.2L276.5 747.8L276.8 758.3L277.1 727.1L277.4 758.9L277.6 716.8L277.9 757.1L278.2 725.7L278.5 770.6L278.8 768.4L279.0 725.0L279.3 762.9L279.6 766.0L279.9 750.7L280.2 749.7L280.4 758.4L280.7 722.1L281.0 761.6L281.3 757.4L281.6 726.2L281.8 749.2L282.1 763.7L282.4 763.6L282.7 756.1L283.0 751.1L283.2 717.9L283.5 741.9L283.8 747.2L284.1 738.4L284.4 753.4L284.7 747.4L284.9 726.8L285.2 723.8L285.5 743.2L285.8 777.4L286.1 728.1L286.3 755.3L286.6 738.8L286.9 747.1L287.2 747.5L287.5 759.3L287.7 745.0L288.0 727.9L288.3 735.2L288.6 750.7L288.9 736.1L289.1 758.3L289.4 753.5L289.7 729.0L290.0 778.5L290.3 724.4L290.5 742.1L290.8 750.2L291.1 731.8L291.4 755.4L291.7 730.1L292.0 732.1L292.2 775.8L292.5 723.6L292.8 726.2L293.1 766.3L293.4 746.5L293.6 719.9L293.9 740.1L294.2 737.3L294.5 750.0L294.8 726.4L295.0 748.2L295.3 726.7L295.6 729.8L295.9 757.7L296.2 763.7L296.4 775.6L296.7 740.1L297.0 727.3L297.3 775.4L297.6 743.5L297.8 777.8L298.1 767.8L298.4 767.5L298.7 757.5L299.0 764.4L299.2 741.8L299.5 778.4L299.8 759.3L300.1 760.3L300.4 736.8L300.7 750.1L300.9 760.6L301.2 775.0L301.5 768.7L301.8 750.2L302.1 779.3L302.3 748.5L302.6 750.1L302.9 771.0L303.2 754.4L303.5 779.8L303.7 779.9L304.0 767.9L304.3 770.0L304.6 780.2L304.9 766.0L305.1 780.4L305.4 780.9L305.7 747.4L306.0 760.4L306.3 750.0L306.5 754.1L306.8 755.1L307.1 740.0L307.4 735.6L307.7 754.7L308.0 773.6L308.2 776.4L308.5 755.3L308.8 721.7L309.1 782.3L309.4 787.1L309.6 787.6L309.9 758.8L310.2 743.1L310.5 741.7L310.8 772.4L311.0 756.5L311.3 757.0L311.6 747.9L311.9 778.4L312.2 757.6L312.4 783.2L312.7 769.8L313.0 777.1L313.3 779.4L313.6 757.3L313.8 746.5L314.1 757.6L314.4 745.2L314.7 756.4L315.0 750.8L315.3 763.5L315.5 769.2L315.8 751.8L316.1 774.4L316.4 747.7L316.7 749.1L316.9 783.1L317.2 767.4L317.5 782.5L317.8 762.6L318.1 791.0L318.3 793.4L318.6 787.3L318.9 759.2L319.2 792.8L319.5 787.0L319.7 782.3L320.0 761.3L320.3 766.4L320.6 800.3L320.9 780.5L321.1 756.9L321.4 790.3L321.7 743.0L322.0 801.8L322.3 813.1L322.6 774.6L322.8 762.6L323.1 765.4L323.4 759.9L323.7 798.2L324.0 791.1L324.2 782.7L324.5 769.2L324.8 789.1L325.1 762.1L325.4 778.4L325.6 751.0L325.9 767.4L326.2 773.3L326.5 766.2L326.8 751.0L327.0 769.2L327.3 766.9L327.6 789.7L327.9 751.0L328.2 763.4L328.4 779.0L328.7 764.5L329.0 753.8L329.3 753.9L329.6 750.8L329.9 792.7L330.1 774.2L330.4 792.3L330.7 786.7L331.0 769.9L331.3 771.9L331.5 804.5L331.8 811.9L332.1 783.9L332.4 808.0L332.7 821.7L332.9 797.8L333.2 810.8L333.5 817.5L333.8 828.1L334.1 783.9L334.3 802.2L334.6 783.2L334.9 784.4L335.2 818.5L335.5 827.5L335.7 813.2L336.0 806.6L336.3 794.7L336.6 800.6L336.9 796.2L337.2 807.9L337.4 796.5L337.7 816.7L338.0 829.6L338.3 821.6L338.6 801.5L338.8 807.1L339.1 789.0L339.4 801.4L339.7 808.5L340.0 839.3L340.2 817.3L340.5 837.7L340.8 824.3L341.1 844.1L341.4 844.1L341.6 853.6L341.9 840.7L342.2 869.6L342.5 831.8L342.8 854.2L343.0 814.0L343.3 850.0L343.6 838.8L343.9 849.1L344.2 829.9L344.5 832.3L344.7 835.4L345.0 836.3L345.3 818.9L345.6 812.9L345.9 827.7L346.1 819.8L346.4 804.1L346.7 826.7L347.0 761.6L347.3 802.4L347.5 820.4L347.8 810.4L348.1 798.2L348.4 820.8L348.7 811.2L348.9 807.9L349.2 788.4L349.5 809.7L349.8 808.0L350.1 797.9L350.3 811.9L350.6 790.1L350.9 808.9L351.2 787.1L351.5 787.1L351.8 816.9L352.0 803.3L352.3 791.8L352.6 782.4L352.9 801.1L353.2 798.1L353.4 823.7L353.7 816.1L354.0 809.6L354.3 831.6L354.6 832.0L354.8 832.3L355.1 828.3L355.4 832.5L355.7 829.9L356.0 824.5L356.2 834.2L356.5 834.6L356.8 835.0L357.1 824.7L357.4 825.1L357.6 818.2L357.9 815.4L358.2 832.4L358.5 816.5L358.8 826.9L359.1 825.6L359.3 813.5L359.6 821.4L359.9 804.9L360.2 836.7L360.5 799.3L360.7 816.2L361.0 799.2L361.3 824.3L361.6 810.3L361.9 825.0L362.1 792.1L362.4 811.5L362.7 789.7L363.0 795.7L363.3 820.1L363.5 829.0L363.8 820.2L364.1 821.6L364.4 789.7L364.7 815.0L364.9 791.1L365.2 825.6L365.5 812.4L365.8 832.2L366.1 821.6L366.3 823.6L366.6 821.6L366.9 807.2L367.2 799.4L367.5 804.5L367.8 825.6L368.0 809.4L368.3 818.6L368.6 810.1L368.9 832.4L369.2 819.2L369.4 831.2L369.7 809.1L370.0 822.9L370.3 813.2L370.6 834.6L370.8 800.0L371.1 808.6L371.4 829.0L371.7 806.2L372.0 832.4L372.2 850.8L372.5 841.3L372.8 820.1L373.1 817.5L373.4 812.3L373.6 831.8L373.9 829.1L374.2 827.3L374.5 796.2L374.8 807.0L375.1 806.3L375.3 814.4L375.6 812.9L375.9 816.4L376.2 798.8L376.5 803.7L376.7 831.8L377.0 822.8L377.3 813.9L377.6 804.2L377.9 834.7L378.1 801.4L378.4 801.9L378.7 822.4L379.0 798.0L379.3 843.0L379.5 790.1L379.8 790.5L380.1 818.2L380.4 789.7L380.7 811.7L380.9 823.2L381.2 829.5L381.5 805.7L381.8 820.0L382.1 818.2L382.4 832.4L382.6 816.7L382.9 811.3L383.2 819.4L383.5 825.7L383.8 826.5L384.0 810.0L384.3 824.9L384.6 832.1L384.9 798.6L385.2 833.6L385.4 817.7L385.7 806.0L386.0 828.7L386.3 829.5L386.6 828.6L386.8 835.1L387.1 828.1L387.4 811.0L387.7 793.7L388.0 793.8L388.2 798.6L388.5 809.7L388.8 775.8L389.1 818.1L389.4 794.6L389.7 783.6L389.9 781.9L390.2 780.4L390.5 831.4L390.8 798.6L391.1 794.6L391.3 790.0L391.6 820.0L391.9 795.1L392.2 795.0L392.5 805.1L392.7 789.4L393.0 791.8L393.3 823.5L393.6 787.1L393.9 800.1L394.1 815.3L394.4 803.9L394.7 786.3L395.0 814.6L395.3 792.5L395.5 802.8L395.8 813.5L396.1 796.4L396.4 811.2L396.7 801.5L397.0 821.1L397.2 814.1L397.5 802.1L397.8 809.5L398.1 811.6L398.4 802.8L398.6 794.3L398.9 791.9L399.2 790.2L399.5 820.7L399.8 791.0L400.0 800.8L400.3 797.5L400.6 811.8L400.9 808.8L401.2 789.9L401.4 802.5L401.7 803.8L402.0 795.4L402.3 808.4L402.6 789.8L402.8 800.2L403.1 790.3L403.4 785.0L403.7 788.3L404.0 780.4L404.3 780.4L404.5 788.8L404.8 780.4L405.1 794.0L405.4 801.8L405.7 803.8L405.9 778.5L406.2 798.8L406.5 808.4L406.8 799.7L407.1 796.1L407.3 789.3L407.6 810.8L407.9 800.8L408.2 786.9L408.5 798.4L408.7 801.6L409.0 764.0L409.3 793.8L409.6 802.6L409.9 789.2L410.1 780.9L410.4 777.0L410.7 777.8L411.0 775.5L411.3 783.6L411.6 773.8L411.8 773.2L412.1 773.5L412.4 775.8L412.7 794.4L413.0 778.4L413.2 773.5L413.5 767.7L413.8 772.5L414.1 803.8L414.4 765.6L414.6 782.3L414.9 782.0L415.2 798.9L415.5 784.3L415.8 788.2L416.0 780.3L416.3 781.6L416.6 789.1L416.9 784.0L417.2 765.0L417.4 808.5L417.7 752.2L418.0 798.4L418.3 786.7L418.6 766.5L418.9 809.3L419.1 764.5L419.4 767.2L419.7 770.6L420.0 800.6L420.3 770.8L420.5 768.0L420.8 791.2L421.1 768.6L421.4 770.4L421.7 787.7L421.9 764.7L422.2 790.9L422.5 770.4L422.8 777.1L423.1 771.4L423.3 763.4L423.6 779.2L423.9 771.9L424.2 794.6L424.5 767.2L424.7 785.2L425.0 798.7L425.3 791.0L425.6 763.4L425.9 800.4L426.1 768.1L426.4 775.9L426.7 799.2L427.0 777.7L427.3 803.8L427.6 784.0L427.8 761.2L428.1 781.3L428.4 800.7L428.7 775.1L429.0 779.3L429.2 770.2L429.5 780.2L429.8 773.9L430.1 788.9L430.4 807.9L430.6 770.8L430.9 797.8L431.2 774.9L431.5 785.0L431.8 763.4L432.0 763.4L432.3 772.7L432.6 809.3L432.9 772.8L433.2 779.6L433.4 797.6L433.7 792.4L434.0 802.9L434.3 790.2L434.6 760.5L434.9 801.7L435.1 794.2L435.4 783.1L435.7 783.4L436.0 800.2L436.3 803.6L436.5 794.8L436.8 790.0L437.1 756.6L437.4 787.3L437.7 803.8L437.9 776.8L438.2 752.2L438.5 777.0L438.8 795.1L439.1 804.2L439.3 780.1L439.6 785.8L439.9 782.4L440.2 775.5L440.5 785.0L440.7 775.7L441.0 795.5L441.3 790.0L441.6 793.5L441.9 800.1L442.2 786.0L442.4 785.9L442.7 781.7L443.0 793.1L443.3 807.7L443.6 810.2L443.8 800.8L444.1 796.0L444.4 806.7L444.7 802.5L445.0 813.2L445.2 809.9L445.5 811.7L445.8 808.6L446.1 799.1L446.4 801.5L446.6 795.8L446.9 810.3L447.2 801.2L447.5 801.6L447.8 814.2L448.0 807.8L448.3 790.0L448.6 822.2L448.9 824.3L449.2 810.1L449.5 808.7L449.7 808.1L450.0 816.8L450.3 807.5L450.6 813.8L450.9 814.5L451.1 811.6L451.4 802.1L451.7 827.6L452.0 820.9L452.3 821.8L452.5 827.6L452.8 809.5L453.1 816.4L453.4 825.5L453.7 826.4L453.9 822.8L454.2 815.7L454.5 819.2L454.8 813.8L455.1 813.3L455.3 808.6L455.6 806.0L455.9 805.2L456.2 826.3L456.5 825.7L456.8 808.5L457.0 810.4L457.3 824.7L457.6 816.4L457.9 819.2L458.2 808.2L458.4 818.6L458.7 795.7L459.0 794.5L459.3 822.2L459.6 801.3L459.8 798.0L460.1 816.5L460.4 801.7L460.7 823.6L461.0 826.1L461.2 822.4L461.5 807.8L461.8 800.8L462.1 792.6L462.4 814.0L462.6 817.3L462.9 817.3L463.2 793.1L463.5 791.7L463.8 793.6L464.1 819.5L464.3 821.3L464.6 813.7L464.9 802.4L465.2 800.7L465.5 800.5L465.7 812.4L466.0 793.6L466.3 796.1L466.6 810.4L466.9 816.3L467.1 822.4L467.4 816.1L467.7 815.3L468.0 811.6L468.3 809.5L468.5 796.5L468.8 811.7L469.1 811.8L469.4 797.4L469.7 819.2L469.9 818.2L470.2 841.4L470.5 805.5L470.8 808.2L471.1 812.0L471.4 815.5L471.6 823.7L471.9 803.0L472.2 803.2L472.5 808.4L472.8 810.2L473.0 800.2L473.3 796.4L473.6 815.5L473.9 824.3L474.2 824.5L474.4 823.5L474.7 793.1L475.0 812.0L475.3 813.4L475.6 808.8L475.8 795.6L476.1 797.7L476.4 793.1L476.7 793.2L477.0 805.1L477.2 833.3L477.5 812.5L477.8 817.6L478.1 796.3L478.4 805.8L478.7 803.6L478.9 795.0L479.2 809.0L479.5 809.2L479.8 816.9L480.1 787.5L480.3 809.4L480.6 808.8L480.9 816.8L481.2 830.2L481.5 825.3L481.7 828.9L482.0 829.0L482.3 825.1L482.6 825.0L482.9 795.8L483.1 819.4L483.4 810.9L483.7 794.0L484.0 812.4L484.3 799.7L484.5 794.1L484.8 799.8L485.1 795.4L485.4 794.2L485.7 812.4L486.0 794.2L486.2 800.4L486.5 818.3L486.8 794.7L487.1 795.4L487.4 794.9L487.6 803.6L487.9 801.2L488.2 817.3L488.5 796.8L488.8 821.3L489.0 811.2L489.3 816.5L489.6 807.5L489.9 798.7L490.2 799.2L490.4 818.3L490.7 796.5L491.0 793.6L491.3 825.1L491.6 800.5L491.8 810.9L492.1 809.3L492.4 813.3L492.7 802.4L493.0 811.5L493.2 822.8L493.5 817.7L493.8 793.2L494.1 809.0L494.4 792.4L494.7 801.2L494.9 799.8L495.2 819.8L495.5 817.1L495.8 810.5L496.1 795.0L496.3 808.8L496.6 814.0L496.9 793.8L497.2 803.5L497.5 798.4L497.7 798.7L498.0 796.6L498.3 799.6L498.6 810.8L498.9 777.2L499.1 787.4L499.4 790.7L499.7 780.0L500.0 812.5L500.3 810.0L500.5 812.5L500.8 773.0L501.1 821.6L501.4 781.4L501.7 798.5L502.0 775.3L502.2 816.1L502.5 795.4L502.8 786.4L503.1 772.8L503.4 774.9L503.6 795.2L503.9 792.3L504.2 773.1L504.5 789.0L504.8 802.1L505.0 808.7L505.3 764.6L505.6 797.3L505.9 773.4L506.2 794.1L506.4 769.6L506.7 785.2L507.0 778.3L507.3 792.6L507.6 788.1L507.8 790.4L508.1 798.0L508.4 779.2L508.7 796.0L509.0 752.7L509.3 791.9L509.5 785.3L509.8 774.9L510.1 749.4L510.4 767.1L510.7 784.9L510.9 799.8L511.2 790.3L511.5 757.9L511.8 788.8L512.1 780.2L512.3 778.1L512.6 783.4L512.9 760.1L513.2 764.9L513.5 779.7L513.7 754.6L514.0 763.5L514.3 759.1L514.6 756.5L514.9 778.3L515.1 772.3L515.4 758.8L515.7 776.0L516.0 746.9L516.3 740.0L516.6 742.4L516.8 756.7L517.1 748.3L517.4 748.0L517.7 735.3L518.0 740.4L518.2 751.9L518.5 742.7L518.8 725.3L519.1 748.3L519.4 717.8L519.6 721.4L519.9 718.3L520.2 736.5L520.5 751.7L520.8 758.4L521.0 741.2L521.3 743.2L521.6 725.3L521.9 704.5L522.2 713.7L522.4 728.1L522.7 735.1L523.0 712.4L523.3 719.9L523.6 728.8L523.9 724.5L524.1 700.3L524.4 701.8L524.7 709.9L525.0 723.2L525.3 716.6L525.5 736.6L525.8 714.4L526.1 681.7L526.4 730.8L526.7 727.6L526.9 730.4L527.2 738.2L527.5 712.2L527.8 742.4L528.1 716.6L528.3 710.4L528.6 732.5L528.9 742.8L529.2 718.8L529.5 722.3L529.7 723.6L530.0 702.6L530.3 688.6L530.6 702.7L530.9 721.3L531.2 737.2L531.4 740.8L531.7 739.0L532.0 730.4L532.3 708.0L532.6 718.3L532.8 721.8L533.1 705.5L533.4 720.9L533.7 733.7L534.0 728.4L534.2 703.0L534.5 702.9L534.8 721.0L535.1 703.1L535.4 731.3L535.6 699.1L535.9 693.7L536.2 745.2L536.5 719.2L536.8 728.8L537.0 742.4L537.3 730.0L537.6 696.3L537.9 732.6L538.2 721.4L538.5 719.5L538.7 737.9L539.0 735.7L539.3 738.0L539.6 726.8L539.9 715.0L540.1 736.9L540.4 723.0L540.7 721.5L541.0 725.5L541.3 709.4L541.5 699.4L541.8 744.9L542.1 748.3L542.4 742.8L542.7 742.8L542.9 722.6L543.2 735.1L543.5 739.9L543.8 709.1L544.1 731.0L544.3 725.1L544.6 738.7L544.9 714.8L545.2 742.8L545.5 735.9L545.8 723.7L546.0 707.5L546.3 730.0L546.6 714.3L546.9 731.5L547.2 726.9L547.4 742.8L547.7 714.1L548.0 720.5L548.3 729.0L548.6 713.4L548.8 741.8L549.1 734.3L549.4 719.2L549.7 705.5L550.0 703.9L550.2 714.3L550.5 700.6L550.8 711.1L551.1 721.5L551.4 694.7L551.6 717.2L551.9 696.4L552.2 728.0L552.5 727.7L552.8 737.6L553.1 732.0L553.3 742.8L553.6 724.5L553.9 717.7L554.2 704.8L554.5 711.5L554.7 704.5L555.0 722.6L555.3 715.9L555.6 734.7L555.9 717.5L556.1 729.1L556.4 714.3L556.7 724.5L557.0 715.3L557.3 718.9L557.5 717.0L557.8 742.8L558.1 739.9L558.4 706.0L558.7 740.6L558.9 726.7L559.2 745.1L559.5 745.9L559.8 742.0L560.1 747.7L560.3 748.6L560.6 739.6L560.9 731.5L561.2 732.7L561.5 727.1L561.8 747.7L562.0 730.9L562.3 754.9L562.6 755.8L562.9 752.5L563.2 747.4L563.4 743.9L563.7 735.3L564.0 737.2L564.3 761.2L564.6 732.9L564.8 750.1L565.1 739.3L565.4 762.6L565.7 734.8L566.0 758.6L566.2 751.1L566.5 748.5L566.8 761.3L567.1 759.3L567.4 764.7L567.6 764.3L567.9 735.4L568.2 734.9L568.5 733.6L568.8 719.8L569.1 752.4L569.3 768.8L569.6 723.4L569.9 725.5L570.2 771.4L570.5 728.5L570.7 728.7L571.0 723.3L571.3 735.5L571.6 731.1L571.9 741.3L572.1 763.9L572.4 759.7L572.7 752.0L573.0 744.4L573.3 769.2L573.5 734.6L573.8 761.7L574.1 739.3L574.4 765.4L574.7 770.0L574.9 758.3L575.2 733.5L575.5 773.1L575.8 773.7L576.1 761.5L576.4 742.1L576.6 757.8L576.9 779.0L577.2 773.2L577.5 756.9L577.8 766.6L578.0 744.8L578.3 766.5L578.6 776.6L578.9 758.7L579.2 753.0L579.4 755.4L579.7 766.6L580.0 751.9L580.3 771.5L580.6 770.9L580.8 778.1L581.1 779.3L581.4 748.4L581.7 757.5L582.0 745.6L582.2 757.6L582.5 765.3L582.8 767.9L583.1 768.5L583.4 783.8L583.7 765.5L583.9 769.8L584.2 742.6L584.5 762.8L584.8 747.1L585.1 742.8L585.3 739.8L585.6 753.9L585.9 739.5L586.2 762.1L586.5 737.3L586.7 738.8L587.0 762.4L587.3 743.8L587.6 755.4L587.9 752.4L588.1 752.9L588.4 744.1L588.7 736.7L589.0 732.5L589.3 745.0L589.5 748.1L589.8 732.8L590.1 726.3L590.4 730.1L590.7 726.7L591.0 759.2L591.2 754.6L591.5 757.1L591.8 732.6L592.1 747.3L592.4 736.5L592.6 740.3L592.9 737.1L593.2 744.4L593.5 748.8L593.8 741.8L594.0 753.4L594.3 752.2L594.6 758.9L594.9 754.0L595.2 750.1L595.4 736.9L595.7 737.6L596.0 745.5L596.3 725.3L596.6 738.4L596.8 736.8L597.1 736.7L597.4 739.7L597.7 749.9L598.0 749.2L598.3 756.3L598.5 753.3L598.8 747.8L599.1 746.5L599.4 759.5L599.7 751.6L599.9 746.3L600.2 742.0L600.5 759.1L600.8 752.5L601.1 760.2L601.3 736.1L601.6 713.1L601.9 726.8L602.2 704.9L602.5 737.5L602.7 670.4L603.0 738.8L603.3 745.3L603.6 723.8L603.9 722.8L604.1 707.0L604.4 753.8L604.7 734.8L605.0 703.3L605.3 749.9L605.6 740.1L605.8 743.9L606.1 747.2L606.4 747.7L606.7 714.6L607.0 729.1L607.2 757.2L607.5 725.5L607.8 741.9L608.1 744.0L608.4 727.2L608.6 708.6L608.9 721.9L609.2 738.1L609.5 709.2L609.8 732.5L610.0 738.6L610.3 709.3L610.6 726.5L610.9 723.8L611.2 759.4L611.4 743.3L611.7 739.8L612.0 738.9L612.3 760.9L612.6 711.7L612.9 716.3L613.1 724.5L613.4 723.7L613.7 719.5L614.0 732.4L614.3 709.2L614.5 748.3L614.8 723.4L615.1 726.8L615.4 743.6L615.7 752.2L615.9 735.2L616.2 725.8L616.5 734.0L616.8 725.0L617.1 752.2L617.3 738.4L617.6 726.7L617.9 748.9L618.2 734.3L618.5 720.0L618.7 725.5L619.0 726.8L619.3 740.4L619.6 725.2L619.9 740.9L620.2 753.6L620.4 743.1L620.7 709.1L621.0 746.5L621.3 718.1L621.6 735.7L621.8 731.6L622.1 711.8L622.4 728.0L622.7 732.7L623.0 724.1L623.2 731.1L623.5 719.9L623.8 710.1L624.1 737.4L624.4 740.3L624.6 742.8L624.9 742.8L625.2 712.8L625.5 730.8L625.8 709.6L626.0 719.2L626.3 742.8L626.6 741.8L626.9 711.8L627.2 722.9L627.4 732.5L627.7 735.4L628.0 735.0L628.3 703.6L628.6 734.2L628.9 742.8L629.1 736.7L629.4 744.3L629.7 711.7L630.0 700.3L630.3 709.8L630.5 722.1L630.8 727.4L631.1 742.7L631.4 706.8L631.7 667.6L631.9 716.3L632.2 720.7L632.5 715.2L632.8 727.2L633.1 742.8L633.3 724.0L633.6 724.7L633.9 740.5L634.2 721.3L634.5 692.3L634.7 707.4L635.0 701.5L635.3 713.6L635.6 717.3L635.9 698.6L636.2 695.6L636.4 713.3L636.7 706.9L637.0 712.9L637.3 732.7L637.6 742.8L637.8 723.5L638.1 726.0L638.4 711.5L638.7 717.4L639.0 727.8L639.2 721.1L639.5 681.1L639.8 703.7L640.1 689.1L640.4 719.3L640.6 704.7L640.9 691.3L641.2 698.0L641.5 690.3L641.8 679.0L642.0 677.5L642.3 684.9L642.6 703.1L642.9 697.3L643.2 706.0L643.5 687.7L643.7 683.5L644.0 705.5L644.3 690.3L644.6 700.5L644.9 689.8L645.1 662.7L645.4 683.3L645.7 710.8L646.0 663.5L646.3 666.3L646.5 705.6L646.8 721.1L647.1 704.1L647.4 712.8L647.7 724.0L647.9 713.9L648.2 724.0L648.5 724.0L648.8 715.9L649.1 713.0L649.3 728.2L649.6 698.6L649.9 724.0L650.2 723.1L650.5 712.3L650.8 715.1L651.0 711.8L651.3 705.4L651.6 709.6L651.9 682.9L652.2 709.5L652.4 721.5L652.7 726.6L653.0 714.2L653.3 717.1L653.6 705.5L653.8 677.9L654.1 701.2L654.4 685.2L654.7 641.3L655.0 695.5L655.2 683.2L655.5 692.3L655.8 709.0L656.1 695.6L656.4 699.4L656.6 675.9L656.9 702.1L657.2 679.5L657.5 676.9L657.8 676.5L658.1 689.5L658.3 679.1L658.6 676.9L658.9 704.1L659.2 697.7L659.5 732.1L659.7 712.3L660.0 703.4L660.3 694.2L660.6 699.5L660.9 690.8L661.1 706.8L661.4 694.4L661.7 696.2L662.0 715.9L662.3 704.3L662.5 708.6L662.8 707.8L663.1 712.6L663.4 736.1L663.7 719.9L663.9 712.3L664.2 730.6L664.5 731.0L664.8 719.3L665.1 727.6L665.4 709.7L665.6 710.2L665.9 713.0L666.2 714.5L666.5 726.3L666.8 744.2L667.0 714.5L667.3 713.8L667.6 719.1L667.9 733.1L668.2 731.3L668.4 707.0L668.7 725.8L669.0 690.4L669.3 701.2L669.6 694.9L669.8 711.3L670.1 689.1L670.4 691.5L670.7 727.0L671.0 686.7L671.2 698.0L671.5 676.6L671.8 693.2L672.1 726.7L672.4 696.1L672.7 698.9L672.9 717.7L673.2 686.7L673.5 730.6L673.8 701.5L674.1 678.7L674.3 700.3L674.6 684.8L674.9 708.5L675.2 713.7L675.5 688.1L675.7 703.0L676.0 713.4L676.3 685.9L676.6 703.3L676.9 706.6L677.1 723.4L677.4 697.3L677.7 701.6L678.0 716.8L678.3 698.8L678.5 701.1L678.8 696.8L679.1 701.5L679.4 713.7L679.7 694.7L680.0 719.4L680.2 686.6L680.5 692.6L680.8 708.3L681.1 686.6L681.4 684.7L681.6 719.5L681.9 706.8L682.2 719.3L682.5 719.2L682.8 681.8L683.0 685.0L683.3 695.2L683.6 690.8L683.9 695.4L684.2 692.4L684.4 696.6L684.7 702.5L685.0 709.0L685.3 717.0L685.6 705.9L685.8 703.7L686.1 691.4L686.4 676.3L686.7 670.6L687.0 683.6L687.2 680.7L687.5 668.6L687.8 702.5L688.1 670.0L688.4 688.7L688.7 695.4L688.9 698.6L689.2 684.0L689.5 703.0L689.8 687.8L690.1 694.8L690.3 696.1L690.6 703.2L690.9 704.7L691.2 703.5L691.5 675.6L691.7 709.3L692.0 698.6L692.3 691.4L692.6 706.8L692.9 682.6L693.1 699.3L693.4 702.3L693.7 700.3L694.0 658.2L694.3 695.0L694.5 709.3L694.8 699.2L695.1 703.5L695.4 691.5L695.7 688.1L696.0 708.1L696.2 708.5L696.5 699.9L696.8 678.2L697.1 717.0L697.4 693.8L697.6 682.3L697.9 717.7L698.2 717.9L698.5 695.2L698.8 701.9L699.0 718.5L699.3 707.5L699.6 684.3L699.9 719.2L700.2 670.9L700.4 702.5L700.7 697.2L701.0 719.0L701.3 720.3L701.6 720.6L701.8 720.4L702.1 696.3L702.4 698.4L702.7 721.5L703.0 699.2L703.3 702.9L703.5 713.1L703.8 719.1L704.1 696.1L704.4 707.4L704.7 714.3L704.9 710.2L705.2 702.8L705.5 708.6L705.8 712.3L706.1 685.9L706.3 689.5L706.6 715.1L706.9 703.9L707.2 682.8L707.5 695.1L707.7 712.4L708.0 705.0L708.3 708.3L708.6 721.7L708.9 709.4L709.1 709.1L709.4 728.9L709.7 735.5L710.0 736.8L710.3 720.8L710.6 741.4L710.8 730.2L711.1 729.0L711.4 733.2L711.7 710.6L712.0 716.4L712.2 742.2L712.5 749.8L712.8 744.5L713.1 749.3L713.4 737.7L713.6 751.5L713.9 743.9L714.2 746.6L714.5 721.5L714.8 744.5L715.0 726.5L715.3 749.6L715.6 749.4L715.9 738.0L716.2 722.1L716.4 723.6L716.7 739.0L717.0 729.8L717.3 722.2L717.6 759.3L717.9 728.9L718.1 757.8L718.4 749.6L718.7 736.1L719.0 733.9L719.3 729.4L719.5 741.4L719.8 715.9L720.1 733.5L720.4 748.9L720.7 700.3L720.9 706.2L721.2 727.9L721.5 701.4L721.8 751.5L722.1 690.7L722.3 711.5L722.6 727.7L722.9 744.9L723.2 734.1L723.5 740.9L723.7 695.0L724.0 719.5L724.3 713.0L724.6 717.7L724.9 703.3L725.2 706.2L725.4 716.1L725.7 704.2L726.0 742.7L726.3 708.0L726.6 693.2L726.8 713.9L727.1 707.8L727.4 734.9L727.7 733.3L728.0 749.5L728.2 737.3L728.5 746.8L728.8 730.6L729.1 745.6L729.4 721.7L729.6 741.3L729.9 714.7L730.2 744.4L730.5 722.0L730.8 713.6L731.0 736.1L731.3 705.6L731.6 735.1L731.9 706.1L732.2 712.1L732.5 739.8L732.7 731.1L733.0 721.7L733.3 729.4L733.6 746.4L733.9 754.9L734.1 748.4L734.4 720.9L734.7 750.7L735.0 736.1L735.3 726.0L735.5 741.9L735.8 740.5L736.1 705.8L736.4 722.1L736.7 720.6L736.9 713.8L737.2 741.2L737.5 751.2L737.8 746.0L738.1 750.9L738.3 741.9L738.6 749.5L738.9 749.9L739.2 725.4L739.5 738.9L739.8 738.6L740.0 722.0L740.3 749.0L740.6 725.4L740.9 731.4L741.2 728.3L741.4 770.5L741.7 723.5L742.0 746.5L742.3 733.1L742.6 743.9L742.8 728.2L743.1 751.6L743.4 764.2L743.7 760.9L744.0 745.8L744.2 738.1L744.5 757.9L744.8 768.2L745.1 764.0L745.4 754.6L745.6 767.4L745.9 783.2L746.2 765.6L746.5 767.3L746.8 752.5L747.1 780.2L747.3 779.8L747.6 773.3L747.9 746.2L748.2 752.7L748.5 756.4L748.7 764.5L749.0 754.0L749.3 763.8L749.6 766.7L749.9 762.1L750.1 768.9L750.4 738.3L750.7 760.5L751.0 733.2L751.3 734.0L751.5 754.2L751.8 728.8L752.1 759.1L752.4 732.7L752.7 750.2L752.9 744.1L753.2 749.9L753.5 759.3L753.8 738.6L754.1 741.4L754.3 771.6L754.6 735.6L754.9 745.2L755.2 730.2L755.5 730.6L755.8 744.9L756.0 740.3L756.3 756.9L756.6 752.0L756.9 753.4L757.2 724.6L757.4 742.3L757.7 747.5L758.0 746.4L758.3 745.6L758.6 755.9L758.8 740.5L759.1 752.6L759.4 727.6L759.7 715.2L760.0 735.4L760.2 727.0L760.5 735.2L760.8 708.2L761.1 726.0L761.4 751.8L761.6 715.6L761.9 780.4L762.2 707.8L762.5 717.8L762.8 712.6L763.1 715.1L763.3 741.2L763.6 727.8L763.9 733.5L764.2 724.6L764.5 738.0L764.7 698.2L765.0 704.7L765.3 732.9L765.6 717.0L765.9 741.0L766.1 706.0L766.4 717.0L766.7 709.3L767.0 717.2L767.3 724.4L767.5 728.2L767.8 700.5L768.1 709.0L768.4 641.3L768.7 707.6L768.9 702.0L769.2 722.5L769.5 694.2L769.8 686.3L770.1 703.0L770.4 717.7L770.6 707.1L770.9 708.5L771.2 728.3L771.5 714.8L771.8 696.5L772.0 723.2L772.3 721.9L772.6 703.0L772.9 708.1L773.2 733.4L773.4 715.3L773.7 709.5L774.0 733.4L774.3 709.7L774.6 725.0L774.8 733.4L775.1 682.6L775.4 720.7L775.7 733.4L776.0 728.4L776.2 696.7L776.5 709.2L776.8 727.9L777.1 702.4L777.4 717.9L777.7 684.6L777.9 699.0L778.2 725.7L778.5 697.7L778.8 719.4L779.1 700.8L779.3 699.2L779.6 721.7L779.9 706.0L780.2 717.5L780.5 727.0L780.7 718.8L781.0 737.5L781.3 721.4L781.6 733.4L781.9 723.7L782.1 716.4L782.4 733.4L782.7 712.9L783.0 730.2L783.3 712.7L783.5 718.9L783.8 733.4L784.1 716.0L784.4 715.6L784.7 730.6L785.0 718.6L785.2 711.0L785.5 705.9L785.8 707.5L786.1 712.2L786.4 732.4L786.6 721.3L786.9 733.4L787.2 701.5L787.5 697.6L787.8 693.3L788.0 731.0L788.3 718.2L788.6 693.9L788.9 717.9L789.2 695.1L789.4 722.0L789.7 694.3L790.0 689.8L790.3 708.4L790.6 706.8L790.8 695.6L791.1 704.5L791.4 698.3L791.7 688.6L792.0 699.7L792.3 706.7L792.5 694.6L792.8 688.7L793.1 688.7L793.4 688.8L793.7 711.2L793.9 710.2L794.2 698.4L794.5 717.6L794.8 718.6L795.1 694.2L795.3 716.2L795.6 692.6L795.9 689.0L796.2 715.7L796.5 689.1L796.7 707.4L797.0 718.3L797.3 713.0L797.6 712.9L797.9 689.2L798.1 689.3L798.4 697.7L798.7 705.7L799.0 689.3L799.3 701.4L799.6 707.9L799.8 701.3L800.1 699.3L800.4 695.9L800.7 700.4L801.0 714.2L801.2 689.6L801.5 715.9L801.8 689.6L802.1 710.3L802.4 692.4L802.6 689.7L802.9 694.0L803.2 700.4L803.5 723.5L803.8 689.8L804.0 714.9L804.3 691.6L804.6 724.0L804.9 702.1L805.2 691.1L805.4 715.3L805.7 690.1L806.0 690.1L806.3 714.9L806.6 722.2L806.9 699.5L807.1 725.9L807.4 712.7L807.7 718.7L808.0 727.0L808.3 726.2L808.5 715.8L808.8 724.6L809.1 699.7L809.4 723.2L809.7 725.2L809.9 730.7L810.2 714.4L810.5 716.7L810.8 726.4L811.1 690.6L811.3 691.9L811.6 690.7L811.9 694.1L812.2 710.6L812.5 720.9L812.7 704.1L813.0 695.7L813.3 698.0L813.6 724.6L813.9 718.0L814.2 720.1L814.4 686.9L814.7 691.7L815.0 713.3L815.3 715.9L815.6 722.1L815.8 700.0L816.1 691.1L816.4 691.1L816.7 713.1L817.0 708.1L817.2 691.1L817.5 715.5L817.8 706.5" fill="none" stroke="#0000f5" stroke-width="2.8" stroke-linejoin="round"/><rect x="228.5" y="592.4" width="589.3" height="375.9" fill="none" stroke="#000" stroke-width="2.4"/><line x1="219.5" y1="592.4" x2="228.5" y2="592.4" stroke="#000" stroke-width="2.4"/><text x="210.5" y="599.4" font-size="20" text-anchor="end" font-weight="bold" fill="#000" textLength="31.5" lengthAdjust="spacingAndGlyphs" >4.2</text><line x1="219.5" y1="780.4" x2="228.5" y2="780.4" stroke="#000" stroke-width="2.4"/><text x="210.5" y="787.4" font-size="20" text-anchor="end" font-weight="bold" fill="#000" textLength="31.5" lengthAdjust="spacingAndGlyphs" >4.0</text><line x1="219.5" y1="968.3" x2="228.5" y2="968.3" stroke="#000" stroke-width="2.4"/><text x="210.5" y="975.3" font-size="20" text-anchor="end" font-weight="bold" fill="#000" textLength="31.5" lengthAdjust="spacingAndGlyphs" >3.8</text><line x1="223.5" y1="686.4" x2="228.5" y2="686.4" stroke="#000" stroke-width="2"/><line x1="223.5" y1="874.3" x2="228.5" y2="874.3" stroke="#000" stroke-width="2"/><line x1="228.5" y1="968.3" x2="228.5" y2="975.3" stroke="#000" stroke-width="2.2"/><text x="228.5" y="998.0" font-size="21.3" text-anchor="middle" font-weight="bold" fill="#000" textLength="13.1" lengthAdjust="spacingAndGlyphs" >0</text><line x1="346.4" y1="968.3" x2="346.4" y2="975.3" stroke="#000" stroke-width="2.2"/><text x="346.4" y="998.0" font-size="21.3" text-anchor="middle" font-weight="bold" fill="#000" textLength="65.5" lengthAdjust="spacingAndGlyphs" >20000</text><line x1="464.2" y1="968.3" x2="464.2" y2="975.3" stroke="#000" stroke-width="2.2"/><text x="464.2" y="998.0" font-size="21.3" text-anchor="middle" font-weight="bold" fill="#000" textLength="65.5" lengthAdjust="spacingAndGlyphs" >40000</text><line x1="582.1" y1="968.3" x2="582.1" y2="975.3" stroke="#000" stroke-width="2.2"/><text x="582.1" y="998.0" font-size="21.3" text-anchor="middle" font-weight="bold" fill="#000" textLength="65.5" lengthAdjust="spacingAndGlyphs" >60000</text><line x1="699.9" y1="968.3" x2="699.9" y2="975.3" stroke="#000" stroke-width="2.2"/><text x="699.9" y="998.0" font-size="21.3" text-anchor="middle" font-weight="bold" fill="#000" textLength="65.5" lengthAdjust="spacingAndGlyphs" >80000</text><line x1="817.8" y1="968.3" x2="817.8" y2="975.3" stroke="#000" stroke-width="2.2"/><text x="817.8" y="998.0" font-size="21.3" text-anchor="middle" font-weight="bold" fill="#000" textLength="78.6" lengthAdjust="spacingAndGlyphs" >100000</text><line x1="287.4" y1="968.3" x2="287.4" y2="972.3" stroke="#000" stroke-width="2"/><line x1="405.3" y1="968.3" x2="405.3" y2="972.3" stroke="#000" stroke-width="2"/><line x1="523.1" y1="968.3" x2="523.1" y2="972.3" stroke="#000" stroke-width="2"/><line x1="641.0" y1="968.3" x2="641.0" y2="972.3" stroke="#000" stroke-width="2"/><line x1="758.9" y1="968.3" x2="758.9" y2="972.3" stroke="#000" stroke-width="2"/><text x="523.0" y="1042.0" font-size="33" text-anchor="middle" font-weight="bold" fill="#000" textLength="164" lengthAdjust="spacingAndGlyphs" >Time (ps)</text><text x="165.0" y="781.0" font-size="41" text-anchor="middle" font-weight="bold" fill="#000" textLength="104" lengthAdjust="spacingAndGlyphs" transform="rotate(-90 165.0 781.0)" >Rg(nm)</text>
<defs><clipPath id="cpT"><rect x="1000" y="579" width="768" height="416"/></clipPath><clipPath id="cpB"><rect x="1000" y="997" width="768" height="435"/></clipPath></defs>
<g clip-path="url(#cpT)"><path d="M1345.0 722.0C1345.8 728.3 1350.8 747.0 1350.0 760.0C1349.2 773.0 1338.3 788.3 1340.0 800.0C1341.7 811.7 1358.3 819.5 1360.0 830.0C1361.7 840.5 1351.7 857.5 1350.0 863.0" fill="none" stroke="#40a8d0" stroke-width="3.2" stroke-linecap="round" stroke-linejoin="round"/><path d="M1360.0 740.0C1363.3 743.3 1373.7 759.2 1380.0 760.0C1386.3 760.8 1395.5 742.5 1398.0 745.0C1400.5 747.5 1395.5 770.0 1395.0 775.0" fill="none" stroke="#d01818" stroke-width="3.2" stroke-linecap="round" stroke-linejoin="round"/><path d="M1290.0 760.0C1295.0 762.5 1310.8 775.0 1320.0 775.0C1329.2 775.0 1338.3 757.5 1345.0 760.0C1351.7 762.5 1357.5 785.0 1360.0 790.0" fill="none" stroke="#40b0d0" stroke-width="3.2" stroke-linecap="round" stroke-linejoin="round"/><path d="M1395.0 690.0C1399.2 691.7 1412.5 693.3 1420.0 700.0C1427.5 706.7 1431.7 722.5 1440.0 730.0C1448.3 737.5 1463.3 746.7 1470.0 745.0C1476.7 743.3 1478.3 724.2 1480.0 720.0" fill="none" stroke="#58a0e0" stroke-width="3.2" stroke-linecap="round" stroke-linejoin="round"/><path d="M1380.0 760.0C1383.3 765.0 1391.7 783.3 1400.0 790.0C1408.3 796.7 1420.0 800.0 1430.0 800.0C1440.0 800.0 1452.5 785.0 1460.0 790.0C1467.5 795.0 1476.7 818.3 1475.0 830.0C1473.3 841.7 1454.2 855.0 1450.0 860.0" fill="none" stroke="#6070d8" stroke-width="3.2" stroke-linecap="round" stroke-linejoin="round"/><path d="M1400.0 820.0C1403.3 825.0 1412.5 845.8 1420.0 850.0C1427.5 854.2 1438.3 841.7 1445.0 845.0C1451.7 848.3 1457.5 865.8 1460.0 870.0" fill="none" stroke="#5080e0" stroke-width="3.2" stroke-linecap="round" stroke-linejoin="round"/><path d="M1245.0 820.0C1249.2 825.0 1260.8 843.3 1270.0 850.0C1279.2 856.7 1291.7 860.8 1300.0 860.0C1308.3 859.2 1316.7 847.5 1320.0 845.0" fill="none" stroke="#3aa0d8" stroke-width="3.2" stroke-linecap="round" stroke-linejoin="round"/><path d="M1155.0 826.0C1156.2 825.3 1159.5 821.3 1162.0 822.0C1164.5 822.7 1169.3 826.7 1170.0 830.0C1170.7 833.3 1168.2 840.7 1166.0 842.0C1163.8 843.3 1158.8 840.7 1157.0 838.0C1155.2 835.3 1155.3 828.0 1155.0 826.0" fill="none" stroke="#a04010" stroke-width="3.2" stroke-linecap="round" stroke-linejoin="round"/><path d="M1550.0 760.0C1555.0 761.7 1571.7 763.3 1580.0 770.0C1588.3 776.7 1591.7 793.3 1600.0 800.0C1608.3 806.7 1625.0 808.3 1630.0 810.0" fill="none" stroke="#20c890" stroke-width="3.2" stroke-linecap="round" stroke-linejoin="round"/><path d="M1600.0 850.0C1606.7 853.3 1630.0 861.7 1640.0 870.0C1650.0 878.3 1660.0 892.5 1660.0 900.0C1660.0 907.5 1648.3 914.2 1640.0 915.0C1631.7 915.8 1615.0 906.7 1610.0 905.0" fill="none" stroke="#80c850" stroke-width="3.2" stroke-linecap="round" stroke-linejoin="round"/><g><path d="M1075.4 771.1L1075.4 771.1L1091.0 751.6L1084.6 748.9ZM1085.4 775.2L1091.8 777.9L1111.0 759.9L1104.6 757.3ZM1105.4 783.6L1111.8 786.2L1131.0 768.3L1124.6 765.6ZM1125.4 791.9L1131.8 794.6L1144.6 773.9L1144.6 773.9Z" fill="#0a601d"/><path d="M1084.6 748.9L1095.0 753.3L1095.8 779.6L1085.4 775.2ZM1104.6 757.3L1115.0 761.6L1115.8 787.9L1105.4 783.6ZM1124.6 765.6L1135.0 769.9L1135.4 796.1L1125.4 791.9ZM1144.6 773.9L1144.6 773.9L1135.4 796.1L1135.4 796.1Z" fill="#10a030" stroke="#0c7d25" stroke-width="1"/><path d="M1089.0 754.6L1094.3 769.9M1109.0 763.0L1114.3 778.2M1129.0 771.3L1134.3 786.5M1143.2 777.2L1138.6 788.3" stroke="#58bc6e" stroke-width="2.5" stroke-linecap="round" fill="none" opacity="0.8"/></g><g><path d="M1451.6 816.2L1451.6 816.2L1474.8 798.6L1468.4 793.8ZM1461.6 823.7L1468.0 828.5L1494.8 813.6L1488.4 808.8ZM1481.6 838.7L1488.0 843.5L1514.8 828.6L1508.4 823.8ZM1501.6 853.7L1508.0 858.5L1528.4 838.8L1528.4 838.8Z" fill="#137d4d"/><path d="M1468.4 793.8L1478.8 801.6L1472.0 831.5L1461.6 823.7ZM1488.4 808.8L1498.8 816.6L1492.0 846.5L1481.6 838.7ZM1508.4 823.8L1518.8 831.6L1511.6 861.2L1501.6 853.7ZM1528.4 838.8L1528.4 838.8L1511.6 861.2L1511.6 861.2Z" fill="#20d080" stroke="#19a264" stroke-width="1"/><path d="M1471.6 801.4L1473.2 820.1M1491.6 816.4L1493.2 835.1M1511.6 831.4L1513.2 850.1M1525.9 842.2L1517.5 853.4" stroke="#63dea6" stroke-width="2.9" stroke-linecap="round" fill="none" opacity="0.8"/></g><g><path d="M1493.7 892.5L1493.7 892.5L1513.7 871.2L1506.3 867.5ZM1505.4 898.4L1512.9 902.1L1537.1 882.9L1529.6 879.1ZM1528.7 910.0L1536.2 913.8L1560.4 894.5L1552.9 890.8ZM1552.1 921.7L1559.5 925.4L1576.3 902.5L1576.3 902.5Z" fill="#537d48"/><path d="M1506.3 867.5L1518.4 873.5L1517.5 904.4L1505.4 898.4ZM1529.6 879.1L1541.7 885.2L1540.9 916.1L1528.7 910.0ZM1552.9 890.8L1565.1 896.9L1563.7 927.5L1552.1 921.7ZM1576.3 902.5L1576.3 902.5L1563.7 927.5L1563.7 927.5Z" fill="#8ad078" stroke="#6ca25e" stroke-width="1"/><path d="M1511.1 874.6L1516.5 892.9M1534.4 886.2L1539.8 904.6M1557.7 897.9L1563.1 916.3M1574.4 906.2L1568.1 918.8" stroke="#addea0" stroke-width="3.0" stroke-linecap="round" fill="none" opacity="0.8"/></g><g><path d="M1411.9 810.2L1411.9 810.2L1436.1 796.2L1428.1 789.8ZM1424.4 820.2L1432.4 826.6L1461.1 816.2L1453.1 809.8ZM1449.4 840.2L1457.4 846.6L1478.1 829.8L1478.1 829.8Z" fill="#404382"/><path d="M1428.1 789.8L1441.1 800.2L1437.4 830.6L1424.4 820.2ZM1453.1 809.8L1466.1 820.2L1461.9 850.2L1449.4 840.2ZM1478.1 829.8L1478.1 829.8L1461.9 850.2L1461.9 850.2Z" fill="#6a70d8" stroke="#5357a8" stroke-width="1"/><path d="M1432.8 798.6L1437.2 818.8M1457.8 818.6L1462.2 838.8M1475.7 832.9L1467.6 843.0" stroke="#979be4" stroke-width="3.7" stroke-linecap="round" fill="none" opacity="0.8"/></g><g><path d="M1290.6 825.7L1290.6 825.7L1312.6 819.7L1309.4 814.3ZM1295.6 834.0L1298.8 839.3L1322.6 836.3L1319.4 831.0ZM1305.6 850.7L1308.8 856.0L1332.6 853.0L1329.4 847.7ZM1315.6 867.3L1318.8 872.7L1339.4 864.3L1339.4 864.3Z" fill="#266582"/><path d="M1309.4 814.3L1314.6 823.0L1300.8 842.7L1295.6 834.0ZM1319.4 831.0L1324.6 839.7L1310.8 859.3L1305.6 850.7ZM1329.4 847.7L1334.6 856.3L1320.6 875.7L1315.6 867.3ZM1339.4 864.3L1339.4 864.3L1320.6 875.7L1320.6 875.7Z" fill="#40a8d8" stroke="#3283a8" stroke-width="1"/><path d="M1309.5 820.8L1305.0 834.8M1319.5 837.5L1315.0 851.5M1329.5 854.1L1325.0 868.1M1336.6 866.0L1327.2 871.7" stroke="#79c2e4" stroke-width="2.2" stroke-linecap="round" fill="none" opacity="0.8"/></g><path d="M1072.0 672.0C1067.7 673.0 1049.3 673.3 1046.0 678.0C1042.7 682.7 1054.5 692.7 1052.0 700.0C1049.5 707.3 1031.3 714.0 1031.0 722.0C1030.7 730.0 1046.8 743.7 1050.0 748.0" fill="none" stroke="#a0c830" stroke-width="2.6" stroke-linecap="round" stroke-linejoin="round"/><path d="M1092.0 689.0C1090.0 687.5 1083.3 682.8 1080.0 680.0C1076.7 677.2 1073.3 673.3 1072.0 672.0" fill="none" stroke="#a0c830" stroke-width="2.6" stroke-linecap="round" stroke-linejoin="round"/><path d="M1434.0 666.0C1438.3 661.7 1451.5 645.7 1460.0 640.0C1468.5 634.3 1473.3 632.0 1485.0 632.0C1496.7 632.0 1514.5 639.7 1530.0 640.0C1545.5 640.3 1568.5 629.2 1578.0 634.0C1587.5 638.8 1583.3 661.3 1587.0 669.0C1590.7 676.7 1597.8 678.2 1600.0 680.0" fill="none" stroke="#d86a20" stroke-width="2.6" stroke-linecap="round" stroke-linejoin="round"/><path d="M1228.0 925.0C1228.7 928.3 1228.3 940.5 1232.0 945.0C1235.7 949.5 1240.3 950.8 1250.0 952.0C1259.7 953.2 1275.8 951.0 1290.0 952.0C1304.2 953.0 1322.5 958.7 1335.0 958.0C1347.5 957.3 1360.0 949.7 1365.0 948.0" fill="none" stroke="#c86420" stroke-width="2.6" stroke-linecap="round" stroke-linejoin="round"/><path d="M1160.0 880.0C1161.7 884.2 1164.2 898.3 1170.0 905.0C1175.8 911.7 1186.7 916.7 1195.0 920.0C1203.3 923.3 1215.8 924.2 1220.0 925.0" fill="none" stroke="#c86420" stroke-width="2.6" stroke-linecap="round" stroke-linejoin="round"/><path d="M1600.0 880.0C1608.3 882.5 1635.0 895.0 1650.0 895.0C1665.0 895.0 1680.0 885.8 1690.0 880.0C1700.0 874.2 1703.3 870.0 1710.0 860.0C1716.7 850.0 1726.7 826.7 1730.0 820.0" fill="none" stroke="#90c840" stroke-width="2.6" stroke-linecap="round" stroke-linejoin="round"/><path d="M1700.0 720.0C1704.2 717.5 1718.3 705.0 1725.0 705.0C1731.7 705.0 1739.2 710.8 1740.0 720.0C1740.8 729.2 1731.7 753.3 1730.0 760.0" fill="none" stroke="#d8d040" stroke-width="2.6" stroke-linecap="round" stroke-linejoin="round"/><path d="M1352.0 647.0C1356.3 646.7 1374.3 640.7 1378.0 645.0C1381.7 649.3 1374.7 668.3 1374.0 673.0" fill="none" stroke="#1ec8a0" stroke-width="2.6" stroke-linecap="round" stroke-linejoin="round"/><path d="M1200.0 660.0C1202.5 663.3 1215.0 673.3 1215.0 680.0C1215.0 686.7 1202.5 696.7 1200.0 700.0" fill="none" stroke="#60c030" stroke-width="2.6" stroke-linecap="round" stroke-linejoin="round"/><g><path d="M1011.7 758.4L1011.7 758.4L1023.6 743.7L1018.3 741.6ZM1020.0 761.6L1025.2 763.7L1040.1 750.2L1034.8 748.1ZM1036.5 768.1L1041.7 770.2L1051.3 754.6L1051.3 754.6Z" fill="#6c7e18"/><path d="M1018.3 741.6L1026.9 745.0L1028.5 765.0L1020.0 761.6ZM1034.8 748.1L1043.4 751.5L1044.7 771.4L1036.5 768.1ZM1051.3 754.6L1051.3 754.6L1044.7 771.4L1044.7 771.4Z" fill="#b4d228" stroke="#8ca41f" stroke-width="1"/><path d="M1022.0 746.0L1027.0 757.6M1038.5 752.5L1043.5 764.1M1050.3 757.1L1047.0 765.5" stroke="#cae069" stroke-width="2.0" stroke-linecap="round" fill="none" opacity="0.8"/></g><g><path d="M1002.2 791.8L1002.2 791.8L1003.6 771.0L997.8 772.2ZM1011.2 789.8L1016.9 788.5L1021.6 767.0L1015.8 768.2ZM1029.2 785.8L1034.9 784.5L1033.8 764.2L1033.8 764.2Z" fill="#6c7e18"/><path d="M997.8 772.2L1007.2 770.2L1020.5 787.7L1011.2 789.8ZM1015.8 768.2L1025.2 766.2L1038.2 783.8L1029.2 785.8ZM1033.8 764.2L1033.8 764.2L1038.2 783.8L1038.2 783.8Z" fill="#b4d228" stroke="#8ca41f" stroke-width="1"/><path d="M1003.6 774.0L1014.8 781.8M1021.6 770.0L1032.8 777.8M1034.5 767.2L1036.7 776.9" stroke="#cae069" stroke-width="2.1" stroke-linecap="round" fill="none" opacity="0.8"/></g><g><path d="M1003.8 828.9L1003.8 828.9L1008.5 800.0L1000.2 801.1ZM1016.8 827.2L1025.1 826.2L1034.5 796.7L1026.2 797.8ZM1042.8 823.9L1051.1 822.8L1060.5 793.4L1052.2 794.4ZM1068.8 820.6L1077.1 819.5L1078.2 791.1L1078.2 791.1Z" fill="#908619"/><path d="M1000.2 801.1L1013.7 799.4L1030.3 825.5L1016.8 827.2ZM1026.2 797.8L1039.7 796.0L1056.3 822.2L1042.8 823.9ZM1052.2 794.4L1065.7 792.7L1081.8 818.9L1068.8 820.6ZM1078.2 791.1L1078.2 791.1L1081.8 818.9L1081.8 818.9Z" fill="#f0e02a" stroke="#bbaf21" stroke-width="1"/><path d="M1008.2 804.3L1023.0 816.5M1034.2 801.0L1049.0 813.2M1060.2 797.7L1075.0 809.9M1078.8 795.3L1080.5 809.2" stroke="#f4e96a" stroke-width="3.0" stroke-linecap="round" fill="none" opacity="0.8"/></g><g><path d="M1011.8 876.2L1011.8 876.2L1013.6 843.9L1002.2 847.8ZM1029.6 870.2L1040.9 866.4L1049.1 831.9L1037.7 835.8ZM1065.1 858.2L1076.4 854.4L1073.2 823.8L1073.2 823.8Z" fill="#908619"/><path d="M1002.2 847.8L1020.7 841.5L1048.0 864.0L1029.6 870.2ZM1037.7 835.8L1056.2 829.5L1082.8 852.2L1065.1 858.2ZM1073.2 823.8L1073.2 823.8L1082.8 852.2L1082.8 852.2Z" fill="#f0e02a" stroke="#bbaf21" stroke-width="1"/><path d="M1013.8 848.6L1036.3 856.8M1049.3 836.6L1071.8 844.8M1074.6 828.1L1079.4 842.3" stroke="#f4e96a" stroke-width="4.3" stroke-linecap="round" fill="none" opacity="0.8"/></g><g><path d="M1105.3 682.5L1105.3 682.5L1104.8 659.6L1098.7 661.5ZM1114.8 679.5L1120.9 677.6L1123.8 653.6L1117.7 655.5ZM1133.8 673.5L1139.9 671.6L1136.7 649.5L1136.7 649.5Z" fill="#227818"/><path d="M1098.7 661.5L1108.6 658.4L1124.7 676.4L1114.8 679.5ZM1117.7 655.5L1127.6 652.4L1143.3 670.5L1133.8 673.5ZM1136.7 649.5L1136.7 649.5L1143.3 670.5L1143.3 670.5Z" fill="#38c828" stroke="#2c9c1f" stroke-width="1"/><path d="M1105.1 662.9L1117.9 670.4M1124.1 656.9L1136.9 664.4M1137.7 652.7L1141.0 663.1" stroke="#74d869" stroke-width="2.3" stroke-linecap="round" fill="none" opacity="0.8"/></g><g><path d="M1129.6 692.7L1129.6 692.7L1143.4 675.5L1134.4 673.3ZM1143.6 696.2L1152.5 698.4L1162.4 680.3L1162.4 680.3Z" fill="#1f731a"/><path d="M1134.4 673.3L1149.0 676.9L1157.6 699.7L1143.6 696.2ZM1162.4 680.3L1162.4 680.3L1157.6 699.7L1157.6 699.7Z" fill="#34c02c" stroke="#299622" stroke-width="1"/><path d="M1141.7 678.2L1153.3 691.4M1161.7 683.2L1159.3 692.9" stroke="#71d36b" stroke-width="3.3" stroke-linecap="round" fill="none" opacity="0.8"/></g><g><path d="M1155.9 660.2L1155.9 660.2L1170.1 642.2L1164.1 639.8ZM1165.1 663.9L1171.0 666.3L1188.6 649.7L1182.6 647.3ZM1183.6 671.4L1189.5 673.8L1201.1 654.8L1201.1 654.8Z" fill="#1f731a"/><path d="M1164.1 639.8L1173.8 643.7L1174.7 667.8L1165.1 663.9ZM1182.6 647.3L1192.3 651.2L1192.9 675.2L1183.6 671.4ZM1201.1 654.8L1201.1 654.8L1192.9 675.2L1192.9 675.2Z" fill="#34c02c" stroke="#299622" stroke-width="1"/><path d="M1168.2 645.0L1173.3 659.0M1186.7 652.5L1191.8 666.5M1199.9 657.9L1195.8 668.1" stroke="#71d36b" stroke-width="2.3" stroke-linecap="round" fill="none" opacity="0.8"/></g><g><path d="M1190.6 710.0L1190.6 710.0L1196.3 683.7L1189.4 684.0ZM1201.4 709.5L1208.2 709.2L1217.8 682.7L1210.9 683.0ZM1222.9 708.5L1229.7 708.2L1232.4 682.0L1232.4 682.0Z" fill="#29731d"/><path d="M1189.4 684.0L1200.6 683.5L1212.5 709.0L1201.4 709.5ZM1210.9 683.0L1222.1 682.5L1233.6 708.0L1222.9 708.5ZM1232.4 682.0L1232.4 682.0L1233.6 708.0L1233.6 708.0Z" fill="#44c030" stroke="#359625" stroke-width="1"/><path d="M1195.7 687.6L1207.1 700.1M1217.2 686.6L1228.6 699.1M1232.6 685.9L1233.2 698.9" stroke="#7cd36e" stroke-width="2.5" stroke-linecap="round" fill="none" opacity="0.8"/></g><g><path d="M1081.0 750.6L1081.0 750.6L1082.1 723.6L1075.0 725.4ZM1092.2 748.0L1099.3 746.3L1104.5 718.3L1097.3 720.0ZM1114.5 742.6L1121.7 740.9L1126.8 713.0L1119.6 714.7ZM1136.9 737.3L1144.0 735.6L1142.0 709.4L1142.0 709.4Z" fill="#136e1d"/><path d="M1075.0 725.4L1086.6 722.6L1103.8 745.2L1092.2 748.0ZM1097.3 720.0L1108.9 717.2L1126.1 739.9L1114.5 742.6ZM1119.6 714.7L1131.3 711.9L1148.0 734.6L1136.9 737.3ZM1142.0 709.4L1142.0 709.4L1148.0 734.6L1148.0 734.6Z" fill="#20b830" stroke="#199025" stroke-width="1"/><path d="M1082.3 727.6L1096.5 737.6M1104.6 722.3L1118.8 732.3M1126.9 717.0L1141.1 726.9M1142.9 713.1L1145.9 725.8" stroke="#63cd6e" stroke-width="2.6" stroke-linecap="round" fill="none" opacity="0.8"/></g><g><path d="M1109.6 724.0L1109.6 724.0L1133.6 717.5L1130.4 712.0ZM1114.6 732.7L1117.8 738.2L1143.6 734.9L1140.4 729.3ZM1124.6 750.0L1127.8 755.5L1153.6 752.2L1150.4 746.7ZM1134.6 767.3L1137.8 772.9L1160.4 764.0L1160.4 764.0Z" fill="#0e6a1d"/><path d="M1130.4 712.0L1135.6 721.0L1119.8 741.7L1114.6 732.7ZM1140.4 729.3L1145.6 738.3L1129.8 759.0L1124.6 750.0ZM1150.4 746.7L1155.6 755.7L1139.6 776.0L1134.6 767.3ZM1160.4 764.0L1160.4 764.0L1139.6 776.0L1139.6 776.0Z" fill="#18b030" stroke="#138925" stroke-width="1"/><path d="M1130.1 718.8L1124.7 733.4M1140.1 736.1L1134.7 750.8M1150.1 753.4L1144.7 768.1M1157.3 765.8L1146.9 771.8" stroke="#5dc86e" stroke-width="2.3" stroke-linecap="round" fill="none" opacity="0.8"/></g><g><path d="M1150.7 744.1L1150.7 744.1L1174.8 731.5L1169.3 725.9ZM1159.4 752.9L1164.9 758.6L1192.2 749.2L1186.6 743.6ZM1176.7 770.6L1182.3 776.3L1209.5 766.9L1203.9 761.2ZM1194.1 788.3L1199.6 793.9L1221.3 778.9L1221.3 778.9Z" fill="#1d7326"/><path d="M1169.3 725.9L1178.3 735.1L1168.4 762.1L1159.4 752.9ZM1186.6 743.6L1195.6 752.7L1185.7 779.8L1176.7 770.6ZM1203.9 761.2L1213.0 770.4L1202.7 797.1L1194.1 788.3ZM1221.3 778.9L1221.3 778.9L1202.7 797.1L1202.7 797.1Z" fill="#30c040" stroke="#259632" stroke-width="1"/><path d="M1171.5 733.7L1170.8 751.6M1188.8 751.3L1188.2 769.3M1206.1 769.0L1205.5 787.0M1218.5 781.6L1209.2 790.7" stroke="#6ed379" stroke-width="2.8" stroke-linecap="round" fill="none" opacity="0.8"/></g><g><path d="M1129.6 821.9L1129.6 821.9L1153.9 808.5L1146.4 802.1ZM1141.3 831.9L1148.8 838.3L1177.4 828.5L1169.9 822.1ZM1164.8 851.9L1172.3 858.3L1193.4 842.1L1193.4 842.1Z" fill="#136026"/><path d="M1146.4 802.1L1158.6 812.5L1153.5 842.3L1141.3 831.9ZM1169.9 822.1L1182.1 832.5L1176.6 861.9L1164.8 851.9ZM1193.4 842.1L1193.4 842.1L1176.6 861.9L1176.6 861.9Z" fill="#20a040" stroke="#197d32" stroke-width="1"/><path d="M1150.6 810.8L1153.9 830.7M1174.1 830.8L1177.4 850.7M1190.9 845.1L1182.5 855.0" stroke="#63bc79" stroke-width="3.5" stroke-linecap="round" fill="none" opacity="0.8"/></g><g><path d="M1197.3 728.5L1197.3 728.5L1218.8 712.0L1212.7 707.5ZM1206.8 735.5L1212.9 739.9L1237.8 726.0L1231.7 721.5ZM1225.8 749.5L1231.9 753.9L1250.7 735.5L1250.7 735.5Z" fill="#2b2b86"/><path d="M1212.7 707.5L1222.6 714.8L1216.7 742.7L1206.8 735.5ZM1231.7 721.5L1241.6 728.8L1235.3 756.5L1225.8 749.5ZM1250.7 735.5L1250.7 735.5L1235.3 756.5L1235.3 756.5Z" fill="#4848e0" stroke="#3838af" stroke-width="1"/><path d="M1215.8 714.7L1217.6 732.1M1234.8 728.7L1236.6 746.1M1248.4 738.7L1240.7 749.1" stroke="#7f7fe9" stroke-width="2.7" stroke-linecap="round" fill="none" opacity="0.8"/></g><g><path d="M1210.1 817.1L1210.1 817.1L1227.0 795.8L1219.9 792.9ZM1221.3 821.6L1228.5 824.4L1249.3 804.8L1242.2 801.9ZM1243.6 830.6L1250.8 833.4L1271.7 813.8L1264.5 810.9ZM1266.0 839.6L1273.1 842.4L1286.9 819.9L1286.9 819.9Z" fill="#304d86"/><path d="M1219.9 792.9L1231.5 797.6L1232.9 826.2L1221.3 821.6ZM1242.2 801.9L1253.8 806.6L1255.3 835.2L1243.6 830.6ZM1264.5 810.9L1276.1 815.6L1277.1 844.1L1266.0 839.6ZM1286.9 819.9L1286.9 819.9L1277.1 844.1L1277.1 844.1Z" fill="#5080e0" stroke="#3e64af" stroke-width="1"/><path d="M1224.8 799.1L1231.1 815.7M1247.1 808.1L1253.4 824.7M1269.5 817.1L1275.8 833.7M1285.4 823.6L1280.5 835.6" stroke="#84a6e9" stroke-width="2.8" stroke-linecap="round" fill="none" opacity="0.8"/></g><g><path d="M1105.8 756.2L1105.8 756.2L1120.6 736.2L1114.2 733.8ZM1115.8 760.0L1122.2 762.4L1140.6 743.7L1134.2 741.3ZM1135.8 767.5L1142.2 769.9L1154.2 748.8L1154.2 748.8Z" fill="#0e6a1d"/><path d="M1114.2 733.8L1124.6 737.7L1126.2 763.9L1115.8 760.0ZM1134.2 741.3L1144.6 745.2L1145.8 771.2L1135.8 767.5ZM1154.2 748.8L1154.2 748.8L1145.8 771.2L1145.8 771.2Z" fill="#18b030" stroke="#138925" stroke-width="1"/><path d="M1118.7 739.3L1124.5 754.3M1138.7 746.8L1144.5 761.8M1152.9 752.1L1148.7 763.4" stroke="#5dc86e" stroke-width="2.4" stroke-linecap="round" fill="none" opacity="0.8"/></g><g><path d="M1075.5 712.7L1075.5 712.7L1105.4 733.0L1108.5 721.3ZM1070.8 731.0L1067.8 742.6L1095.9 769.5L1099.0 757.8ZM1061.3 767.5L1058.3 779.1L1089.5 794.3L1089.5 794.3Z" fill="#7f7f13"/><path d="M1108.5 721.3L1103.5 740.3L1065.9 749.9L1070.8 731.0ZM1099.0 757.8L1094.0 776.8L1056.5 785.7L1061.3 767.5ZM1089.5 794.3L1089.5 794.3L1056.5 785.7L1056.5 785.7Z" fill="#d4d420" stroke="#a5a519" stroke-width="1"/><path d="M1100.8 730.4L1079.6 744.4M1091.3 766.9L1070.1 780.9M1084.5 793.0L1068.1 788.7" stroke="#e1e163" stroke-width="4.3" stroke-linecap="round" fill="none" opacity="0.8"/></g><g><path d="M1074.9 831.9L1074.9 831.9L1096.3 812.9L1085.1 808.1ZM1092.4 839.4L1103.6 844.2L1120.1 823.1L1120.1 823.1Z" fill="#908619"/><path d="M1085.1 808.1L1103.3 815.9L1109.9 846.9L1092.4 839.4ZM1120.1 823.1L1120.1 823.1L1109.9 846.9L1109.9 846.9Z" fill="#f0e02a" stroke="#bbaf21" stroke-width="1"/><path d="M1093.6 815.9L1106.0 835.4M1118.6 826.6L1113.5 838.6" stroke="#f4e96a" stroke-width="4.4" stroke-linecap="round" fill="none" opacity="0.8"/></g><g><path d="M1224.8 751.9L1224.8 751.9L1242.5 731.3L1235.2 728.1ZM1236.3 756.9L1243.7 760.1L1265.5 741.3L1258.2 738.1ZM1259.3 766.9L1266.7 770.1L1281.2 748.1L1281.2 748.1Z" fill="#13733a"/><path d="M1235.2 728.1L1247.1 733.3L1248.3 762.1L1236.3 756.9ZM1258.2 738.1L1270.1 743.3L1270.8 771.9L1259.3 766.9ZM1281.2 748.1L1281.2 748.1L1270.8 771.9L1270.8 771.9Z" fill="#20c060" stroke="#19964b" stroke-width="1"/><path d="M1240.2 734.5L1246.5 751.4M1263.2 744.5L1269.5 761.4M1279.6 751.7L1274.4 763.6" stroke="#63d390" stroke-width="2.9" stroke-linecap="round" fill="none" opacity="0.8"/></g><g><path d="M1304.2 779.8L1304.2 779.8L1327.1 771.6L1319.8 764.2ZM1315.7 791.3L1323.1 798.6L1342.8 787.2L1342.8 787.2Z" fill="#2c3582"/><path d="M1319.8 764.2L1331.7 776.2L1327.2 802.8L1315.7 791.3ZM1342.8 787.2L1342.8 787.2L1327.2 802.8L1327.2 802.8Z" fill="#4a58d8" stroke="#3a45a8" stroke-width="1"/><path d="M1324.0 773.1L1327.7 792.4M1340.4 789.6L1332.7 797.3" stroke="#808ae4" stroke-width="3.7" stroke-linecap="round" fill="none" opacity="0.8"/></g><g><path d="M1278.3 735.9L1278.3 735.9L1265.0 707.3L1257.7 714.1ZM1289.6 725.3L1296.9 718.4L1287.6 685.9L1280.4 692.7ZM1312.3 703.9L1319.5 697.1L1310.3 664.6L1303.1 671.4ZM1334.9 682.6L1342.2 675.8L1325.7 650.1L1325.7 650.1Z" fill="#127860"/><path d="M1257.7 714.1L1269.5 703.0L1301.4 714.2L1289.6 725.3ZM1280.4 692.7L1292.2 681.7L1324.1 692.8L1312.3 703.9ZM1303.1 671.4L1314.8 660.3L1346.3 671.9L1334.9 682.6ZM1325.7 650.1L1325.7 650.1L1346.3 671.9L1346.3 671.9Z" fill="#1ec8a0" stroke="#179c7d" stroke-width="1"/><path d="M1267.3 711.3L1288.9 711.5M1290.0 689.9L1311.6 690.2M1312.6 668.6L1334.2 668.8M1328.8 653.4L1339.1 664.3" stroke="#62d8bc" stroke-width="3.6" stroke-linecap="round" fill="none" opacity="0.8"/></g><g><path d="M1305.7 681.6L1305.7 681.6L1322.1 656.8L1312.3 654.4ZM1320.9 685.3L1330.7 687.7L1352.6 664.3L1342.8 661.9ZM1351.4 692.8L1361.2 695.2L1373.3 669.4L1373.3 669.4Z" fill="#127860"/><path d="M1312.3 654.4L1328.2 658.3L1336.8 689.2L1320.9 685.3ZM1342.8 661.9L1358.7 665.8L1366.7 696.6L1351.4 692.8ZM1373.3 669.4L1373.3 669.4L1366.7 696.6L1366.7 696.6Z" fill="#1ec8a0" stroke="#179c7d" stroke-width="1"/><path d="M1320.1 660.6L1332.0 678.0M1350.6 668.1L1362.5 685.5M1372.3 673.5L1369.0 687.1" stroke="#62d8bc" stroke-width="3.6" stroke-linecap="round" fill="none" opacity="0.8"/></g><g><path d="M1262.2 724.8L1262.2 724.8L1265.3 697.9L1257.8 699.2ZM1273.9 722.8L1281.3 721.5L1288.6 693.9L1281.1 695.2ZM1297.2 718.8L1304.7 717.5L1311.9 689.9L1304.5 691.2ZM1320.5 714.8L1328.0 713.5L1327.8 687.2L1327.8 687.2Z" fill="#137365"/><path d="M1257.8 699.2L1269.9 697.1L1286.0 720.7L1273.9 722.8ZM1281.1 695.2L1293.3 693.1L1309.3 716.7L1297.2 718.8ZM1304.5 691.2L1316.6 689.1L1332.2 712.8L1320.5 714.8ZM1327.8 687.2L1327.8 687.2L1332.2 712.8L1332.2 712.8Z" fill="#20c0a8" stroke="#199683" stroke-width="1"/><path d="M1265.1 701.9L1279.0 712.7M1288.5 697.9L1302.3 708.7M1311.8 693.9L1325.7 704.7M1328.5 691.0L1330.7 703.8" stroke="#63d3c2" stroke-width="2.7" stroke-linecap="round" fill="none" opacity="0.8"/></g><g><path d="M1275.0 746.0L1275.0 746.0L1294.8 727.7L1289.0 724.0ZM1284.0 751.7L1289.8 755.4L1312.8 739.2L1307.0 735.5ZM1302.0 763.2L1307.8 766.9L1325.0 747.0L1325.0 747.0Z" fill="#18787d"/><path d="M1289.0 724.0L1298.4 730.0L1293.4 757.7L1284.0 751.7ZM1307.0 735.5L1316.4 741.5L1311.0 769.0L1302.0 763.2ZM1325.0 747.0L1325.0 747.0L1311.0 769.0L1311.0 769.0Z" fill="#28c8d0" stroke="#1f9ca2" stroke-width="1"/><path d="M1292.0 730.6L1294.0 747.3M1310.0 742.1L1312.0 758.8M1322.9 750.3L1315.9 761.3" stroke="#69d8de" stroke-width="2.4" stroke-linecap="round" fill="none" opacity="0.8"/></g><g><path d="M1262.3 766.4L1262.3 766.4L1278.5 750.4L1273.7 747.6ZM1269.8 770.9L1274.6 773.8L1293.5 759.4L1288.7 756.6ZM1284.8 779.9L1289.6 782.8L1303.7 765.6L1303.7 765.6Z" fill="#267d86"/><path d="M1273.7 747.6L1281.5 752.2L1277.6 775.6L1269.8 770.9ZM1288.7 756.6L1296.5 761.2L1292.3 784.4L1284.8 779.9ZM1303.7 765.6L1303.7 765.6L1292.3 784.4L1292.3 784.4Z" fill="#40d0e0" stroke="#32a2af" stroke-width="1"/><path d="M1276.3 753.0L1278.1 766.9M1291.3 762.0L1293.1 775.9M1302.0 768.4L1296.3 777.8" stroke="#79dee9" stroke-width="2.0" stroke-linecap="round" fill="none" opacity="0.8"/></g><g><path d="M1340.0 705.9L1340.0 705.9L1357.0 687.3L1350.0 684.1ZM1351.0 710.9L1358.1 714.1L1379.0 697.3L1372.0 694.1ZM1373.0 720.9L1380.1 724.1L1394.0 704.1L1394.0 704.1Z" fill="#26657d"/><path d="M1350.0 684.1L1361.4 689.3L1362.5 716.1L1351.0 710.9ZM1372.0 694.1L1383.4 699.3L1384.0 725.9L1373.0 720.9ZM1394.0 704.1L1394.0 704.1L1384.0 725.9L1384.0 725.9Z" fill="#40a8d0" stroke="#3283a2" stroke-width="1"/><path d="M1354.8 690.2L1360.8 706.1M1376.8 700.2L1382.8 716.1M1392.5 707.4L1387.5 718.3" stroke="#79c2de" stroke-width="2.8" stroke-linecap="round" fill="none" opacity="0.8"/></g><g><path d="M1158.2 732.6L1158.2 732.6L1186.2 724.3L1181.8 717.4ZM1165.2 743.4L1169.7 750.4L1200.2 746.0L1195.8 739.1ZM1179.2 765.1L1183.7 772.0L1214.2 767.7L1209.8 760.7ZM1193.2 786.8L1197.7 793.7L1223.8 782.4L1223.8 782.4Z" fill="#82400a"/><path d="M1181.8 717.4L1189.0 728.7L1172.5 754.7L1165.2 743.4ZM1195.8 739.1L1203.0 750.3L1186.5 776.4L1179.2 765.1ZM1209.8 760.7L1217.0 772.0L1200.2 797.6L1193.2 786.8ZM1223.8 782.4L1223.8 782.4L1200.2 797.6L1200.2 797.6Z" fill="#d86a10" stroke="#a8530c" stroke-width="1"/><path d="M1182.2 725.9L1177.5 744.3M1196.2 747.5L1191.5 766.0M1210.2 769.2L1205.5 787.6M1220.2 784.7L1208.5 792.3" stroke="#e49758" stroke-width="3.0" stroke-linecap="round" fill="none" opacity="0.8"/></g><g><path d="M1221.0 764.1L1221.0 764.1L1244.5 740.7L1231.0 735.9ZM1242.0 771.6L1255.4 776.4L1273.0 750.9L1273.0 750.9Z" fill="#90560e"/><path d="M1231.0 735.9L1252.9 743.7L1263.0 779.1L1242.0 771.6ZM1273.0 750.9L1273.0 750.9L1263.0 779.1L1263.0 779.1Z" fill="#f09018" stroke="#bb7013" stroke-width="1"/><path d="M1241.5 744.4L1257.5 766.0M1271.5 755.1L1266.5 769.2" stroke="#f4b15d" stroke-width="5.1" stroke-linecap="round" fill="none" opacity="0.8"/></g><g><path d="M1058.0 810.9L1058.0 810.9L1071.6 782.4L1062.0 781.1ZM1073.0 812.9L1082.6 814.1L1101.6 786.4L1092.0 785.1ZM1103.0 816.9L1112.6 818.1L1131.6 790.4L1122.0 789.1ZM1133.0 820.9L1142.6 822.1L1152.0 793.1L1152.0 793.1Z" fill="#907811"/><path d="M1062.0 781.1L1077.6 783.2L1088.6 814.9L1073.0 812.9ZM1092.0 785.1L1107.6 787.2L1118.6 818.9L1103.0 816.9ZM1122.0 789.1L1137.6 791.2L1148.0 822.9L1133.0 820.9ZM1152.0 793.1L1152.0 793.1L1148.0 822.9L1148.0 822.9Z" fill="#f0c81c" stroke="#bb9c16" stroke-width="1"/><path d="M1070.0 786.7L1083.0 803.6M1100.0 790.7L1113.0 807.6M1130.0 794.7L1143.0 811.6M1151.4 797.6L1149.4 812.5" stroke="#f4d860" stroke-width="3.5" stroke-linecap="round" fill="none" opacity="0.8"/></g><g><path d="M1151.8 817.9L1151.8 817.9L1158.8 784.9L1148.2 786.1ZM1168.4 816.0L1179.0 814.8L1192.0 781.1L1181.4 782.3ZM1201.6 812.2L1212.2 811.0L1225.2 777.3L1214.6 778.5ZM1234.8 808.4L1245.4 807.2L1258.4 773.5L1247.8 774.7ZM1268.0 804.6L1278.6 803.4L1291.6 769.7L1281.0 770.9ZM1301.2 800.8L1311.8 799.6L1314.2 767.1L1314.2 767.1Z" fill="#916b10"/><path d="M1148.2 786.1L1165.4 784.1L1185.7 814.0L1168.4 816.0ZM1181.4 782.3L1198.6 780.3L1218.9 810.2L1201.6 812.2ZM1214.6 778.5L1231.8 776.5L1252.1 806.4L1234.8 808.4ZM1247.8 774.7L1265.0 772.7L1285.3 802.6L1268.0 804.6ZM1281.0 770.9L1298.2 768.9L1317.8 798.9L1301.2 800.8ZM1314.2 767.1L1314.2 767.1L1317.8 798.9L1317.8 798.9Z" fill="#f2b21a" stroke="#bd8b14" stroke-width="1"/><path d="M1158.2 789.8L1176.6 803.8M1191.4 786.0L1209.8 800.0M1224.6 782.2L1243.0 796.2M1257.8 778.4L1276.2 792.4M1291.0 774.6L1309.4 788.6M1314.7 771.9L1316.5 787.8" stroke="#f6c95f" stroke-width="3.8" stroke-linecap="round" fill="none" opacity="0.8"/></g><g><path d="M1277.4 796.7L1277.4 796.7L1304.5 812.7L1306.6 803.3ZM1274.0 811.3L1271.9 820.7L1297.8 842.0L1300.0 832.7ZM1267.4 840.7L1265.2 850.1L1291.2 871.4L1293.3 862.0ZM1260.7 870.0L1258.6 879.4L1286.6 891.3L1286.6 891.3Z" fill="#916b10"/><path d="M1306.6 803.3L1303.2 818.6L1270.6 826.6L1274.0 811.3ZM1300.0 832.7L1296.5 847.9L1263.9 855.9L1267.4 840.7ZM1293.3 862.0L1289.8 877.2L1257.4 884.7L1260.7 870.0ZM1286.6 891.3L1286.6 891.3L1257.4 884.7L1257.4 884.7Z" fill="#f2b21a" stroke="#bd8b14" stroke-width="1"/><path d="M1300.3 810.7L1282.4 822.1M1293.7 840.0L1275.7 851.4M1287.0 869.4L1269.0 880.7M1282.2 890.3L1267.6 887.0" stroke="#f6c95f" stroke-width="3.4" stroke-linecap="round" fill="none" opacity="0.8"/></g><g><path d="M1228.9 866.5L1228.9 866.5L1255.9 855.7L1251.1 849.5ZM1236.4 876.3L1241.2 882.5L1270.9 875.2L1266.1 869.0ZM1251.4 895.8L1256.2 902.0L1281.1 888.5L1281.1 888.5Z" fill="#916b10"/><path d="M1251.1 849.5L1258.9 859.6L1244.2 886.4L1236.4 876.3ZM1266.1 869.0L1273.9 879.1L1258.9 905.5L1251.4 895.8ZM1281.1 888.5L1281.1 888.5L1258.9 905.5L1258.9 905.5Z" fill="#f2b21a" stroke="#bd8b14" stroke-width="1"/><path d="M1252.1 857.6L1248.5 875.9M1267.1 877.1L1263.5 895.4M1277.8 891.0L1266.7 899.6" stroke="#f6c95f" stroke-width="2.8" stroke-linecap="round" fill="none" opacity="0.8"/></g><g><path d="M1175.9 853.2L1175.9 853.2L1208.1 853.5L1204.1 842.8ZM1182.2 870.0L1186.2 880.7L1220.6 887.0L1216.6 876.3ZM1194.7 903.5L1198.7 914.2L1229.1 909.8L1229.1 909.8Z" fill="#8b4810"/><path d="M1204.1 842.8L1210.6 860.2L1188.7 887.4L1182.2 870.0ZM1216.6 876.3L1223.1 893.7L1200.9 920.2L1194.7 903.5ZM1229.1 909.8L1229.1 909.8L1200.9 920.2L1200.9 920.2Z" fill="#e8781a" stroke="#b55e14" stroke-width="1"/><path d="M1203.4 853.9L1195.6 875.9M1215.9 887.4L1208.1 909.4M1224.8 911.3L1210.8 916.6" stroke="#efa05f" stroke-width="4.1" stroke-linecap="round" fill="none" opacity="0.8"/></g><g><path d="M1157.3 847.7L1157.3 847.7L1170.3 823.9L1162.7 822.3ZM1169.3 850.2L1177.0 851.8L1194.3 828.9L1186.7 827.3ZM1193.3 855.2L1201.0 856.8L1210.7 832.3L1210.7 832.3Z" fill="#783a07"/><path d="M1162.7 822.3L1175.1 824.9L1181.8 852.8L1169.3 850.2ZM1186.7 827.3L1199.1 829.9L1205.3 857.7L1193.3 855.2ZM1210.7 832.3L1210.7 832.3L1205.3 857.7L1205.3 857.7Z" fill="#c8600c" stroke="#9c4b09" stroke-width="1"/><path d="M1168.7 827.5L1178.1 842.7M1192.7 832.5L1202.1 847.7M1209.9 836.1L1207.2 848.8" stroke="#d89055" stroke-width="2.8" stroke-linecap="round" fill="none" opacity="0.8"/></g><g><path d="M1201.3 894.6L1201.3 894.6L1224.0 880.2L1218.7 875.4ZM1209.5 902.1L1214.8 906.9L1240.5 895.2L1235.2 890.4ZM1226.0 917.1L1231.3 921.9L1251.7 905.4L1251.7 905.4Z" fill="#8b4810"/><path d="M1218.7 875.4L1227.3 883.2L1218.1 909.9L1209.5 902.1ZM1235.2 890.4L1243.8 898.2L1234.3 924.6L1226.0 917.1ZM1251.7 905.4L1251.7 905.4L1234.3 924.6L1234.3 924.6Z" fill="#e8781a" stroke="#b55e14" stroke-width="1"/><path d="M1220.8 882.6L1220.3 899.7M1237.3 897.6L1236.8 914.7M1249.1 908.3L1240.4 917.9" stroke="#efa05f" stroke-width="2.6" stroke-linecap="round" fill="none" opacity="0.8"/></g><g><path d="M1373.0 783.3L1373.0 783.3L1394.6 760.7L1387.0 756.7ZM1384.9 789.5L1392.5 793.5L1418.3 773.2L1410.7 769.2ZM1408.6 802.0L1416.2 806.0L1442.1 785.7L1434.5 781.7ZM1432.4 814.5L1440.0 818.5L1465.8 798.2L1458.2 794.2ZM1456.1 827.0L1463.7 831.0L1482.0 806.7L1482.0 806.7Z" fill="#404382"/><path d="M1387.0 756.7L1399.3 763.2L1397.2 796.0L1384.9 789.5ZM1410.7 769.2L1423.1 775.7L1421.0 808.5L1408.6 802.0ZM1434.5 781.7L1446.8 788.2L1444.7 821.0L1432.4 814.5ZM1458.2 794.2L1470.6 800.7L1468.0 833.3L1456.1 827.0ZM1482.0 806.7L1482.0 806.7L1468.0 833.3L1468.0 833.3Z" fill="#6a70d8" stroke="#5357a8" stroke-width="1"/><path d="M1391.7 764.3L1396.6 783.8M1415.4 776.8L1420.3 796.3M1439.2 789.3L1444.1 808.8M1462.9 801.8L1467.8 821.3M1479.9 810.7L1472.9 824.0" stroke="#979be4" stroke-width="3.1" stroke-linecap="round" fill="none" opacity="0.8"/></g><g><path d="M1366.6 836.2L1366.6 836.2L1393.8 831.8L1389.4 823.8ZM1373.3 848.7L1377.6 856.7L1407.3 856.8L1402.9 848.8ZM1386.8 873.7L1391.1 881.7L1416.4 873.8L1416.4 873.8Z" fill="#18787d"/><path d="M1389.4 823.8L1396.5 836.8L1380.3 861.7L1373.3 848.7ZM1402.9 848.8L1410.0 861.8L1393.6 886.2L1386.8 873.7ZM1416.4 873.8L1416.4 873.8L1393.6 886.2L1393.6 886.2Z" fill="#28c8d0" stroke="#1f9ca2" stroke-width="1"/><path d="M1389.9 832.8L1385.2 851.5M1403.4 857.8L1398.7 876.5M1413.0 875.7L1401.6 881.9" stroke="#69d8de" stroke-width="3.3" stroke-linecap="round" fill="none" opacity="0.8"/></g><g><path d="M1442.4 808.2L1442.4 808.2L1472.8 799.8L1467.6 791.8ZM1450.5 820.7L1455.7 828.7L1489.0 824.8L1483.8 816.8ZM1466.8 845.7L1472.0 853.7L1505.3 849.8L1500.1 841.8ZM1483.0 870.7L1488.2 878.7L1521.5 874.8L1516.3 866.8ZM1499.3 895.7L1504.5 903.7L1532.6 891.8L1532.6 891.8Z" fill="#137d56"/><path d="M1467.6 791.8L1476.0 804.8L1459.0 833.7L1450.5 820.7ZM1483.8 816.8L1492.3 829.8L1475.2 858.7L1466.8 845.7ZM1500.1 841.8L1508.5 854.8L1491.5 883.7L1483.0 870.7ZM1516.3 866.8L1524.8 879.8L1507.4 908.2L1499.3 895.7ZM1532.6 891.8L1532.6 891.8L1507.4 908.2L1507.4 908.2Z" fill="#20d090" stroke="#19a270" stroke-width="1"/><path d="M1468.5 801.4L1464.0 822.1M1484.7 826.4L1480.2 847.1M1501.0 851.4L1496.5 872.1M1517.2 876.4L1512.7 897.1M1528.8 894.3L1516.2 902.5" stroke="#63deb1" stroke-width="3.4" stroke-linecap="round" fill="none" opacity="0.8"/></g><g><path d="M1483.6 863.6L1483.6 863.6L1504.9 840.4L1496.4 836.4ZM1497.0 869.8L1505.6 873.8L1531.7 852.9L1523.1 848.9ZM1523.8 882.3L1532.3 886.3L1558.4 865.4L1549.9 861.4ZM1550.5 894.8L1559.1 898.8L1585.2 877.9L1576.6 873.9ZM1577.3 907.3L1585.8 911.3L1603.4 886.4L1603.4 886.4Z" fill="#507d43"/><path d="M1496.4 836.4L1510.3 842.9L1510.9 876.3L1497.0 869.8ZM1523.1 848.9L1537.0 855.4L1537.7 888.8L1523.8 882.3ZM1549.9 861.4L1563.8 867.9L1564.4 901.3L1550.5 894.8ZM1576.6 873.9L1590.5 880.4L1590.6 913.6L1577.3 907.3ZM1603.4 886.4L1603.4 886.4L1590.6 913.6L1590.6 913.6Z" fill="#86d070" stroke="#69a257" stroke-width="1"/><path d="M1502.1 844.1L1509.1 863.9M1528.8 856.6L1535.9 876.4M1555.6 869.1L1562.6 888.9M1582.3 881.6L1589.4 901.4M1601.4 890.5L1595.1 904.1" stroke="#aade9b" stroke-width="3.4" stroke-linecap="round" fill="none" opacity="0.8"/></g><g><path d="M1474.2 811.6L1474.2 811.6L1492.2 791.6L1485.8 788.4ZM1484.2 816.6L1490.6 819.8L1512.2 801.6L1505.8 798.4ZM1504.2 826.6L1510.6 829.8L1532.2 811.6L1525.8 808.4ZM1524.2 836.6L1530.6 839.8L1545.8 818.4L1545.8 818.4Z" fill="#437860"/><path d="M1485.8 788.4L1496.2 793.6L1494.6 821.8L1484.2 816.6ZM1505.8 798.4L1516.2 803.6L1514.6 831.8L1504.2 826.6ZM1525.8 808.4L1536.2 813.6L1534.2 841.6L1524.2 836.6ZM1545.8 818.4L1545.8 818.4L1534.2 841.6L1534.2 841.6Z" fill="#70c8a0" stroke="#579c7d" stroke-width="1"/><path d="M1489.8 794.7L1494.0 811.3M1509.8 804.7L1514.0 821.3M1529.8 814.7L1534.0 831.3M1544.1 821.9L1538.3 833.5" stroke="#9bd8bc" stroke-width="2.6" stroke-linecap="round" fill="none" opacity="0.8"/></g><g><path d="M1566.1 830.4L1566.1 830.4L1583.6 812.8L1577.9 809.6ZM1574.9 835.4L1580.6 838.6L1601.2 822.8L1595.6 819.6ZM1592.6 845.4L1598.2 848.6L1618.9 832.8L1613.2 829.6ZM1610.3 855.4L1615.9 858.6L1630.9 839.6L1630.9 839.6Z" fill="#267d52"/><path d="M1577.9 809.6L1587.1 814.8L1584.1 840.6L1574.9 835.4ZM1595.6 819.6L1604.8 824.8L1601.8 850.6L1592.6 845.4ZM1613.2 829.6L1622.4 834.8L1619.1 860.4L1610.3 855.4ZM1630.9 839.6L1630.9 839.6L1619.1 860.4L1619.1 860.4Z" fill="#40d088" stroke="#32a26a" stroke-width="1"/><path d="M1581.2 815.5L1584.1 831.0M1598.9 825.5L1601.8 841.0M1616.5 835.5L1619.4 851.0M1629.1 842.7L1623.2 853.1" stroke="#79deac" stroke-width="2.3" stroke-linecap="round" fill="none" opacity="0.8"/></g><g><path d="M1611.5 803.8L1611.5 803.8L1636.5 792.6L1630.5 786.2ZM1620.7 813.8L1626.6 820.2L1655.0 812.6L1649.0 806.2ZM1639.2 833.8L1645.1 840.2L1667.5 826.2L1667.5 826.2Z" fill="#656e22"/><path d="M1630.5 786.2L1640.2 796.6L1630.3 824.2L1620.7 813.8ZM1649.0 806.2L1658.7 816.6L1648.5 843.8L1639.2 833.8ZM1667.5 826.2L1667.5 826.2L1648.5 843.8L1648.5 843.8Z" fill="#a8b838" stroke="#83902c" stroke-width="1"/><path d="M1633.0 794.5L1632.7 813.4M1651.5 814.5L1651.2 833.4M1664.7 828.8L1655.1 837.6" stroke="#c2cd74" stroke-width="3.1" stroke-linecap="round" fill="none" opacity="0.8"/></g><g><path d="M1675.8 814.1L1675.8 814.1L1693.4 799.5L1688.2 795.9ZM1683.8 819.6L1688.9 823.1L1709.4 810.5L1704.2 806.9ZM1699.8 830.6L1704.9 834.1L1720.2 817.9L1720.2 817.9Z" fill="#6a7d26"/><path d="M1688.2 795.9L1696.6 801.7L1692.1 825.3L1683.8 819.6ZM1704.2 806.9L1712.6 812.7L1707.8 836.1L1699.8 830.6ZM1720.2 817.9L1720.2 817.9L1707.8 836.1L1707.8 836.1Z" fill="#b0d040" stroke="#89a232" stroke-width="1"/><path d="M1690.9 801.8L1692.7 816.4M1706.9 812.8L1708.7 827.4M1718.4 820.7L1712.1 829.7" stroke="#c8de79" stroke-width="2.2" stroke-linecap="round" fill="none" opacity="0.8"/></g><g><path d="M1643.1 768.1L1643.1 768.1L1635.9 739.8L1628.9 743.9ZM1654.1 761.6L1661.2 757.4L1657.9 726.8L1650.9 730.9ZM1676.1 748.6L1683.2 744.4L1679.9 713.8L1672.9 717.9ZM1698.1 735.6L1705.2 731.4L1694.9 704.9L1694.9 704.9Z" fill="#908619"/><path d="M1628.9 743.9L1640.3 737.2L1665.6 754.8L1654.1 761.6ZM1650.9 730.9L1662.3 724.2L1687.6 741.8L1676.1 748.6ZM1672.9 717.9L1684.3 711.2L1709.1 729.1L1698.1 735.6ZM1694.9 704.9L1694.9 704.9L1709.1 729.1L1709.1 729.1Z" fill="#f0e02a" stroke="#bbaf21" stroke-width="1"/><path d="M1637.3 743.8L1655.4 749.4M1659.3 730.8L1677.4 736.4M1681.3 717.8L1699.4 723.4M1697.0 708.6L1704.1 720.6" stroke="#f4e96a" stroke-width="2.9" stroke-linecap="round" fill="none" opacity="0.8"/></g><g><path d="M1711.7 766.5L1711.7 766.5L1705.9 742.4L1700.3 745.5ZM1720.5 761.8L1726.1 758.8L1723.4 732.9L1717.8 736.0ZM1738.0 752.3L1743.6 749.3L1735.3 726.5L1735.3 726.5Z" fill="#908619"/><path d="M1700.3 745.5L1709.4 740.5L1729.6 756.9L1720.5 761.8ZM1717.8 736.0L1726.9 731.0L1746.7 747.5L1738.0 752.3ZM1735.3 726.5L1735.3 726.5L1746.7 747.5L1746.7 747.5Z" fill="#f0e02a" stroke="#bbaf21" stroke-width="1"/><path d="M1707.0 745.9L1721.5 751.7M1724.5 736.4L1739.0 742.2M1737.0 729.6L1742.7 740.2" stroke="#f4e96a" stroke-width="2.3" stroke-linecap="round" fill="none" opacity="0.8"/></g><g><path d="M1488.2 744.3L1488.2 744.3L1519.0 734.8L1511.8 725.7ZM1499.5 758.5L1506.7 767.7L1541.5 763.3L1534.3 754.2ZM1522.0 787.0L1529.2 796.2L1556.8 782.7L1556.8 782.7Z" fill="#916b10"/><path d="M1511.8 725.7L1523.5 740.5L1511.2 773.4L1499.5 758.5ZM1534.3 754.2L1546.0 769.0L1533.2 801.3L1522.0 787.0ZM1556.8 782.7L1556.8 782.7L1533.2 801.3L1533.2 801.3Z" fill="#f2b21a" stroke="#bd8b14" stroke-width="1"/><path d="M1514.7 736.6L1514.2 760.2M1537.2 765.1L1536.7 788.7M1553.2 785.5L1541.5 794.8" stroke="#f6c95f" stroke-width="4.2" stroke-linecap="round" fill="none" opacity="0.8"/></g><g><path d="M1509.9 699.7L1509.9 699.7L1535.4 685.8L1530.1 680.3ZM1518.2 708.4L1523.6 713.9L1552.1 703.2L1546.8 697.6ZM1534.9 725.7L1540.2 731.3L1568.8 720.5L1563.4 715.0ZM1551.6 743.0L1556.9 748.6L1580.1 732.3L1580.1 732.3Z" fill="#90650e"/><path d="M1530.1 680.3L1538.8 689.3L1526.9 717.4L1518.2 708.4ZM1546.8 697.6L1555.4 706.6L1543.6 734.7L1534.9 725.7ZM1563.4 715.0L1572.1 724.0L1559.9 751.7L1551.6 743.0ZM1580.1 732.3L1580.1 732.3L1559.9 751.7L1559.9 751.7Z" fill="#f0a818" stroke="#bb8313" stroke-width="1"/><path d="M1531.8 688.2L1530.1 706.5M1548.5 705.5L1546.7 723.9M1565.2 722.8L1563.4 741.2M1577.1 735.2L1567.0 744.9" stroke="#f4c25d" stroke-width="2.8" stroke-linecap="round" fill="none" opacity="0.8"/></g><g><path d="M1576.0 718.9L1576.0 718.9L1602.0 711.5L1598.0 705.1ZM1582.2 728.9L1586.2 735.3L1614.5 731.5L1610.5 725.1ZM1594.7 748.9L1598.7 755.3L1623.0 745.1L1623.0 745.1Z" fill="#6e300a"/><path d="M1598.0 705.1L1604.5 715.5L1588.7 739.3L1582.2 728.9ZM1610.5 725.1L1617.0 735.5L1601.0 758.9L1594.7 748.9ZM1623.0 745.1L1623.0 745.1L1601.0 758.9L1601.0 758.9Z" fill="#b85010" stroke="#903e0c" stroke-width="1"/><path d="M1598.3 712.9L1593.5 729.8M1610.8 732.9L1606.0 749.8M1619.7 747.2L1608.7 754.1" stroke="#cd8458" stroke-width="2.7" stroke-linecap="round" fill="none" opacity="0.8"/></g><g><path d="M1551.9 818.5L1551.9 818.5L1552.4 789.1L1544.1 791.5ZM1564.9 814.7L1573.2 812.3L1578.4 781.6L1570.1 784.0ZM1590.9 807.2L1599.2 804.8L1596.1 776.5L1596.1 776.5Z" fill="#8b600a"/><path d="M1544.1 791.5L1557.6 787.6L1578.4 810.8L1564.9 814.7ZM1570.1 784.0L1583.6 780.1L1603.9 803.5L1590.9 807.2ZM1596.1 776.5L1596.1 776.5L1603.9 803.5L1603.9 803.5Z" fill="#e8a010" stroke="#b57d0c" stroke-width="1"/><path d="M1552.7 793.4L1569.6 803.1M1578.7 785.9L1595.6 795.6M1597.3 780.6L1601.2 794.0" stroke="#efbc58" stroke-width="3.1" stroke-linecap="round" fill="none" opacity="0.8"/></g><g><path d="M1594.7 803.7L1594.7 803.7L1597.9 774.6L1589.3 776.3ZM1608.1 801.1L1616.6 799.5L1624.7 769.4L1616.1 771.1ZM1634.9 795.9L1643.4 794.3L1651.5 764.2L1642.9 765.9ZM1661.7 790.7L1670.2 789.1L1678.3 759.0L1669.7 760.7ZM1688.5 785.5L1697.0 783.9L1705.1 753.8L1696.5 755.5ZM1715.3 780.3L1723.8 778.7L1723.3 750.3L1723.3 750.3Z" fill="#907313"/><path d="M1589.3 776.3L1603.3 773.6L1622.0 798.4L1608.1 801.1ZM1616.1 771.1L1630.1 768.4L1648.8 793.2L1634.9 795.9ZM1642.9 765.9L1656.9 763.2L1675.6 788.0L1661.7 790.7ZM1669.7 760.7L1683.7 758.0L1702.4 782.8L1688.5 785.5ZM1696.5 755.5L1710.5 752.8L1728.7 777.7L1715.3 780.3ZM1723.3 750.3L1723.3 750.3L1728.7 777.7L1728.7 777.7Z" fill="#f0c020" stroke="#bb9619" stroke-width="1"/><path d="M1597.8 778.9L1613.9 790.0M1624.6 773.7L1640.7 784.8M1651.4 768.5L1667.5 779.6M1678.2 763.3L1694.3 774.4M1705.0 758.1L1721.1 769.2M1724.1 754.4L1726.8 768.1" stroke="#f4d363" stroke-width="3.1" stroke-linecap="round" fill="none" opacity="0.8"/></g><g><path d="M1541.3 833.5L1541.3 833.5L1558.4 809.2L1548.7 806.5ZM1556.5 837.7L1566.2 840.3L1588.7 817.5L1579.0 814.8ZM1586.8 846.0L1596.5 848.7L1619.1 825.8L1609.4 823.2ZM1617.1 854.3L1626.8 857.0L1639.7 831.5L1639.7 831.5Z" fill="#8b4810"/><path d="M1548.7 806.5L1564.5 810.8L1572.2 842.0L1556.5 837.7ZM1579.0 814.8L1594.8 819.2L1602.6 850.3L1586.8 846.0ZM1609.4 823.2L1625.1 827.5L1632.3 858.5L1617.1 854.3ZM1639.7 831.5L1639.7 831.5L1632.3 858.5L1632.3 858.5Z" fill="#e8781a" stroke="#b55e14" stroke-width="1"/><path d="M1556.3 812.9L1567.7 830.6M1586.6 821.3L1598.1 838.9M1616.9 829.6L1628.4 847.3M1638.6 835.6L1634.9 849.0" stroke="#efa05f" stroke-width="3.6" stroke-linecap="round" fill="none" opacity="0.8"/></g><g><path d="M1349.5 721.3L1349.5 721.3L1375.3 708.2L1370.5 702.7ZM1357.0 729.8L1361.8 735.2L1390.3 725.2L1385.5 719.7ZM1372.0 746.8L1376.8 752.2L1400.5 736.7L1400.5 736.7Z" fill="#8b0b07"/><path d="M1370.5 702.7L1378.3 711.6L1364.8 738.6L1357.0 729.8ZM1385.5 719.7L1393.3 728.6L1379.5 755.3L1372.0 746.8ZM1400.5 736.7L1400.5 736.7L1379.5 755.3L1379.5 755.3Z" fill="#e8120c" stroke="#b50e09" stroke-width="1"/><path d="M1371.6 710.4L1368.6 728.1M1386.6 727.4L1383.6 745.1M1397.3 739.5L1386.9 748.8" stroke="#ef5955" stroke-width="2.6" stroke-linecap="round" fill="none" opacity="0.8"/></g><g><path d="M1347.7 867.9L1347.7 867.9L1327.6 843.5L1322.3 852.1ZM1356.1 854.6L1361.4 846.1L1344.3 816.9L1338.9 825.4ZM1372.7 827.9L1378.1 819.4L1360.9 790.2L1355.6 798.7ZM1389.4 801.3L1394.7 792.7L1372.3 772.1L1372.3 772.1Z" fill="#902808"/><path d="M1322.3 852.1L1330.9 838.2L1364.7 840.7L1356.1 854.6ZM1338.9 825.4L1347.6 811.5L1381.4 814.1L1372.7 827.9ZM1355.6 798.7L1364.3 784.9L1397.7 787.9L1389.4 801.3ZM1372.3 772.1L1372.3 772.1L1397.7 787.9L1397.7 787.9Z" fill="#f0420e" stroke="#bb330b" stroke-width="1"/><path d="M1330.9 846.8L1351.9 841.4M1347.5 820.1L1368.6 814.8M1364.2 793.5L1385.2 788.1M1376.1 774.4L1388.8 782.4" stroke="#f47b56" stroke-width="3.6" stroke-linecap="round" fill="none" opacity="0.8"/></g><g><path d="M1383.7 812.5L1383.7 812.5L1387.2 784.3L1376.3 787.5ZM1400.7 807.5L1411.5 804.3L1410.3 777.5L1410.3 777.5Z" fill="#902808"/><path d="M1376.3 787.5L1394.0 782.3L1417.7 802.5L1400.7 807.5ZM1410.3 777.5L1410.3 777.5L1417.7 802.5L1417.7 802.5Z" fill="#f0420e" stroke="#bb330b" stroke-width="1"/><path d="M1387.2 788.4L1407.8 795.9M1411.4 781.3L1415.1 793.7" stroke="#f47b56" stroke-width="4.1" stroke-linecap="round" fill="none" opacity="0.8"/></g><g><path d="M1304.2 941.8L1304.2 941.8L1287.6 910.2L1279.8 918.2ZM1316.3 929.3L1324.1 921.3L1311.8 885.2L1304.0 893.2ZM1340.6 904.3L1348.3 896.3L1336.1 860.2L1328.3 868.2ZM1364.8 879.3L1372.6 871.3L1360.3 835.2L1352.5 843.2ZM1389.1 854.3L1396.8 846.3L1376.8 818.2L1376.8 818.2Z" fill="#8b0b07"/><path d="M1279.8 918.2L1292.4 905.2L1328.9 916.3L1316.3 929.3ZM1304.0 893.2L1316.7 880.2L1353.2 891.3L1340.6 904.3ZM1328.3 868.2L1340.9 855.2L1377.4 866.3L1364.8 879.3ZM1352.5 843.2L1365.2 830.2L1401.2 841.8L1389.1 854.3ZM1376.8 818.2L1376.8 818.2L1401.2 841.8L1401.2 841.8Z" fill="#e8120c" stroke="#b50e09" stroke-width="1"/><path d="M1290.4 914.6L1314.7 913.9M1314.6 889.6L1339.0 888.9M1338.9 864.6L1363.2 863.9M1363.1 839.6L1387.5 838.9M1380.5 821.7L1392.7 833.6" stroke="#ef5955" stroke-width="4.0" stroke-linecap="round" fill="none" opacity="0.8"/></g><g><path d="M1388.2 937.6L1388.2 937.6L1375.7 904.5L1367.8 910.4ZM1400.4 928.5L1408.2 922.7L1400.2 886.3L1392.3 892.1ZM1424.9 910.3L1432.7 904.4L1424.7 868.0L1416.8 873.9ZM1449.4 892.0L1457.2 886.2L1449.2 849.8L1441.3 855.6ZM1473.9 873.8L1481.7 867.9L1465.8 837.4L1465.8 837.4Z" fill="#8b0b07"/><path d="M1367.8 910.4L1380.6 900.9L1413.1 919.0L1400.4 928.5ZM1392.3 892.1L1405.1 882.6L1437.6 900.8L1424.9 910.3ZM1416.8 873.9L1429.6 864.4L1462.1 882.5L1449.4 892.0ZM1441.3 855.6L1454.1 846.1L1486.2 864.6L1473.9 873.8ZM1465.8 837.4L1465.8 837.4L1486.2 864.6L1486.2 864.6Z" fill="#e8120c" stroke="#b50e09" stroke-width="1"/><path d="M1377.9 909.2L1400.3 913.7M1402.4 891.0L1424.8 895.5M1426.9 872.7L1449.3 877.2M1451.4 854.5L1473.8 859.0M1468.9 841.5L1479.0 855.1" stroke="#ef5955" stroke-width="3.5" stroke-linecap="round" fill="none" opacity="0.8"/></g><g><path d="M1382.8 861.3L1382.8 861.3L1384.1 825.5L1373.2 828.7ZM1399.8 856.3L1410.7 853.1L1418.1 815.5L1407.2 818.7ZM1433.8 846.3L1444.7 843.1L1452.1 805.5L1441.2 808.7ZM1467.8 836.3L1478.7 833.1L1475.2 798.7L1475.2 798.7Z" fill="#8b0b07"/><path d="M1373.2 828.7L1390.9 823.5L1417.5 851.1L1399.8 856.3ZM1407.2 818.7L1424.9 813.5L1451.5 841.1L1433.8 846.3ZM1441.2 808.7L1458.9 803.5L1484.8 831.3L1467.8 836.3ZM1475.2 798.7L1475.2 798.7L1484.8 831.3L1484.8 831.3Z" fill="#e8120c" stroke="#b50e09" stroke-width="1"/><path d="M1384.4 830.7L1406.2 842.0M1418.4 820.7L1440.2 832.0M1452.4 810.7L1474.2 822.0M1476.6 803.6L1481.4 819.9" stroke="#ef5955" stroke-width="4.1" stroke-linecap="round" fill="none" opacity="0.8"/></g><g><path d="M1489.1 733.9L1489.1 733.9L1479.6 703.5L1470.9 710.1ZM1502.6 723.7L1511.2 717.1L1506.6 683.0L1497.9 689.6ZM1529.6 703.2L1538.2 696.6L1524.9 669.1L1524.9 669.1Z" fill="#902808"/><path d="M1470.9 710.1L1485.0 699.4L1516.6 713.0L1502.6 723.7ZM1497.9 689.6L1512.0 678.9L1543.1 692.9L1529.6 703.2ZM1524.9 669.1L1524.9 669.1L1543.1 692.9L1543.1 692.9Z" fill="#f0420e" stroke="#bb330b" stroke-width="1"/><path d="M1481.4 707.8L1503.9 709.5M1508.4 687.3L1530.9 689.0M1527.7 672.6L1536.7 684.6" stroke="#f47b56" stroke-width="3.9" stroke-linecap="round" fill="none" opacity="0.8"/></g><g><path d="M1398.5 788.1L1398.5 788.1L1398.7 752.1L1387.5 755.9ZM1416.0 782.1L1427.2 778.2L1433.7 740.1L1422.5 743.9ZM1451.0 770.1L1462.2 766.2L1468.7 728.1L1457.5 731.9ZM1486.0 758.1L1497.2 754.2L1503.7 716.1L1492.5 719.9ZM1521.0 746.1L1532.2 742.2L1538.7 704.1L1527.5 707.9ZM1556.0 734.1L1567.2 730.2L1562.5 695.9L1562.5 695.9Z" fill="#8b0b07"/><path d="M1387.5 755.9L1405.7 749.7L1434.2 775.8L1416.0 782.1ZM1422.5 743.9L1440.7 737.7L1469.2 763.8L1451.0 770.1ZM1457.5 731.9L1475.7 725.7L1504.2 751.8L1486.0 758.1ZM1492.5 719.9L1510.7 713.7L1539.2 739.8L1521.0 746.1ZM1527.5 707.9L1545.7 701.7L1573.5 728.1L1556.0 734.1ZM1562.5 695.9L1562.5 695.9L1573.5 728.1L1573.5 728.1Z" fill="#e8120c" stroke="#b50e09" stroke-width="1"/><path d="M1399.2 757.3L1422.2 767.4M1434.2 745.3L1457.2 755.4M1469.2 733.3L1492.2 743.4M1504.2 721.3L1527.2 731.4M1539.2 709.3L1562.2 719.4M1564.1 700.7L1569.7 716.8" stroke="#ef5955" stroke-width="4.2" stroke-linecap="round" fill="none" opacity="0.8"/></g><g><path d="M1392.7 716.3L1392.7 716.3L1394.5 680.4L1383.3 683.7ZM1410.4 711.2L1421.7 707.9L1429.8 670.1L1418.5 673.4ZM1445.6 700.9L1456.9 697.7L1465.0 659.9L1453.8 663.2ZM1480.9 690.7L1492.2 687.4L1500.3 649.6L1489.0 652.9ZM1516.1 680.4L1527.4 677.2L1524.3 642.7L1524.3 642.7Z" fill="#8b0b07"/><path d="M1383.3 683.7L1401.6 678.3L1428.7 705.9L1410.4 711.2ZM1418.5 673.4L1436.8 668.1L1464.0 695.6L1445.6 700.9ZM1453.8 663.2L1472.1 657.8L1499.2 685.4L1480.9 690.7ZM1489.0 652.9L1507.3 647.6L1533.7 675.3L1516.1 680.4ZM1524.3 642.7L1524.3 642.7L1533.7 675.3L1533.7 675.3Z" fill="#e8120c" stroke="#b50e09" stroke-width="1"/><path d="M1394.8 685.6L1417.1 696.8M1430.0 675.4L1452.4 686.6M1465.3 665.1L1487.6 676.3M1500.5 654.9L1522.9 666.1M1525.7 647.6L1530.4 663.9" stroke="#ef5955" stroke-width="4.2" stroke-linecap="round" fill="none" opacity="0.8"/></g><path d="M1117.4 621.7A40 51 0 0 1 1157.1 627.9M1167.6 643.1A40 51 0 0 1 1171.3 683.5M1163.6 701.4A40 51 0 0 1 1126.7 719.0M1111.2 711.4A40 51 0 0 1 1105.2 631.9" fill="none" stroke="#ff0a0a" stroke-width="4.8"/><path d="M1027.0 788.8A40 52 0 0 1 1066.7 795.2M1077.2 810.7A40 52 0 0 1 1080.9 851.9M1073.2 870.1A40 52 0 0 1 1036.3 888.1M1020.8 880.3A40 52 0 0 1 1014.8 799.3" fill="none" stroke="#ff0a0a" stroke-width="4.8"/><path d="M1205.1 835.1A42 52 0 0 1 1246.8 841.5M1257.9 857.0A42 52 0 0 1 1261.7 898.2M1253.7 916.4A42 52 0 0 1 1214.9 934.4M1198.6 926.6A42 52 0 0 1 1192.3 845.6" fill="none" stroke="#ff0a0a" stroke-width="4.8"/><path d="M1354.8 870.1A45 51 0 0 1 1399.5 876.3M1411.4 891.5A45 51 0 0 1 1415.4 931.9M1406.9 949.8A45 51 0 0 1 1365.4 967.4M1347.9 959.8A45 51 0 0 1 1341.1 880.3" fill="none" stroke="#ff0a0a" stroke-width="4.8"/><path d="M1583.5 676.8A41 52 0 0 1 1624.2 683.2M1635.0 698.7A41 52 0 0 1 1638.7 739.9M1630.9 758.1A41 52 0 0 1 1593.1 776.1M1577.2 768.3A41 52 0 0 1 1571.0 687.3" fill="none" stroke="#ff0a0a" stroke-width="4.8"/><path d="M1613.6 836.1A42 51 0 0 1 1655.3 842.3M1666.4 857.5A42 51 0 0 1 1670.2 897.9M1662.2 915.8A42 51 0 0 1 1623.4 933.4M1607.1 925.8A42 51 0 0 1 1600.8 846.3" fill="none" stroke="#ff0a0a" stroke-width="4.8"/></g>
<g clip-path="url(#cpB)"><path d="M1290.0 1200.0C1295.0 1205.0 1310.0 1226.7 1320.0 1230.0C1330.0 1233.3 1341.7 1216.7 1350.0 1220.0C1358.3 1223.3 1366.7 1245.0 1370.0 1250.0" fill="none" stroke="#4060e0" stroke-width="3.2" stroke-linecap="round" stroke-linejoin="round"/><path d="M1480.0 1180.0C1483.3 1185.0 1491.7 1206.7 1500.0 1210.0C1508.3 1213.3 1521.7 1196.7 1530.0 1200.0C1538.3 1203.3 1546.7 1225.0 1550.0 1230.0" fill="none" stroke="#4848e0" stroke-width="3.2" stroke-linecap="round" stroke-linejoin="round"/><path d="M1420.0 1250.0C1423.3 1255.0 1431.7 1273.3 1440.0 1280.0C1448.3 1286.7 1461.7 1283.3 1470.0 1290.0C1478.3 1296.7 1486.7 1315.0 1490.0 1320.0" fill="none" stroke="#30b0d0" stroke-width="3.2" stroke-linecap="round" stroke-linejoin="round"/><path d="M1560.0 1180.0C1565.0 1183.3 1580.0 1198.3 1590.0 1200.0C1600.0 1201.7 1611.7 1188.3 1620.0 1190.0C1628.3 1191.7 1636.7 1206.7 1640.0 1210.0" fill="none" stroke="#40c040" stroke-width="3.2" stroke-linecap="round" stroke-linejoin="round"/><path d="M1660.0 1250.0C1665.0 1255.0 1680.0 1276.7 1690.0 1280.0C1700.0 1283.3 1711.7 1268.3 1720.0 1270.0C1728.3 1271.7 1736.7 1286.7 1740.0 1290.0" fill="none" stroke="#60c848" stroke-width="3.2" stroke-linecap="round" stroke-linejoin="round"/><path d="M1230.0 1160.0C1235.0 1165.0 1251.7 1187.5 1260.0 1190.0C1268.3 1192.5 1276.7 1177.5 1280.0 1175.0" fill="none" stroke="#20b040" stroke-width="3.2" stroke-linecap="round" stroke-linejoin="round"/><g><path d="M1233.3 1251.1L1233.3 1251.1L1254.7 1233.7L1246.7 1228.9ZM1245.8 1258.6L1253.8 1263.4L1279.7 1248.7L1271.7 1243.9ZM1270.8 1273.6L1278.8 1278.4L1296.7 1258.9L1296.7 1258.9Z" fill="#1d567d"/><path d="M1246.7 1228.9L1259.7 1236.7L1258.8 1266.4L1245.8 1258.6ZM1271.7 1243.9L1284.7 1251.7L1283.3 1281.1L1270.8 1273.6ZM1296.7 1258.9L1296.7 1258.9L1283.3 1281.1L1283.3 1281.1Z" fill="#3090d0" stroke="#2570a2" stroke-width="1"/><path d="M1251.8 1236.5L1257.6 1255.1M1276.8 1251.5L1282.6 1270.1M1294.7 1262.2L1288.0 1273.3" stroke="#6eb1de" stroke-width="3.3" stroke-linecap="round" fill="none" opacity="0.8"/></g><g><path d="M1145.5 1241.1L1145.5 1241.1L1162.5 1222.1L1154.5 1218.9ZM1158.0 1246.1L1166.0 1249.3L1187.5 1232.1L1179.5 1228.9ZM1183.0 1256.1L1191.0 1259.3L1204.5 1238.9L1204.5 1238.9Z" fill="#136a2b"/><path d="M1154.5 1218.9L1167.5 1224.1L1171.0 1251.3L1158.0 1246.1ZM1179.5 1228.9L1192.5 1234.1L1195.5 1261.1L1183.0 1256.1ZM1204.5 1238.9L1204.5 1238.9L1195.5 1261.1L1195.5 1261.1Z" fill="#20b048" stroke="#198938" stroke-width="1"/><path d="M1160.3 1225.1L1168.3 1241.2M1185.3 1235.1L1193.3 1251.2M1203.1 1242.2L1198.7 1253.3" stroke="#63c87f" stroke-width="3.1" stroke-linecap="round" fill="none" opacity="0.8"/></g><path d="M1506.0 1046.0C1511.7 1045.0 1527.0 1042.7 1540.0 1040.0C1553.0 1037.3 1573.7 1022.7 1584.0 1030.0C1594.3 1037.3 1599.0 1075.0 1602.0 1084.0" fill="none" stroke="#d06a20" stroke-width="2.6" stroke-linecap="round" stroke-linejoin="round"/><path d="M1200.0 1280.0C1205.0 1289.2 1218.3 1324.2 1230.0 1335.0C1241.7 1345.8 1255.0 1342.5 1270.0 1345.0C1285.0 1347.5 1301.7 1350.8 1320.0 1350.0C1338.3 1349.2 1370.0 1341.7 1380.0 1340.0" fill="none" stroke="#c86420" stroke-width="2.6" stroke-linecap="round" stroke-linejoin="round"/><path d="M1660.0 1290.0C1666.7 1291.7 1686.7 1300.0 1700.0 1300.0C1713.3 1300.0 1728.7 1295.0 1740.0 1290.0C1751.3 1285.0 1763.3 1273.3 1768.0 1270.0" fill="none" stroke="#90c840" stroke-width="2.6" stroke-linecap="round" stroke-linejoin="round"/><path d="M1050.0 1262.0C1045.8 1263.7 1030.0 1267.3 1025.0 1272.0C1020.0 1276.7 1019.2 1284.8 1020.0 1290.0C1020.8 1295.2 1024.7 1301.3 1030.0 1303.0C1035.3 1304.7 1048.3 1300.5 1052.0 1300.0" fill="none" stroke="#c8c030" stroke-width="2.6" stroke-linecap="round" stroke-linejoin="round"/><path d="M1091.0 1172.0C1088.5 1168.8 1075.5 1159.7 1076.0 1153.0C1076.5 1146.3 1092.0 1138.8 1094.0 1132.0C1096.0 1125.2 1087.5 1116.2 1088.0 1112.0C1088.5 1107.8 1092.7 1107.5 1097.0 1107.0C1101.3 1106.5 1108.8 1106.5 1114.0 1109.0C1119.2 1111.5 1122.7 1120.7 1128.0 1122.0C1133.3 1123.3 1140.3 1118.7 1146.0 1117.0C1151.7 1115.3 1157.7 1113.3 1162.0 1112.0C1166.3 1110.7 1167.3 1109.8 1172.0 1109.0C1176.7 1108.2 1187.0 1107.3 1190.0 1107.0" fill="none" stroke="#98c830" stroke-width="2.6" stroke-linecap="round" stroke-linejoin="round"/><path d="M1060.0 1195.0C1057.5 1197.5 1050.3 1204.8 1045.0 1210.0C1039.7 1215.2 1030.8 1223.3 1028.0 1226.0" fill="none" stroke="#a8c830" stroke-width="2.6" stroke-linecap="round" stroke-linejoin="round"/><g><path d="M1051.5 1182.0L1051.5 1182.0L1071.8 1166.0L1066.5 1162.0ZM1059.7 1188.2L1065.0 1192.2L1088.3 1178.5L1083.0 1174.5ZM1076.2 1200.7L1081.5 1204.7L1099.5 1187.0L1099.5 1187.0Z" fill="#657813"/><path d="M1066.5 1162.0L1075.1 1168.5L1068.3 1194.7L1059.7 1188.2ZM1083.0 1174.5L1091.6 1181.0L1084.5 1207.0L1076.2 1200.7ZM1099.5 1187.0L1099.5 1187.0L1084.5 1207.0L1084.5 1207.0Z" fill="#a8c820" stroke="#839c19" stroke-width="1"/><path d="M1069.0 1168.6L1069.7 1184.8M1085.5 1181.1L1086.2 1197.3M1097.3 1190.0L1089.7 1200.0" stroke="#c2d863" stroke-width="2.4" stroke-linecap="round" fill="none" opacity="0.8"/></g><g><path d="M1024.0 1237.4L1024.0 1237.4L1038.6 1214.8L1032.0 1212.6ZM1034.3 1240.7L1041.0 1242.8L1059.3 1221.4L1052.7 1219.3ZM1055.0 1247.4L1061.6 1249.5L1079.9 1228.1L1073.3 1226.0ZM1075.7 1254.0L1082.3 1256.2L1094.0 1232.6L1094.0 1232.6Z" fill="#908619"/><path d="M1032.0 1212.6L1042.7 1216.1L1045.1 1244.2L1034.3 1240.7ZM1052.7 1219.3L1063.4 1222.8L1065.8 1250.8L1055.0 1247.4ZM1073.3 1226.0L1084.1 1229.4L1086.0 1257.4L1075.7 1254.0ZM1094.0 1232.6L1094.0 1232.6L1086.0 1257.4L1086.0 1257.4Z" fill="#f0e02a" stroke="#bbaf21" stroke-width="1"/><path d="M1036.7 1218.2L1043.0 1234.0M1057.4 1224.9L1063.7 1240.6M1078.0 1231.6L1084.4 1247.3M1092.8 1236.3L1088.8 1248.7" stroke="#f4e96a" stroke-width="2.5" stroke-linecap="round" fill="none" opacity="0.8"/></g><g><path d="M1032.6 1273.7L1032.6 1273.7L1036.2 1248.4L1027.4 1250.3ZM1046.3 1270.7L1055.1 1268.8L1063.7 1242.4L1054.9 1244.3ZM1073.8 1264.7L1082.6 1262.8L1082.4 1238.3L1082.4 1238.3Z" fill="#868213"/><path d="M1027.4 1250.3L1041.7 1247.2L1060.6 1267.6L1046.3 1270.7ZM1054.9 1244.3L1069.2 1241.2L1087.6 1261.7L1073.8 1264.7ZM1082.4 1238.3L1082.4 1238.3L1087.6 1261.7L1087.6 1261.7Z" fill="#e0d820" stroke="#afa819" stroke-width="1"/><path d="M1036.1 1252.1L1052.4 1260.8M1063.6 1246.1L1079.9 1254.8M1083.2 1241.8L1085.8 1253.5" stroke="#e9e463" stroke-width="3.2" stroke-linecap="round" fill="none" opacity="0.8"/></g><g><path d="M1097.9 1211.0L1097.9 1211.0L1126.5 1185.4L1112.1 1179.0ZM1120.4 1221.0L1134.8 1227.4L1157.1 1199.0L1157.1 1199.0Z" fill="#7d7313"/><path d="M1112.1 1179.0L1135.5 1189.4L1142.9 1231.0L1120.4 1221.0ZM1157.1 1199.0L1157.1 1199.0L1142.9 1231.0L1142.9 1231.0Z" fill="#d0c020" stroke="#a29619" stroke-width="1"/><path d="M1122.8 1189.5L1138.2 1215.5M1155.0 1203.8L1147.9 1219.8" stroke="#ded363" stroke-width="5.6" stroke-linecap="round" fill="none" opacity="0.8"/></g><g><path d="M1132.4 1146.4L1132.4 1146.4L1146.2 1125.6L1139.6 1123.6ZM1142.6 1149.7L1149.2 1151.8L1166.7 1132.1L1160.1 1130.1ZM1163.1 1156.2L1169.7 1158.3L1180.6 1136.6L1180.6 1136.6Z" fill="#267826"/><path d="M1139.6 1123.6L1150.3 1126.9L1153.3 1153.1L1142.6 1149.7ZM1160.1 1130.1L1170.8 1133.4L1173.4 1159.4L1163.1 1156.2ZM1180.6 1136.6L1180.6 1136.6L1173.4 1159.4L1173.4 1159.4Z" fill="#40c840" stroke="#329c32" stroke-width="1"/><path d="M1144.4 1128.9L1151.0 1143.5M1164.9 1135.4L1171.5 1150.0M1179.5 1140.0L1175.9 1151.4" stroke="#79d879" stroke-width="2.5" stroke-linecap="round" fill="none" opacity="0.8"/></g><g><path d="M1151.1 1173.7L1151.1 1173.7L1164.5 1147.9L1156.9 1146.3ZM1163.1 1176.2L1170.8 1177.8L1188.5 1152.9L1180.9 1151.3ZM1187.1 1181.2L1194.8 1182.8L1212.5 1157.9L1204.9 1156.3ZM1211.1 1186.2L1218.8 1187.8L1236.5 1162.9L1228.9 1161.3ZM1235.1 1191.2L1242.8 1192.8L1252.9 1166.3L1252.9 1166.3Z" fill="#136a26"/><path d="M1156.9 1146.3L1169.3 1148.9L1175.6 1178.8L1163.1 1176.2ZM1180.9 1151.3L1193.3 1153.9L1199.6 1183.8L1187.1 1181.2ZM1204.9 1156.3L1217.3 1158.9L1223.6 1188.8L1211.1 1186.2ZM1228.9 1161.3L1241.3 1163.9L1247.1 1193.7L1235.1 1191.2ZM1252.9 1166.3L1252.9 1166.3L1247.1 1193.7L1247.1 1193.7Z" fill="#20b040" stroke="#198932" stroke-width="1"/><path d="M1162.9 1151.8L1172.0 1168.0M1186.9 1156.8L1196.0 1173.0M1210.9 1161.8L1220.0 1178.0M1234.9 1166.8L1244.0 1183.0M1252.0 1170.4L1249.1 1184.1" stroke="#63c879" stroke-width="2.8" stroke-linecap="round" fill="none" opacity="0.8"/></g><g><path d="M1155.1 1208.1L1155.1 1208.1L1173.4 1185.1L1164.9 1181.9ZM1168.4 1213.1L1177.0 1216.3L1200.1 1195.1L1191.6 1191.9ZM1195.1 1223.1L1203.6 1226.3L1226.8 1205.1L1218.2 1201.9ZM1221.8 1233.1L1230.3 1236.3L1244.9 1211.9L1244.9 1211.9Z" fill="#136a2b"/><path d="M1164.9 1181.9L1178.8 1187.1L1182.3 1218.3L1168.4 1213.1ZM1191.6 1191.9L1205.4 1197.1L1209.0 1228.3L1195.1 1223.1ZM1218.2 1201.9L1232.1 1207.1L1235.1 1238.1L1221.8 1233.1ZM1244.9 1211.9L1244.9 1211.9L1235.1 1238.1L1235.1 1238.1Z" fill="#20b048" stroke="#198938" stroke-width="1"/><path d="M1171.1 1188.7L1179.5 1206.8M1197.7 1198.7L1206.2 1216.8M1224.4 1208.7L1232.8 1226.8M1243.4 1215.8L1238.5 1228.9" stroke="#63c87f" stroke-width="3.3" stroke-linecap="round" fill="none" opacity="0.8"/></g><g><path d="M1219.8 1143.8L1219.8 1143.8L1240.8 1130.5L1236.2 1126.2ZM1227.1 1150.5L1231.7 1154.9L1255.3 1144.0L1250.7 1139.7ZM1241.6 1164.0L1246.2 1168.4L1265.2 1153.2L1265.2 1153.2Z" fill="#4d7326"/><path d="M1236.2 1126.2L1243.7 1133.2L1234.6 1157.6L1227.1 1150.5ZM1250.7 1139.7L1258.2 1146.7L1248.8 1170.8L1241.6 1164.0ZM1265.2 1153.2L1265.2 1153.2L1248.8 1170.8L1248.8 1170.8Z" fill="#80c040" stroke="#649632" stroke-width="1"/><path d="M1237.9 1132.7L1236.9 1148.2M1252.4 1146.2L1251.4 1161.7M1262.7 1155.9L1254.5 1164.6" stroke="#a6d379" stroke-width="2.3" stroke-linecap="round" fill="none" opacity="0.8"/></g><g><path d="M1064.5 1260.9L1064.5 1260.9L1076.4 1232.0L1067.5 1231.1ZM1078.4 1262.3L1087.3 1263.2L1104.2 1234.8L1095.3 1233.9ZM1106.2 1265.1L1115.1 1266.0L1132.0 1237.6L1123.1 1236.7ZM1134.0 1267.9L1142.9 1268.8L1159.8 1240.4L1150.9 1239.5ZM1161.8 1270.7L1170.7 1271.6L1187.6 1243.2L1178.7 1242.3ZM1189.6 1273.5L1198.5 1274.4L1206.5 1245.1L1206.5 1245.1Z" fill="#908619"/><path d="M1067.5 1231.1L1082.0 1232.5L1092.9 1263.8L1078.4 1262.3ZM1095.3 1233.9L1109.8 1235.3L1120.7 1266.6L1106.2 1265.1ZM1123.1 1236.7L1137.6 1238.1L1148.5 1269.4L1134.0 1267.9ZM1150.9 1239.5L1165.4 1240.9L1176.3 1272.2L1161.8 1270.7ZM1178.7 1242.3L1193.2 1243.7L1203.5 1274.9L1189.6 1273.5ZM1206.5 1245.1L1206.5 1245.1L1203.5 1274.9L1203.5 1274.9Z" fill="#f0e02a" stroke="#bbaf21" stroke-width="1"/><path d="M1075.0 1236.4L1087.4 1252.7M1102.8 1239.2L1115.2 1255.5M1130.6 1242.0L1143.0 1258.3M1158.4 1244.8L1170.8 1261.1M1186.2 1247.6L1198.6 1263.9M1206.1 1249.6L1204.5 1264.5" stroke="#f4e96a" stroke-width="3.2" stroke-linecap="round" fill="none" opacity="0.8"/></g><g><path d="M1191.7 1136.9L1191.7 1136.9L1223.3 1132.7L1218.3 1123.1ZM1199.5 1151.9L1204.6 1161.5L1239.0 1162.7L1234.0 1153.1ZM1215.2 1181.9L1220.2 1191.5L1254.6 1192.7L1249.6 1183.1ZM1230.9 1211.9L1235.9 1221.5L1265.3 1213.1L1265.3 1213.1Z" fill="#864d13"/><path d="M1218.3 1123.1L1226.4 1138.7L1207.7 1167.5L1199.5 1151.9ZM1234.0 1153.1L1242.1 1168.7L1223.4 1197.5L1215.2 1181.9ZM1249.6 1183.1L1257.8 1198.7L1238.7 1226.9L1230.9 1211.9ZM1265.3 1213.1L1265.3 1213.1L1238.7 1226.9L1238.7 1226.9Z" fill="#e08020" stroke="#af6419" stroke-width="1"/><path d="M1218.8 1133.7L1213.3 1155.7M1234.5 1163.7L1229.0 1185.7M1250.1 1193.7L1244.7 1215.7M1261.3 1215.1L1248.0 1222.1" stroke="#e9a663" stroke-width="3.9" stroke-linecap="round" fill="none" opacity="0.8"/></g><g><path d="M1265.0 1164.1L1265.0 1164.1L1286.2 1139.9L1275.0 1135.9ZM1282.5 1170.4L1293.7 1174.4L1321.2 1152.4L1310.0 1148.4ZM1317.5 1182.9L1328.7 1186.9L1345.0 1160.9L1345.0 1160.9Z" fill="#18787d"/><path d="M1275.0 1135.9L1293.2 1142.4L1300.7 1176.9L1282.5 1170.4ZM1310.0 1148.4L1328.2 1154.9L1335.0 1189.1L1317.5 1182.9ZM1345.0 1160.9L1345.0 1160.9L1335.0 1189.1L1335.0 1189.1Z" fill="#28c8d0" stroke="#1f9ca2" stroke-width="1"/><path d="M1283.5 1143.7L1296.0 1164.1M1318.5 1156.2L1331.0 1176.6M1343.5 1165.1L1338.5 1179.2" stroke="#69d8de" stroke-width="4.3" stroke-linecap="round" fill="none" opacity="0.8"/></g><g><path d="M1281.7 1153.9L1281.7 1153.9L1292.9 1126.9L1284.3 1126.1ZM1295.1 1155.2L1303.6 1156.0L1319.6 1129.4L1311.1 1128.6ZM1321.8 1157.7L1330.4 1158.5L1346.4 1131.9L1337.8 1131.1ZM1348.6 1160.2L1357.1 1161.0L1373.1 1134.4L1364.6 1133.6ZM1375.3 1162.7L1383.9 1163.5L1391.3 1136.1L1391.3 1136.1Z" fill="#137865"/><path d="M1284.3 1126.1L1298.2 1127.4L1309.0 1156.5L1295.1 1155.2ZM1311.1 1128.6L1325.0 1129.9L1335.7 1159.0L1321.8 1157.7ZM1337.8 1131.1L1351.7 1132.4L1362.5 1161.5L1348.6 1160.2ZM1364.6 1133.6L1378.5 1134.9L1388.7 1163.9L1375.3 1162.7ZM1391.3 1136.1L1391.3 1136.1L1388.7 1163.9L1388.7 1163.9Z" fill="#20c8a8" stroke="#199c83" stroke-width="1"/><path d="M1291.6 1131.0L1303.6 1146.1M1318.3 1133.5L1330.4 1148.6M1345.1 1136.0L1357.1 1151.1M1371.8 1138.5L1383.9 1153.6M1390.9 1140.2L1389.6 1154.2" stroke="#63d8c2" stroke-width="3.1" stroke-linecap="round" fill="none" opacity="0.8"/></g><g><path d="M1297.6 1193.8L1297.6 1193.8L1311.5 1167.8L1302.4 1166.2ZM1311.7 1196.3L1320.8 1197.9L1339.8 1172.8L1330.8 1171.2ZM1340.1 1201.3L1349.1 1202.9L1368.2 1177.8L1359.1 1176.2ZM1368.4 1206.3L1377.5 1207.9L1387.4 1181.2L1387.4 1181.2Z" fill="#1d737d"/><path d="M1302.4 1166.2L1317.2 1168.8L1326.5 1198.9L1311.7 1196.3ZM1330.8 1171.2L1345.5 1173.8L1354.8 1203.9L1340.1 1201.3ZM1359.1 1176.2L1373.8 1178.8L1382.6 1208.8L1368.4 1206.3ZM1387.4 1181.2L1387.4 1181.2L1382.6 1208.8L1382.6 1208.8Z" fill="#30c0d0" stroke="#2596a2" stroke-width="1"/><path d="M1309.8 1171.8L1321.5 1188.1M1338.1 1176.8L1349.9 1193.1M1366.5 1181.8L1378.2 1198.1M1386.7 1185.3L1384.3 1199.1" stroke="#6ed3de" stroke-width="3.3" stroke-linecap="round" fill="none" opacity="0.8"/></g><g><path d="M1256.5 1205.6L1256.5 1205.6L1277.5 1188.6L1271.5 1184.4ZM1266.0 1212.3L1272.1 1216.6L1296.5 1202.0L1290.5 1197.7ZM1285.0 1225.6L1291.1 1229.9L1315.5 1215.3L1309.5 1211.0ZM1304.0 1239.0L1310.1 1243.2L1328.5 1224.4L1328.5 1224.4Z" fill="#2b2b86"/><path d="M1271.5 1184.4L1281.3 1191.3L1275.9 1219.2L1266.0 1212.3ZM1290.5 1197.7L1300.3 1204.6L1294.9 1232.6L1285.0 1225.6ZM1309.5 1211.0L1319.3 1218.0L1313.5 1245.6L1304.0 1239.0ZM1328.5 1224.4L1328.5 1224.4L1313.5 1245.6L1313.5 1245.6Z" fill="#4848e0" stroke="#3838af" stroke-width="1"/><path d="M1274.7 1191.4L1276.7 1208.7M1293.7 1204.7L1295.7 1222.0M1312.7 1218.0L1314.7 1235.3M1326.2 1227.6L1318.8 1238.2" stroke="#7f7fe9" stroke-width="2.7" stroke-linecap="round" fill="none" opacity="0.8"/></g><g><path d="M1255.7 1154.5L1255.7 1154.5L1287.5 1155.6L1284.3 1145.5ZM1260.7 1170.4L1263.9 1180.5L1297.5 1187.3L1294.3 1177.1ZM1270.7 1202.0L1273.9 1212.2L1307.5 1218.9L1304.3 1208.8ZM1280.7 1233.7L1283.9 1243.8L1314.3 1240.5L1314.3 1240.5Z" fill="#916b10"/><path d="M1284.3 1145.5L1289.5 1161.9L1265.9 1186.8L1260.7 1170.4ZM1294.3 1177.1L1299.5 1193.6L1275.9 1218.5L1270.7 1202.0ZM1304.3 1208.8L1309.5 1225.3L1285.7 1249.5L1280.7 1233.7ZM1314.3 1240.5L1314.3 1240.5L1285.7 1249.5L1285.7 1249.5Z" fill="#f2b21a" stroke="#bd8b14" stroke-width="1"/><path d="M1282.9 1155.9L1273.6 1176.2M1292.9 1187.6L1283.6 1207.9M1302.9 1219.2L1293.6 1239.6M1310.0 1241.8L1295.7 1246.4" stroke="#f6c95f" stroke-width="3.8" stroke-linecap="round" fill="none" opacity="0.8"/></g><g><path d="M1296.5 1166.6L1296.5 1166.6L1327.6 1162.0L1323.5 1153.4ZM1303.0 1179.9L1307.2 1188.4L1340.6 1188.6L1336.5 1180.1ZM1316.0 1206.6L1320.2 1215.1L1353.6 1215.3L1349.5 1206.8ZM1329.0 1233.2L1333.2 1241.8L1362.5 1233.4L1362.5 1233.4Z" fill="#916b10"/><path d="M1323.5 1153.4L1330.2 1167.3L1309.8 1193.8L1303.0 1179.9ZM1336.5 1180.1L1343.2 1194.0L1322.8 1220.4L1316.0 1206.6ZM1349.5 1206.8L1356.2 1220.6L1335.5 1246.6L1329.0 1233.2ZM1362.5 1233.4L1362.5 1233.4L1335.5 1246.6L1335.5 1246.6Z" fill="#f2b21a" stroke="#bd8b14" stroke-width="1"/><path d="M1323.2 1163.0L1316.2 1182.9M1336.2 1189.7L1329.2 1209.6M1349.2 1216.4L1342.2 1236.3M1358.4 1235.4L1345.0 1242.0" stroke="#f6c95f" stroke-width="3.4" stroke-linecap="round" fill="none" opacity="0.8"/></g><g><path d="M1206.0 1274.0L1206.0 1274.0L1214.3 1241.4L1204.0 1242.0ZM1222.1 1273.0L1232.4 1272.3L1246.6 1239.4L1236.3 1240.0ZM1254.4 1271.0L1264.7 1270.3L1278.8 1237.4L1268.5 1238.0ZM1286.6 1269.0L1296.9 1268.3L1311.1 1235.4L1300.8 1236.0ZM1318.9 1267.0L1329.2 1266.3L1333.0 1234.0L1333.0 1234.0Z" fill="#916b10"/><path d="M1204.0 1242.0L1220.8 1241.0L1238.9 1271.9L1222.1 1273.0ZM1236.3 1240.0L1253.0 1239.0L1271.1 1269.9L1254.4 1271.0ZM1268.5 1238.0L1285.3 1237.0L1303.4 1267.9L1286.6 1269.0ZM1300.8 1236.0L1317.5 1235.0L1335.0 1266.0L1318.9 1267.0ZM1333.0 1234.0L1333.0 1234.0L1335.0 1266.0L1335.0 1266.0Z" fill="#f2b21a" stroke="#bd8b14" stroke-width="1"/><path d="M1213.5 1246.2L1230.6 1261.2M1245.8 1244.2L1262.9 1259.2M1278.0 1242.2L1295.1 1257.2M1310.3 1240.2L1327.4 1255.2M1333.3 1238.8L1334.3 1254.8" stroke="#f6c95f" stroke-width="3.7" stroke-linecap="round" fill="none" opacity="0.8"/></g><g><path d="M1252.0 1299.2L1252.0 1299.2L1270.2 1273.7L1262.0 1270.8ZM1264.8 1303.7L1273.0 1306.5L1295.8 1282.7L1287.6 1279.8ZM1290.4 1312.7L1298.6 1315.5L1321.4 1291.7L1313.2 1288.8ZM1316.0 1321.7L1324.2 1324.5L1347.0 1300.7L1338.8 1297.8ZM1341.6 1330.7L1349.8 1333.5L1372.6 1309.7L1364.4 1306.8ZM1367.2 1339.7L1375.4 1342.5L1390.0 1315.8L1390.0 1315.8Z" fill="#235b82"/><path d="M1262.0 1270.8L1275.3 1275.5L1278.1 1308.3L1264.8 1303.7ZM1287.6 1279.8L1300.9 1284.5L1303.7 1317.3L1290.4 1312.7ZM1313.2 1288.8L1326.5 1293.5L1329.3 1326.3L1316.0 1321.7ZM1338.8 1297.8L1352.1 1302.5L1354.9 1335.3L1341.6 1330.7ZM1364.4 1306.8L1377.7 1311.5L1380.0 1344.2L1367.2 1339.7ZM1390.0 1315.8L1390.0 1315.8L1380.0 1344.2L1380.0 1344.2Z" fill="#3a98d8" stroke="#2d77a8" stroke-width="1"/><path d="M1267.8 1277.7L1275.6 1296.3M1293.4 1286.7L1301.2 1305.3M1319.0 1295.7L1326.8 1314.3M1344.6 1304.7L1352.4 1323.3M1370.2 1313.7L1378.0 1332.3M1388.5 1320.1L1383.5 1334.2" stroke="#75b7e4" stroke-width="3.1" stroke-linecap="round" fill="none" opacity="0.8"/></g><g><path d="M1209.5 1300.4L1209.5 1300.4L1235.1 1281.5L1226.5 1275.6ZM1223.0 1309.6L1231.7 1315.5L1262.1 1300.0L1253.5 1294.1ZM1250.0 1328.1L1258.7 1334.0L1280.5 1312.6L1280.5 1312.6Z" fill="#864313"/><path d="M1226.5 1275.6L1240.5 1285.2L1237.1 1319.2L1223.0 1309.6ZM1253.5 1294.1L1267.5 1303.7L1263.5 1337.4L1250.0 1328.1ZM1280.5 1312.6L1280.5 1312.6L1263.5 1337.4L1263.5 1337.4Z" fill="#e07020" stroke="#af5719" stroke-width="1"/><path d="M1231.7 1284.6L1236.7 1306.3M1258.7 1303.1L1263.7 1324.8M1277.9 1316.3L1269.5 1328.7" stroke="#e99b63" stroke-width="3.7" stroke-linecap="round" fill="none" opacity="0.8"/></g><g><path d="M1320.8 1295.5L1320.8 1295.5L1345.6 1280.1L1339.2 1274.5ZM1330.8 1304.3L1337.2 1309.9L1365.6 1297.6L1359.2 1292.0ZM1350.8 1321.8L1357.2 1327.4L1379.2 1309.5L1379.2 1309.5Z" fill="#8b260a"/><path d="M1339.2 1274.5L1349.6 1283.6L1341.2 1313.4L1330.8 1304.3ZM1359.2 1292.0L1369.6 1301.1L1360.8 1330.5L1350.8 1321.8ZM1379.2 1309.5L1379.2 1309.5L1360.8 1330.5L1360.8 1330.5Z" fill="#e84010" stroke="#b5320c" stroke-width="1"/><path d="M1342.2 1282.6L1343.0 1301.9M1362.2 1300.1L1363.0 1319.4M1376.5 1312.6L1367.2 1323.2" stroke="#ef7958" stroke-width="3.0" stroke-linecap="round" fill="none" opacity="0.8"/></g><g><path d="M1135.9 1187.3L1135.9 1187.3L1153.7 1165.9L1144.1 1162.7ZM1150.9 1192.3L1160.5 1195.5L1183.7 1175.9L1174.1 1172.7ZM1180.9 1202.3L1190.5 1205.5L1204.1 1182.7L1204.1 1182.7Z" fill="#136e2b"/><path d="M1144.1 1162.7L1159.7 1167.9L1166.5 1197.5L1150.9 1192.3ZM1174.1 1172.7L1189.7 1177.9L1195.9 1207.3L1180.9 1202.3ZM1204.1 1182.7L1204.1 1182.7L1195.9 1207.3L1195.9 1207.3Z" fill="#20b848" stroke="#199038" stroke-width="1"/><path d="M1151.5 1169.2L1162.3 1186.6M1181.5 1179.2L1192.3 1196.6M1202.9 1186.4L1198.8 1198.7" stroke="#63cd7f" stroke-width="3.6" stroke-linecap="round" fill="none" opacity="0.8"/></g><g><path d="M1144.2 1226.6L1144.2 1226.6L1163.8 1207.4L1155.8 1203.4ZM1156.7 1232.9L1164.7 1236.9L1188.8 1219.9L1180.8 1215.9ZM1181.7 1245.4L1189.7 1249.4L1205.8 1228.4L1205.8 1228.4Z" fill="#0e6526"/><path d="M1155.8 1203.4L1168.8 1209.9L1169.7 1239.4L1156.7 1232.9ZM1180.8 1215.9L1193.8 1222.4L1194.2 1251.6L1181.7 1245.4ZM1205.8 1228.4L1205.8 1228.4L1194.2 1251.6L1194.2 1251.6Z" fill="#18a840" stroke="#138332" stroke-width="1"/><path d="M1161.2 1210.4L1167.9 1228.3M1186.2 1222.9L1192.9 1240.8M1204.1 1231.9L1198.3 1243.5" stroke="#5dc279" stroke-width="3.2" stroke-linecap="round" fill="none" opacity="0.8"/></g><g><path d="M1153.6 1150.2L1153.6 1150.2L1172.8 1133.8L1166.4 1129.8ZM1163.6 1156.4L1170.0 1160.4L1192.8 1146.3L1186.4 1142.3ZM1183.6 1168.9L1190.0 1172.9L1206.4 1154.8L1206.4 1154.8Z" fill="#1d732b"/><path d="M1166.4 1129.8L1176.8 1136.3L1174.0 1162.9L1163.6 1156.4ZM1186.4 1142.3L1196.8 1148.8L1193.6 1175.2L1183.6 1168.9ZM1206.4 1154.8L1206.4 1154.8L1193.6 1175.2L1193.6 1175.2Z" fill="#30c048" stroke="#259638" stroke-width="1"/><path d="M1170.2 1136.5L1173.8 1152.9M1190.2 1149.0L1193.8 1165.4M1204.5 1157.9L1198.1 1168.1" stroke="#6ed37f" stroke-width="2.7" stroke-linecap="round" fill="none" opacity="0.8"/></g><g><path d="M1548.0 1086.0L1548.0 1086.0L1577.4 1096.2L1578.0 1088.0ZM1547.2 1098.9L1546.7 1107.1L1575.8 1121.9L1576.3 1113.6ZM1545.5 1124.5L1545.0 1132.7L1574.1 1147.5L1574.6 1139.3ZM1543.9 1150.2L1543.3 1158.4L1573.0 1165.0L1573.0 1165.0Z" fill="#916b10"/><path d="M1578.0 1088.0L1577.1 1101.3L1546.3 1112.2L1547.2 1098.9ZM1576.3 1113.6L1575.4 1127.0L1544.7 1137.9L1545.5 1124.5ZM1574.6 1139.3L1573.8 1152.7L1543.0 1163.0L1543.9 1150.2ZM1573.0 1165.0L1573.0 1165.0L1543.0 1163.0L1543.0 1163.0Z" fill="#f2b21a" stroke="#bd8b14" stroke-width="1"/><path d="M1573.0 1095.0L1557.2 1106.9M1571.3 1120.7L1555.5 1132.5M1569.7 1146.4L1553.9 1158.2M1568.5 1164.7L1553.5 1163.7" stroke="#f6c95f" stroke-width="2.9" stroke-linecap="round" fill="none" opacity="0.8"/></g><g><path d="M1498.0 1180.0L1498.0 1180.0L1510.4 1148.7L1500.0 1148.0ZM1514.2 1181.0L1524.6 1181.6L1542.8 1150.7L1532.4 1150.0ZM1546.6 1183.0L1557.0 1183.6L1575.2 1152.7L1564.8 1152.0ZM1579.0 1185.0L1589.4 1185.6L1607.6 1154.7L1597.2 1154.0ZM1611.4 1187.0L1621.8 1187.6L1640.0 1156.7L1629.6 1156.0ZM1643.8 1189.0L1654.2 1189.6L1662.0 1158.0L1662.0 1158.0Z" fill="#916b10"/><path d="M1500.0 1148.0L1516.8 1149.1L1531.1 1182.0L1514.2 1181.0ZM1532.4 1150.0L1549.2 1151.1L1563.5 1184.0L1546.6 1183.0ZM1564.8 1152.0L1581.6 1153.1L1595.9 1186.0L1579.0 1185.0ZM1597.2 1154.0L1614.0 1155.1L1628.3 1188.0L1611.4 1187.0ZM1629.6 1156.0L1646.4 1157.1L1660.0 1190.0L1643.8 1189.0ZM1662.0 1158.0L1662.0 1158.0L1660.0 1190.0L1660.0 1190.0Z" fill="#f2b21a" stroke="#bd8b14" stroke-width="1"/><path d="M1509.0 1153.4L1524.2 1170.4M1541.4 1155.4L1556.6 1172.4M1573.8 1157.4L1589.0 1174.4M1606.2 1159.4L1621.4 1176.4M1638.6 1161.4L1653.8 1178.4M1661.7 1162.8L1660.7 1178.8" stroke="#f6c95f" stroke-width="3.7" stroke-linecap="round" fill="none" opacity="0.8"/></g><g><path d="M1584.8 1098.3L1584.8 1098.3L1612.8 1089.1L1607.2 1081.7ZM1593.4 1110.0L1599.0 1117.5L1630.1 1112.5L1624.6 1105.0ZM1610.8 1133.3L1616.3 1140.8L1647.5 1135.8L1641.9 1128.3ZM1628.1 1156.7L1633.6 1164.1L1659.2 1151.7L1659.2 1151.7Z" fill="#7d4313"/><path d="M1607.2 1081.7L1616.3 1093.8L1602.4 1122.1L1593.4 1110.0ZM1624.6 1105.0L1633.6 1117.1L1619.8 1145.5L1610.8 1133.3ZM1641.9 1128.3L1650.9 1140.5L1636.8 1168.3L1628.1 1156.7ZM1659.2 1151.7L1659.2 1151.7L1636.8 1168.3L1636.8 1168.3Z" fill="#d07020" stroke="#a25719" stroke-width="1"/><path d="M1608.8 1090.8L1606.3 1110.8M1626.2 1114.2L1623.6 1134.2M1643.5 1137.5L1640.9 1157.5M1655.9 1154.2L1644.6 1162.5" stroke="#de9b63" stroke-width="3.3" stroke-linecap="round" fill="none" opacity="0.8"/></g><g><path d="M1657.9 1212.5L1657.9 1212.5L1645.7 1181.4L1638.1 1187.5ZM1669.9 1203.0L1677.6 1197.0L1669.7 1162.4L1662.1 1168.5ZM1693.9 1184.0L1701.6 1178.0L1693.7 1143.4L1686.1 1149.5ZM1717.9 1165.0L1725.6 1159.0L1717.7 1124.4L1710.1 1130.5ZM1741.9 1146.0L1749.6 1140.0L1741.7 1105.4L1734.1 1111.5ZM1765.9 1127.0L1773.6 1121.0L1758.1 1092.5L1758.1 1092.5Z" fill="#908619"/><path d="M1638.1 1187.5L1650.5 1177.6L1682.4 1193.2L1669.9 1203.0ZM1662.1 1168.5L1674.5 1158.6L1706.4 1174.2L1693.9 1184.0ZM1686.1 1149.5L1698.5 1139.6L1730.4 1155.2L1717.9 1165.0ZM1710.1 1130.5L1722.5 1120.6L1754.4 1136.2L1741.9 1146.0ZM1734.1 1111.5L1746.5 1101.6L1777.9 1117.5L1765.9 1127.0ZM1758.1 1092.5L1758.1 1092.5L1777.9 1117.5L1777.9 1117.5Z" fill="#f0e02a" stroke="#bbaf21" stroke-width="1"/><path d="M1647.9 1185.8L1669.8 1188.8M1671.9 1166.8L1693.8 1169.8M1695.9 1147.8L1717.8 1150.8M1719.9 1128.8L1741.8 1131.8M1743.9 1109.8L1765.8 1112.8M1761.0 1096.2L1771.0 1108.8" stroke="#f4e96a" stroke-width="3.5" stroke-linecap="round" fill="none" opacity="0.8"/></g><g><path d="M1681.6 1193.4L1681.6 1193.4L1710.0 1187.4L1706.4 1180.6ZM1687.1 1204.1L1690.6 1210.9L1721.0 1208.7L1717.4 1201.9ZM1698.1 1225.4L1701.6 1232.2L1732.0 1230.1L1728.4 1223.3ZM1709.1 1246.7L1712.6 1253.6L1739.4 1244.6L1739.4 1244.6Z" fill="#78731d"/><path d="M1706.4 1180.6L1712.2 1191.7L1692.8 1215.2L1687.1 1204.1ZM1717.4 1201.9L1723.2 1213.0L1703.8 1236.5L1698.1 1225.4ZM1728.4 1223.3L1734.2 1234.3L1714.6 1257.4L1709.1 1246.7ZM1739.4 1244.6L1739.4 1244.6L1714.6 1257.4L1714.6 1257.4Z" fill="#c8c030" stroke="#9c9625" stroke-width="1"/><path d="M1705.9 1188.6L1698.9 1205.7M1716.9 1209.9L1709.9 1227.0M1727.9 1231.3L1720.9 1248.4M1735.7 1246.5L1723.3 1252.9" stroke="#d8d36e" stroke-width="2.7" stroke-linecap="round" fill="none" opacity="0.8"/></g><g><path d="M1724.5 1113.5L1724.5 1113.5L1753.9 1115.7L1751.5 1106.5ZM1728.2 1127.9L1730.6 1137.1L1761.4 1144.4L1759.0 1135.2ZM1735.7 1156.7L1738.1 1165.9L1768.9 1173.2L1766.5 1164.0ZM1743.2 1185.4L1745.6 1194.6L1776.4 1201.9L1774.0 1192.7ZM1750.7 1214.2L1753.1 1223.4L1781.5 1221.5L1781.5 1221.5Z" fill="#6a6013"/><path d="M1751.5 1106.5L1755.4 1121.4L1732.1 1142.9L1728.2 1127.9ZM1759.0 1135.2L1762.9 1150.2L1739.6 1171.6L1735.7 1156.7ZM1766.5 1164.0L1770.4 1178.9L1747.1 1200.4L1743.2 1185.4ZM1774.0 1192.7L1777.9 1207.7L1754.5 1228.5L1750.7 1214.2ZM1781.5 1221.5L1781.5 1221.5L1754.5 1228.5L1754.5 1228.5Z" fill="#b0a020" stroke="#897d19" stroke-width="1"/><path d="M1749.6 1115.7L1739.8 1133.7M1757.1 1144.5L1747.3 1162.4M1764.6 1173.2L1754.8 1191.2M1772.1 1202.0L1762.3 1219.9M1777.5 1222.5L1763.9 1226.1" stroke="#c8bc63" stroke-width="3.4" stroke-linecap="round" fill="none" opacity="0.8"/></g><g><path d="M1444.7 1240.9L1444.7 1240.9L1472.1 1225.5L1465.3 1219.1ZM1455.4 1250.9L1462.2 1257.3L1493.4 1245.5L1486.6 1239.1ZM1476.7 1270.9L1483.6 1277.3L1514.8 1265.5L1507.9 1259.1ZM1498.1 1290.9L1504.9 1297.3L1536.1 1285.5L1529.3 1279.1ZM1519.4 1310.9L1526.2 1317.3L1557.4 1305.5L1550.6 1299.1ZM1540.7 1330.9L1547.6 1337.3L1578.8 1325.5L1571.9 1319.1ZM1562.1 1350.9L1568.9 1357.3L1593.3 1339.1L1593.3 1339.1Z" fill="#137d60"/><path d="M1465.3 1219.1L1476.4 1229.5L1466.5 1261.3L1455.4 1250.9ZM1486.6 1239.1L1497.7 1249.5L1487.8 1281.3L1476.7 1270.9ZM1507.9 1259.1L1519.0 1269.5L1509.2 1301.3L1498.1 1290.9ZM1529.3 1279.1L1540.4 1289.5L1530.5 1321.3L1519.4 1310.9ZM1550.6 1299.1L1561.7 1309.5L1551.8 1341.3L1540.7 1330.9ZM1571.9 1319.1L1583.0 1329.5L1572.7 1360.9L1562.1 1350.9ZM1593.3 1339.1L1593.3 1339.1L1572.7 1360.9L1572.7 1360.9Z" fill="#20d0a0" stroke="#19a27d" stroke-width="1"/><path d="M1468.3 1228.1L1468.7 1249.0M1489.6 1248.1L1490.0 1269.0M1510.9 1268.1L1511.4 1289.0M1532.3 1288.1L1532.7 1309.0M1553.6 1308.1L1554.0 1329.0M1574.9 1328.1L1575.4 1349.0M1590.2 1342.3L1579.9 1353.3" stroke="#63debc" stroke-width="3.3" stroke-linecap="round" fill="none" opacity="0.8"/></g><g><path d="M1475.7 1292.8L1475.7 1292.8L1471.5 1264.0L1464.3 1267.2ZM1486.9 1287.8L1494.1 1284.6L1494.0 1254.0L1486.8 1257.2ZM1509.4 1277.8L1516.6 1274.6L1516.5 1244.0L1509.3 1247.2ZM1531.9 1267.8L1539.1 1264.6L1539.0 1234.0L1531.8 1237.2ZM1554.4 1257.8L1561.6 1254.6L1554.3 1227.2L1554.3 1227.2Z" fill="#147865"/><path d="M1464.3 1267.2L1476.0 1262.0L1498.6 1282.6L1486.9 1287.8ZM1486.8 1257.2L1498.5 1252.0L1521.1 1272.6L1509.4 1277.8ZM1509.3 1247.2L1521.0 1242.0L1543.6 1262.6L1531.9 1267.8ZM1531.8 1237.2L1543.5 1232.0L1565.7 1252.8L1554.4 1257.8ZM1554.3 1227.2L1554.3 1227.2L1565.7 1252.8L1565.7 1252.8Z" fill="#22c8a8" stroke="#1b9c83" stroke-width="1"/><path d="M1472.5 1268.2L1489.4 1276.0M1495.0 1258.2L1511.9 1266.0M1517.5 1248.2L1534.4 1256.0M1540.0 1238.2L1556.9 1246.0M1556.0 1231.0L1561.7 1243.8" stroke="#64d8c2" stroke-width="2.8" stroke-linecap="round" fill="none" opacity="0.8"/></g><g><path d="M1418.1 1288.8L1418.1 1288.8L1445.9 1278.6L1439.9 1271.2ZM1427.6 1300.5L1433.7 1308.0L1464.9 1302.0L1458.9 1294.5ZM1446.6 1323.8L1452.7 1331.3L1483.9 1325.3L1477.9 1317.8ZM1465.6 1347.2L1471.7 1354.6L1496.9 1341.2L1496.9 1341.2Z" fill="#1d6a7d"/><path d="M1439.9 1271.2L1449.7 1283.3L1437.5 1312.6L1427.6 1300.5ZM1458.9 1294.5L1468.7 1306.6L1456.5 1336.0L1446.6 1323.8ZM1477.9 1317.8L1487.7 1330.0L1475.1 1358.8L1465.6 1347.2ZM1496.9 1341.2L1496.9 1341.2L1475.1 1358.8L1475.1 1358.8Z" fill="#30b0d0" stroke="#2589a2" stroke-width="1"/><path d="M1442.0 1280.5L1440.7 1301.0M1461.0 1303.8L1459.7 1324.3M1480.0 1327.2L1478.7 1347.7M1493.6 1343.8L1482.7 1352.7" stroke="#6ec8de" stroke-width="3.4" stroke-linecap="round" fill="none" opacity="0.8"/></g><g><path d="M1470.9 1214.7L1470.9 1214.7L1497.2 1201.7L1491.1 1195.3ZM1480.5 1224.7L1486.7 1231.1L1516.5 1221.7L1510.3 1215.3ZM1499.8 1244.7L1505.9 1251.1L1535.7 1241.7L1529.6 1235.3ZM1519.0 1264.7L1525.2 1271.1L1555.0 1261.7L1548.8 1255.3ZM1538.3 1284.7L1544.4 1291.1L1568.1 1275.3L1568.1 1275.3Z" fill="#263a86"/><path d="M1491.1 1195.3L1501.1 1205.7L1490.5 1235.1L1480.5 1224.7ZM1510.3 1215.3L1520.3 1225.7L1509.8 1255.1L1499.8 1244.7ZM1529.6 1235.3L1539.6 1245.7L1529.0 1275.1L1519.0 1264.7ZM1548.8 1255.3L1558.8 1265.7L1547.9 1294.7L1538.3 1284.7ZM1568.1 1275.3L1568.1 1275.3L1547.9 1294.7L1547.9 1294.7Z" fill="#4060e0" stroke="#324baf" stroke-width="1"/><path d="M1493.6 1203.9L1493.1 1223.6M1512.8 1223.9L1512.4 1243.6M1532.1 1243.9L1531.6 1263.6M1551.3 1263.9L1550.9 1283.6M1565.1 1278.2L1555.0 1287.9" stroke="#7990e9" stroke-width="3.2" stroke-linecap="round" fill="none" opacity="0.8"/></g><g><path d="M1566.3 1229.2L1566.3 1229.2L1584.4 1203.6L1575.7 1200.8ZM1579.9 1233.7L1588.6 1236.6L1611.6 1212.6L1602.9 1209.8ZM1607.1 1242.7L1615.8 1245.6L1638.8 1221.6L1630.1 1218.8ZM1634.3 1251.7L1643.0 1254.6L1666.0 1230.6L1657.3 1227.8ZM1661.5 1260.7L1670.2 1263.6L1693.2 1239.6L1684.5 1236.8ZM1688.7 1269.7L1697.4 1272.6L1711.7 1245.8L1711.7 1245.8Z" fill="#267326"/><path d="M1575.7 1200.8L1589.9 1205.4L1594.0 1238.4L1579.9 1233.7ZM1602.9 1209.8L1617.1 1214.4L1621.2 1247.4L1607.1 1242.7ZM1630.1 1218.8L1644.3 1223.4L1648.4 1256.4L1634.3 1251.7ZM1657.3 1227.8L1671.5 1232.4L1675.6 1265.4L1661.5 1260.7ZM1684.5 1236.8L1698.7 1241.4L1702.3 1274.2L1688.7 1269.7ZM1711.7 1245.8L1711.7 1245.8L1702.3 1274.2L1702.3 1274.2Z" fill="#40c040" stroke="#329632" stroke-width="1"/><path d="M1582.1 1207.6L1591.0 1226.3M1609.3 1216.6L1618.2 1235.3M1636.5 1225.6L1645.4 1244.3M1663.7 1234.6L1672.6 1253.3M1690.9 1243.6L1699.8 1262.3M1710.3 1250.0L1705.6 1264.3" stroke="#79d379" stroke-width="3.3" stroke-linecap="round" fill="none" opacity="0.8"/></g><g><path d="M1591.4 1292.3L1591.4 1292.3L1616.6 1273.3L1608.6 1267.7ZM1603.9 1301.0L1611.9 1306.6L1641.6 1290.8L1633.6 1285.2ZM1628.9 1318.5L1636.9 1324.1L1666.6 1308.3L1658.6 1302.7ZM1653.9 1336.0L1661.9 1341.6L1691.6 1325.8L1683.6 1320.2ZM1678.9 1353.5L1686.9 1359.1L1708.6 1337.7L1708.6 1337.7Z" fill="#307826"/><path d="M1608.6 1267.7L1621.6 1276.8L1616.9 1310.1L1603.9 1301.0ZM1633.6 1285.2L1646.6 1294.3L1641.9 1327.6L1628.9 1318.5ZM1658.6 1302.7L1671.6 1311.8L1666.9 1345.1L1653.9 1336.0ZM1683.6 1320.2L1696.6 1329.3L1691.4 1362.3L1678.9 1353.5ZM1708.6 1337.7L1708.6 1337.7L1691.4 1362.3L1691.4 1362.3Z" fill="#50c840" stroke="#3e9c32" stroke-width="1"/><path d="M1613.2 1276.4L1617.1 1297.4M1638.2 1293.9L1642.1 1314.9M1663.2 1311.4L1667.1 1332.4M1688.2 1328.9L1692.1 1349.9M1706.0 1341.4L1697.4 1353.7" stroke="#84d879" stroke-width="3.5" stroke-linecap="round" fill="none" opacity="0.8"/></g><g><path d="M1602.8 1238.6L1602.8 1238.6L1623.4 1217.5L1615.2 1213.4ZM1615.6 1244.9L1623.9 1248.9L1649.1 1230.2L1640.9 1226.1ZM1641.3 1257.6L1649.5 1261.6L1674.7 1242.8L1666.5 1238.8ZM1667.0 1270.2L1675.2 1274.3L1692.2 1251.4L1692.2 1251.4Z" fill="#1d6a1d"/><path d="M1615.2 1213.4L1628.5 1220.0L1629.0 1251.5L1615.6 1244.9ZM1640.9 1226.1L1654.2 1232.7L1654.7 1264.1L1641.3 1257.6ZM1666.5 1238.8L1679.9 1245.4L1679.8 1276.6L1667.0 1270.2ZM1692.2 1251.4L1692.2 1251.4L1679.8 1276.6L1679.8 1276.6Z" fill="#30b030" stroke="#258925" stroke-width="1"/><path d="M1620.7 1220.8L1627.3 1239.7M1646.3 1233.5L1653.0 1252.4M1672.0 1246.2L1678.6 1265.1M1690.3 1255.2L1684.1 1267.8" stroke="#6ec86e" stroke-width="3.3" stroke-linecap="round" fill="none" opacity="0.8"/></g><g><path d="M1383.1 1295.5L1383.1 1295.5L1407.8 1284.3L1402.9 1278.5ZM1390.9 1304.5L1395.9 1310.2L1423.3 1302.3L1418.4 1296.5ZM1406.4 1322.5L1411.4 1328.2L1433.9 1314.5L1433.9 1314.5Z" fill="#8b300a"/><path d="M1402.9 1278.5L1410.9 1287.9L1399.0 1313.8L1390.9 1304.5ZM1418.4 1296.5L1426.4 1305.9L1414.1 1331.5L1406.4 1322.5ZM1433.9 1314.5L1433.9 1314.5L1414.1 1331.5L1414.1 1331.5Z" fill="#e85010" stroke="#b53e0c" stroke-width="1"/><path d="M1404.3 1286.2L1402.2 1303.7M1419.8 1304.2L1417.7 1321.7M1430.9 1317.1L1421.0 1325.5" stroke="#ef8458" stroke-width="2.7" stroke-linecap="round" fill="none" opacity="0.8"/></g><g><path d="M1565.6 1180.4L1565.6 1180.4L1592.4 1166.8L1584.4 1159.6ZM1578.1 1191.7L1586.1 1198.9L1617.4 1189.3L1609.4 1182.1ZM1603.1 1214.2L1611.1 1221.4L1634.4 1204.6L1634.4 1204.6Z" fill="#733e0e"/><path d="M1584.4 1159.6L1597.4 1171.3L1591.1 1203.4L1578.1 1191.7ZM1609.4 1182.1L1622.4 1193.8L1615.6 1225.4L1603.1 1214.2ZM1634.4 1204.6L1634.4 1204.6L1615.6 1225.4L1615.6 1225.4Z" fill="#c06818" stroke="#965113" stroke-width="1"/><path d="M1588.7 1169.2L1591.8 1190.8M1613.7 1191.7L1616.8 1213.3M1631.6 1207.7L1622.2 1218.1" stroke="#d3955d" stroke-width="3.8" stroke-linecap="round" fill="none" opacity="0.8"/></g><g><path d="M1593.2 1252.2L1593.2 1252.2L1614.0 1231.8L1606.8 1227.8ZM1604.5 1258.5L1611.7 1262.5L1636.5 1244.3L1629.3 1240.3ZM1627.0 1271.0L1634.2 1275.0L1659.0 1256.8L1651.8 1252.8ZM1649.5 1283.5L1656.7 1287.5L1681.5 1269.3L1674.3 1265.3ZM1672.0 1296.0L1679.2 1300.0L1696.8 1277.8L1696.8 1277.8Z" fill="#2b6e2b"/><path d="M1606.8 1227.8L1618.5 1234.3L1616.2 1265.0L1604.5 1258.5ZM1629.3 1240.3L1641.0 1246.8L1638.7 1277.5L1627.0 1271.0ZM1651.8 1252.8L1663.5 1259.3L1661.2 1290.0L1649.5 1283.5ZM1674.3 1265.3L1686.0 1271.8L1683.2 1302.2L1672.0 1296.0ZM1696.8 1277.8L1696.8 1277.8L1683.2 1302.2L1683.2 1302.2Z" fill="#48b848" stroke="#389038" stroke-width="1"/><path d="M1611.2 1235.0L1615.6 1253.5M1633.7 1247.5L1638.1 1266.0M1656.2 1260.0L1660.6 1278.5M1678.7 1272.5L1683.1 1291.0M1694.8 1281.4L1688.0 1293.7" stroke="#7fcd7f" stroke-width="2.9" stroke-linecap="round" fill="none" opacity="0.8"/></g><g><path d="M1577.0 1311.5L1577.0 1311.5L1599.9 1293.3L1593.0 1288.5ZM1587.9 1319.0L1594.8 1323.8L1621.6 1308.3L1614.6 1303.5ZM1609.5 1334.0L1616.5 1338.8L1643.2 1323.3L1636.3 1318.5ZM1631.2 1349.0L1638.1 1353.8L1658.0 1333.5L1658.0 1333.5Z" fill="#3a7326"/><path d="M1593.0 1288.5L1604.2 1296.3L1599.1 1326.8L1587.9 1319.0ZM1614.6 1303.5L1625.9 1311.3L1620.8 1341.8L1609.5 1334.0ZM1636.3 1318.5L1647.6 1326.3L1642.0 1356.5L1631.2 1349.0ZM1658.0 1333.5L1658.0 1333.5L1642.0 1356.5L1642.0 1356.5Z" fill="#60c040" stroke="#4b9632" stroke-width="1"/><path d="M1596.8 1296.2L1599.6 1315.2M1618.4 1311.2L1621.3 1330.2M1640.1 1326.2L1643.0 1345.2M1655.6 1336.9L1647.6 1348.5" stroke="#90d379" stroke-width="3.0" stroke-linecap="round" fill="none" opacity="0.8"/></g><g><path d="M1549.8 1198.1L1549.8 1198.1L1576.6 1189.9L1570.2 1181.9ZM1559.8 1210.6L1566.2 1218.6L1596.6 1214.9L1590.2 1206.9ZM1579.8 1235.6L1586.2 1243.6L1610.2 1231.9L1610.2 1231.9Z" fill="#1d6e3e"/><path d="M1570.2 1181.9L1580.6 1194.9L1570.2 1223.6L1559.8 1210.6ZM1590.2 1206.9L1600.6 1219.9L1589.8 1248.1L1579.8 1235.6ZM1610.2 1231.9L1610.2 1231.9L1589.8 1248.1L1589.8 1248.1Z" fill="#30b868" stroke="#259051" stroke-width="1"/><path d="M1572.8 1191.5L1572.7 1212.1M1592.8 1216.5L1592.7 1237.1M1607.1 1234.3L1597.0 1242.4" stroke="#6ecd95" stroke-width="3.7" stroke-linecap="round" fill="none" opacity="0.8"/></g><g><path d="M1322.3 1220.9L1322.3 1220.9L1351.7 1205.5L1345.7 1199.1ZM1331.6 1230.9L1337.6 1237.3L1370.3 1225.5L1364.4 1219.1ZM1350.3 1250.9L1356.3 1257.3L1389.0 1245.5L1383.0 1239.1ZM1369.0 1270.9L1374.9 1277.3L1401.7 1259.1L1401.7 1259.1Z" fill="#8b0b07"/><path d="M1345.7 1199.1L1355.4 1209.5L1341.3 1241.3L1331.6 1230.9ZM1364.4 1219.1L1374.1 1229.5L1360.0 1261.3L1350.3 1250.9ZM1383.0 1239.1L1392.7 1249.5L1378.3 1280.9L1369.0 1270.9ZM1401.7 1259.1L1401.7 1259.1L1378.3 1280.9L1378.3 1280.9Z" fill="#e8120c" stroke="#b50e09" stroke-width="1"/><path d="M1347.5 1208.1L1345.2 1229.0M1366.2 1228.1L1363.8 1249.0M1384.9 1248.1L1382.5 1269.0M1398.2 1262.4L1386.5 1273.3" stroke="#ef5955" stroke-width="3.1" stroke-linecap="round" fill="none" opacity="0.8"/></g><g><path d="M1356.8 1094.8L1356.8 1094.8L1386.4 1094.0L1383.2 1085.2ZM1361.8 1108.5L1365.0 1117.3L1396.4 1121.5L1393.2 1112.7ZM1371.8 1136.0L1375.0 1144.8L1403.2 1140.2L1403.2 1140.2Z" fill="#8b0b07"/><path d="M1383.2 1085.2L1388.4 1099.5L1367.0 1122.8L1361.8 1108.5ZM1393.2 1112.7L1398.4 1127.0L1376.8 1149.8L1371.8 1136.0ZM1403.2 1140.2L1403.2 1140.2L1376.8 1149.8L1376.8 1149.8Z" fill="#e8120c" stroke="#b50e09" stroke-width="1"/><path d="M1382.1 1094.5L1373.9 1113.1M1392.1 1122.0L1383.9 1140.6M1399.2 1141.7L1386.1 1146.4" stroke="#ef5955" stroke-width="3.3" stroke-linecap="round" fill="none" opacity="0.8"/></g><g><path d="M1424.4 1132.0L1424.4 1132.0L1436.2 1097.7L1423.6 1098.0ZM1444.1 1131.5L1456.7 1131.2L1475.5 1096.7L1462.9 1097.0ZM1483.4 1130.5L1496.0 1130.2L1514.8 1095.7L1502.2 1096.0ZM1522.8 1129.5L1535.4 1129.2L1541.6 1095.0L1541.6 1095.0Z" fill="#8b0b07"/><path d="M1423.6 1098.0L1444.0 1097.5L1464.6 1131.0L1444.1 1131.5ZM1462.9 1097.0L1483.4 1096.5L1503.9 1130.0L1483.4 1130.5ZM1502.2 1096.0L1522.7 1095.5L1542.4 1129.0L1522.8 1129.5ZM1541.6 1095.0L1541.6 1095.0L1542.4 1129.0L1542.4 1129.0Z" fill="#e8120c" stroke="#b50e09" stroke-width="1"/><path d="M1434.9 1102.8L1455.0 1119.3M1474.3 1101.8L1494.4 1118.3M1513.6 1100.8L1533.7 1117.3M1541.7 1100.1L1542.1 1117.1" stroke="#ef5955" stroke-width="4.5" stroke-linecap="round" fill="none" opacity="0.8"/></g><g><path d="M1399.3 1111.8L1399.3 1111.8L1391.5 1077.2L1382.7 1082.2ZM1413.1 1104.1L1421.9 1099.1L1419.0 1061.7L1410.2 1066.7ZM1440.6 1088.6L1449.4 1083.6L1446.5 1046.2L1437.7 1051.2ZM1468.1 1073.1L1476.9 1068.1L1474.0 1030.7L1465.2 1035.7ZM1495.6 1057.6L1504.4 1052.6L1492.7 1020.2L1492.7 1020.2Z" fill="#8b0b07"/><path d="M1382.7 1082.2L1397.0 1074.1L1427.4 1096.0L1413.1 1104.1ZM1410.2 1066.7L1424.5 1058.6L1454.9 1080.5L1440.6 1088.6ZM1437.7 1051.2L1452.0 1043.1L1482.4 1065.0L1468.1 1073.1ZM1465.2 1035.7L1479.5 1027.6L1509.3 1049.8L1495.6 1057.6ZM1492.7 1020.2L1492.7 1020.2L1509.3 1049.8L1509.3 1049.8Z" fill="#e8120c" stroke="#b50e09" stroke-width="1"/><path d="M1393.0 1082.2L1415.1 1089.3M1420.5 1066.7L1442.6 1073.8M1448.0 1051.2L1470.1 1058.3M1475.5 1035.7L1497.6 1042.8M1495.2 1024.6L1503.5 1039.4" stroke="#ef5955" stroke-width="3.6" stroke-linecap="round" fill="none" opacity="0.8"/></g><g><path d="M1502.5 1054.2L1502.5 1054.2L1529.2 1070.6L1531.5 1061.8ZM1498.9 1067.9L1496.6 1076.7L1522.0 1098.0L1524.3 1089.2ZM1491.7 1095.3L1489.4 1104.1L1514.8 1125.4L1517.1 1116.6ZM1484.5 1122.7L1482.2 1131.5L1507.6 1152.8L1509.9 1144.0ZM1477.3 1150.1L1475.0 1158.9L1500.4 1180.2L1502.7 1171.4ZM1470.1 1177.5L1467.8 1186.3L1495.5 1198.8L1495.5 1198.8Z" fill="#902808"/><path d="M1531.5 1061.8L1527.8 1076.1L1495.1 1082.1L1498.9 1067.9ZM1524.3 1089.2L1520.6 1103.5L1487.9 1109.5L1491.7 1095.3ZM1517.1 1116.6L1513.4 1130.9L1480.7 1136.9L1484.5 1122.7ZM1509.9 1144.0L1506.2 1158.3L1473.5 1164.3L1477.3 1150.1ZM1502.7 1171.4L1499.0 1185.7L1466.5 1191.2L1470.1 1177.5ZM1495.5 1198.8L1495.5 1198.8L1466.5 1191.2L1466.5 1191.2Z" fill="#f0420e" stroke="#bb330b" stroke-width="1"/><path d="M1525.1 1068.5L1507.0 1078.4M1517.9 1095.9L1499.8 1105.8M1510.7 1123.3L1492.6 1133.2M1503.5 1150.7L1485.4 1160.6M1496.3 1178.1L1478.2 1188.0M1491.2 1197.7L1476.6 1193.9" stroke="#f47b56" stroke-width="3.2" stroke-linecap="round" fill="none" opacity="0.8"/></g><g><path d="M1386.6 1219.7L1386.6 1219.7L1378.7 1184.9L1369.4 1190.3ZM1401.1 1211.2L1410.4 1205.7L1407.7 1167.9L1398.4 1173.3ZM1430.1 1194.2L1439.4 1188.7L1436.7 1150.9L1427.4 1156.3ZM1459.1 1177.2L1468.4 1171.7L1456.4 1139.3L1456.4 1139.3Z" fill="#8b0b07"/><path d="M1369.4 1190.3L1384.5 1181.5L1416.2 1202.3L1401.1 1211.2ZM1398.4 1173.3L1413.5 1164.5L1445.2 1185.3L1430.1 1194.2ZM1427.4 1156.3L1442.5 1147.5L1473.6 1168.7L1459.1 1177.2ZM1456.4 1139.3L1456.4 1139.3L1473.6 1168.7L1473.6 1168.7Z" fill="#e8120c" stroke="#b50e09" stroke-width="1"/><path d="M1380.3 1189.9L1403.4 1196.0M1409.3 1172.9L1432.4 1179.0M1438.3 1155.9L1461.4 1162.0M1459.0 1143.7L1467.6 1158.4" stroke="#ef5955" stroke-width="3.8" stroke-linecap="round" fill="none" opacity="0.8"/></g><g><path d="M1387.7 1242.2L1387.7 1242.2L1408.3 1213.1L1398.3 1209.8ZM1403.5 1247.3L1413.6 1250.6L1439.8 1223.4L1429.8 1220.1ZM1435.0 1257.5L1445.1 1260.8L1471.3 1233.6L1461.3 1230.3ZM1466.5 1267.8L1476.6 1271.1L1502.8 1243.9L1492.8 1240.6ZM1498.0 1278.0L1508.1 1281.3L1524.3 1250.8L1524.3 1250.8Z" fill="#8b0b07"/><path d="M1398.3 1209.8L1414.6 1215.2L1419.9 1252.6L1403.5 1247.3ZM1429.8 1220.1L1446.1 1225.4L1451.4 1262.9L1435.0 1257.5ZM1461.3 1230.3L1477.6 1235.7L1482.9 1273.1L1466.5 1267.8ZM1492.8 1240.6L1509.1 1245.9L1513.7 1283.2L1498.0 1278.0ZM1524.3 1250.8L1524.3 1250.8L1513.7 1283.2L1513.7 1283.2Z" fill="#e8120c" stroke="#b50e09" stroke-width="1"/><path d="M1405.7 1217.6L1416.2 1238.9M1437.2 1227.9L1447.7 1249.2M1468.7 1238.1L1479.2 1259.4M1500.2 1248.4L1510.7 1269.7M1522.7 1255.7L1517.4 1271.8" stroke="#ef5955" stroke-width="3.8" stroke-linecap="round" fill="none" opacity="0.8"/></g><path d="M1136.0 1092.6A40 51 0 0 1 1175.7 1098.8M1186.2 1114.0A40 51 0 0 1 1189.9 1154.4M1182.2 1172.3A40 51 0 0 1 1145.3 1189.9M1129.8 1182.3A40 51 0 0 1 1123.8 1102.8" fill="none" stroke="#ff0a0a" stroke-width="4.8"/><path d="M1033.6 1226.1A42 51 0 0 1 1075.3 1232.3M1086.4 1247.5A42 51 0 0 1 1090.2 1287.9M1082.2 1305.8A42 51 0 0 1 1043.4 1323.4M1027.1 1315.8A42 51 0 0 1 1020.8 1236.3" fill="none" stroke="#ff0a0a" stroke-width="4.8"/><path d="M1239.2 1263.1A42 51 0 0 1 1280.9 1269.3M1292.0 1284.5A42 51 0 0 1 1295.8 1324.9M1287.8 1342.8A42 51 0 0 1 1249.0 1360.4M1232.7 1352.8A42 51 0 0 1 1226.4 1273.3" fill="none" stroke="#ff0a0a" stroke-width="4.8"/><path d="M1377.0 1292.1A41 51 0 0 1 1417.7 1298.3M1428.5 1313.5A41 51 0 0 1 1432.2 1353.9M1424.4 1371.8A41 51 0 0 1 1386.6 1389.4M1370.7 1381.8A41 51 0 0 1 1364.5 1302.3" fill="none" stroke="#ff0a0a" stroke-width="4.8"/><path d="M1603.5 1074.9A41 52 0 0 1 1644.2 1081.3M1655.0 1096.8A41 52 0 0 1 1658.7 1138.0M1650.9 1156.2A41 52 0 0 1 1613.1 1174.2M1597.2 1166.4A41 52 0 0 1 1591.0 1085.4" fill="none" stroke="#ff0a0a" stroke-width="4.8"/><path d="M1675.5 1264.7A41 51 0 0 1 1716.2 1270.9M1727.0 1286.1A41 51 0 0 1 1730.7 1326.5M1722.9 1344.4A41 51 0 0 1 1685.1 1362.0M1669.2 1354.4A41 51 0 0 1 1663.0 1274.9" fill="none" stroke="#ff0a0a" stroke-width="4.8"/></g>
<rect x="999.5" y="577.9" width="768.6" height="855.6" fill="none" stroke="#000" stroke-width="2.8"/><line x1="999" y1="997" x2="1768" y2="997" stroke="#000" stroke-width="2.8"/><g>
<polygon points="161.9,1101.5 281.9,1101.5 284.9,1174.9 257.6,1201.6 257.6,1228.3 246.8,1255.9 197.4,1255.9 161.9,1231.8" fill="#66bd45"/>
<polygon points="201.0,1108.2 274.4,1108.2 274.8,1173.0 264.6,1184.8 183.6,1184.8 183.6,1138.4 201.0,1118.6" fill="#3a55a8"/>
<polygon points="365.3,1196.7 380.7,1181.3 380.7,1257.9 365.3,1247.0" fill="#66bd45"/>
<polygon points="161.9,1306.2 175.7,1313.1 211.2,1312.7 219.1,1308.1 229.0,1299.3 234.9,1296.3 242.8,1300.0 262.0,1320.0 266.5,1339.7 161.9,1339.7" fill="#66bd45"/>
<polygon points="183.2,1321.0 213.2,1320.6 233.0,1311.1 242.8,1318.0 248.8,1328.9 183.2,1328.9" fill="#3a55a8"/>
<polygon points="161.9,1427.6 256.7,1427.6 281.3,1442.4 161.9,1442.4" fill="#66bd45"/>
<line x1="324.2" y1="1101.9" x2="324.2" y2="1442.4" stroke="#707070" stroke-width="1.6"/>
<line x1="161.9" y1="1271.7" x2="486.8" y2="1271.7" stroke="#707070" stroke-width="1.6"/>
<polygon points="499.5,1101.5 619.5,1101.5 622.5,1174.9 595.2,1201.6 595.2,1228.3 584.4,1255.9 535.0,1255.9 499.5,1231.8" fill="#66bd45"/>
<polygon points="538.6,1108.2 612.0,1108.2 612.4,1173.0 602.2,1184.8 521.2,1184.8 521.2,1138.4 538.6,1118.6" fill="#3a55a8"/>
<polygon points="702.9,1196.7 718.3,1181.3 718.3,1257.9 702.9,1247.0" fill="#66bd45"/>
<polygon points="499.5,1306.2 513.3,1313.1 548.8,1312.7 556.7,1308.1 566.6,1299.3 572.5,1296.3 580.4,1300.0 599.6,1320.0 604.1,1339.7 499.5,1339.7" fill="#66bd45"/>
<polygon points="520.8,1321.0 550.8,1320.6 570.6,1311.1 580.4,1318.0 586.4,1328.9 520.8,1328.9" fill="#3a55a8"/>
<polygon points="499.5,1427.6 594.3,1427.6 618.9,1442.4 499.5,1442.4" fill="#66bd45"/>
<line x1="661.8" y1="1101.9" x2="661.8" y2="1442.4" stroke="#707070" stroke-width="1.6"/>
<line x1="499.5" y1="1271.7" x2="824.4" y2="1271.7" stroke="#707070" stroke-width="1.6"/>
<g fill="#f4e400" stroke="#141400" stroke-width="1.2"><circle cx="264.8" cy="1116.6" r="2.5"/><circle cx="280.0" cy="1145.2" r="2.5"/><circle cx="284.6" cy="1133.7" r="2.5"/><circle cx="276.4" cy="1142.7" r="2.5"/><circle cx="271.1" cy="1109.9" r="2.5"/><circle cx="271.5" cy="1124.1" r="2.5"/><circle cx="269.2" cy="1155.3" r="2.5"/><circle cx="273.4" cy="1110.9" r="2.5"/><circle cx="272.0" cy="1140.7" r="2.5"/><circle cx="257.7" cy="1148.1" r="2.5"/><circle cx="270.2" cy="1119.2" r="2.5"/><circle cx="281.5" cy="1135.0" r="2.5"/><circle cx="264.8" cy="1131.6" r="2.5"/><circle cx="265.0" cy="1116.8" r="2.5"/><circle cx="271.6" cy="1145.4" r="2.5"/><circle cx="271.7" cy="1151.7" r="2.5"/><circle cx="258.7" cy="1128.2" r="2.5"/><circle cx="260.6" cy="1139.8" r="2.5"/><circle cx="272.6" cy="1140.0" r="2.5"/><circle cx="264.8" cy="1148.3" r="2.5"/><circle cx="271.9" cy="1133.5" r="2.5"/><circle cx="274.9" cy="1109.8" r="2.5"/><circle cx="259.8" cy="1138.5" r="2.5"/><circle cx="264.6" cy="1151.7" r="2.5"/><circle cx="283.6" cy="1137.0" r="2.5"/><circle cx="285.0" cy="1132.8" r="2.5"/><circle cx="280.9" cy="1144.1" r="2.5"/><circle cx="262.7" cy="1145.4" r="2.5"/><circle cx="286.5" cy="1139.2" r="2.5"/><circle cx="272.5" cy="1133.0" r="2.5"/><circle cx="280.3" cy="1126.2" r="2.5"/><circle cx="270.3" cy="1116.7" r="2.5"/><circle cx="272.1" cy="1135.0" r="2.5"/><circle cx="268.7" cy="1121.3" r="2.5"/><circle cx="262.6" cy="1119.7" r="2.5"/><circle cx="272.2" cy="1142.0" r="2.5"/><circle cx="267.6" cy="1145.0" r="2.5"/><circle cx="286.3" cy="1123.3" r="2.5"/><circle cx="278.0" cy="1148.9" r="2.5"/><circle cx="285.3" cy="1138.1" r="2.5"/><circle cx="272.5" cy="1125.6" r="2.5"/><circle cx="278.6" cy="1123.4" r="2.5"/><circle cx="268.2" cy="1115.6" r="2.5"/><circle cx="284.6" cy="1126.5" r="2.5"/><circle cx="285.0" cy="1140.1" r="2.5"/><circle cx="254.5" cy="1137.0" r="2.5"/><circle cx="279.4" cy="1126.0" r="2.5"/><circle cx="280.8" cy="1111.2" r="2.5"/><circle cx="284.7" cy="1137.3" r="2.5"/><circle cx="277.5" cy="1123.6" r="2.5"/><circle cx="261.9" cy="1153.5" r="2.5"/><circle cx="278.4" cy="1147.7" r="2.5"/><circle cx="259.1" cy="1144.3" r="2.5"/><circle cx="272.2" cy="1136.3" r="2.5"/><circle cx="260.1" cy="1131.3" r="2.5"/><circle cx="260.1" cy="1144.4" r="2.5"/><circle cx="260.2" cy="1141.0" r="2.5"/><circle cx="285.4" cy="1137.0" r="2.5"/><circle cx="264.8" cy="1120.5" r="2.5"/><circle cx="273.3" cy="1128.5" r="2.5"/><circle cx="285.1" cy="1130.3" r="2.5"/><circle cx="266.0" cy="1134.0" r="2.5"/><circle cx="288.1" cy="1129.1" r="2.5"/><circle cx="259.9" cy="1144.0" r="2.5"/><circle cx="257.5" cy="1133.4" r="2.5"/><circle cx="271.5" cy="1116.8" r="2.5"/><circle cx="287.1" cy="1138.0" r="2.5"/><circle cx="285.9" cy="1126.1" r="2.5"/><circle cx="269.0" cy="1144.3" r="2.5"/><circle cx="282.1" cy="1138.4" r="2.5"/><circle cx="257.5" cy="1129.1" r="2.5"/><circle cx="279.6" cy="1115.5" r="2.5"/><circle cx="272.0" cy="1133.8" r="2.5"/><circle cx="267.5" cy="1121.5" r="2.5"/><circle cx="266.9" cy="1143.3" r="2.5"/><circle cx="270.4" cy="1132.5" r="2.5"/><circle cx="286.0" cy="1140.9" r="2.5"/><circle cx="270.4" cy="1148.8" r="2.5"/><circle cx="284.1" cy="1112.6" r="2.5"/><circle cx="278.4" cy="1132.3" r="2.5"/><circle cx="272.3" cy="1121.1" r="2.5"/><circle cx="267.4" cy="1140.7" r="2.5"/><circle cx="270.1" cy="1135.5" r="2.5"/><circle cx="280.3" cy="1137.0" r="2.5"/><circle cx="272.9" cy="1132.4" r="2.5"/><circle cx="255.8" cy="1138.8" r="2.5"/><circle cx="255.9" cy="1130.0" r="2.5"/><circle cx="260.8" cy="1140.9" r="2.5"/><circle cx="259.3" cy="1145.9" r="2.5"/><circle cx="257.1" cy="1141.2" r="2.5"/><circle cx="267.4" cy="1133.8" r="2.5"/><circle cx="270.3" cy="1133.1" r="2.5"/><circle cx="273.4" cy="1119.4" r="2.5"/><circle cx="275.2" cy="1153.8" r="2.5"/><circle cx="282.5" cy="1119.7" r="2.5"/><circle cx="267.8" cy="1150.2" r="2.5"/><circle cx="282.1" cy="1129.3" r="2.5"/><circle cx="271.4" cy="1117.1" r="2.5"/><circle cx="277.2" cy="1122.3" r="2.5"/><circle cx="279.3" cy="1117.4" r="2.5"/><circle cx="269.7" cy="1142.2" r="2.5"/><circle cx="268.9" cy="1126.4" r="2.5"/><circle cx="269.1" cy="1135.1" r="2.5"/><circle cx="264.5" cy="1148.6" r="2.5"/><circle cx="269.7" cy="1141.7" r="2.5"/><circle cx="276.8" cy="1118.0" r="2.5"/><circle cx="265.9" cy="1128.0" r="2.5"/><circle cx="255.9" cy="1126.8" r="2.5"/><circle cx="278.2" cy="1124.8" r="2.5"/><circle cx="278.3" cy="1110.4" r="2.5"/><circle cx="264.2" cy="1129.5" r="2.5"/><circle cx="280.5" cy="1129.0" r="2.5"/><circle cx="272.9" cy="1131.3" r="2.5"/><circle cx="273.7" cy="1140.9" r="2.5"/><circle cx="281.9" cy="1113.4" r="2.5"/><circle cx="270.6" cy="1134.6" r="2.5"/><circle cx="273.5" cy="1127.0" r="2.5"/><circle cx="261.7" cy="1151.5" r="2.5"/><circle cx="279.4" cy="1136.9" r="2.5"/><circle cx="274.7" cy="1135.1" r="2.5"/><circle cx="269.9" cy="1151.0" r="2.5"/><circle cx="266.4" cy="1145.4" r="2.5"/><circle cx="263.6" cy="1123.9" r="2.5"/><circle cx="267.8" cy="1143.3" r="2.5"/><circle cx="288.6" cy="1127.8" r="2.5"/><circle cx="261.5" cy="1137.9" r="2.5"/><circle cx="263.0" cy="1125.0" r="2.5"/><circle cx="254.8" cy="1136.6" r="2.5"/><circle cx="280.8" cy="1130.8" r="2.5"/><circle cx="276.2" cy="1147.4" r="2.5"/><circle cx="280.9" cy="1119.3" r="2.5"/><circle cx="266.2" cy="1147.5" r="2.5"/><circle cx="274.6" cy="1119.9" r="2.5"/><circle cx="282.6" cy="1137.0" r="2.5"/><circle cx="274.9" cy="1120.9" r="2.5"/><circle cx="269.2" cy="1133.5" r="2.5"/><circle cx="263.8" cy="1145.7" r="2.5"/><circle cx="281.5" cy="1142.7" r="2.5"/><circle cx="279.4" cy="1110.3" r="2.5"/><circle cx="258.1" cy="1124.5" r="2.5"/><circle cx="258.6" cy="1128.9" r="2.5"/><circle cx="257.6" cy="1119.5" r="2.5"/><circle cx="267.1" cy="1114.1" r="2.5"/><circle cx="267.5" cy="1121.4" r="2.5"/><circle cx="274.3" cy="1118.5" r="2.5"/><circle cx="268.3" cy="1113.3" r="2.5"/><circle cx="264.7" cy="1108.4" r="2.5"/><circle cx="251.3" cy="1119.6" r="2.5"/><circle cx="265.2" cy="1109.4" r="2.5"/><circle cx="272.5" cy="1111.3" r="2.5"/><circle cx="272.9" cy="1114.9" r="2.5"/><circle cx="264.3" cy="1120.2" r="2.5"/><circle cx="269.1" cy="1120.3" r="2.5"/><circle cx="265.4" cy="1129.9" r="2.5"/><circle cx="272.8" cy="1127.4" r="2.5"/><circle cx="273.4" cy="1124.6" r="2.5"/><circle cx="253.1" cy="1130.2" r="2.5"/><circle cx="258.8" cy="1126.7" r="2.5"/><circle cx="269.8" cy="1111.2" r="2.5"/><circle cx="269.3" cy="1128.9" r="2.5"/><circle cx="253.5" cy="1120.7" r="2.5"/><circle cx="268.7" cy="1117.1" r="2.5"/><circle cx="258.5" cy="1108.8" r="2.5"/><circle cx="255.2" cy="1118.7" r="2.5"/><circle cx="259.0" cy="1126.1" r="2.5"/><circle cx="262.0" cy="1132.3" r="2.5"/><circle cx="262.6" cy="1131.5" r="2.5"/><circle cx="268.7" cy="1130.5" r="2.5"/><circle cx="274.5" cy="1124.2" r="2.5"/><circle cx="258.4" cy="1114.6" r="2.5"/><circle cx="226.6" cy="1120.4" r="2.5"/><circle cx="211.1" cy="1147.7" r="2.5"/><circle cx="222.8" cy="1176.6" r="2.5"/><circle cx="255.3" cy="1145.2" r="2.5"/><circle cx="248.2" cy="1125.0" r="2.5"/><circle cx="231.9" cy="1169.4" r="2.5"/><circle cx="266.8" cy="1119.3" r="2.5"/><circle cx="223.7" cy="1166.8" r="2.5"/><circle cx="221.2" cy="1133.7" r="2.5"/><circle cx="207.2" cy="1171.5" r="2.5"/><circle cx="208.2" cy="1159.3" r="2.5"/><circle cx="206.8" cy="1128.1" r="2.5"/><circle cx="268.5" cy="1117.1" r="2.5"/><circle cx="258.0" cy="1124.5" r="2.5"/><circle cx="260.9" cy="1133.3" r="2.5"/><circle cx="239.9" cy="1169.8" r="2.5"/><circle cx="206.6" cy="1136.8" r="2.5"/><circle cx="266.9" cy="1128.1" r="2.5"/><circle cx="242.0" cy="1177.2" r="2.5"/><circle cx="252.1" cy="1177.7" r="2.5"/><circle cx="241.0" cy="1159.0" r="2.5"/><circle cx="204.8" cy="1179.7" r="2.5"/><circle cx="231.1" cy="1148.7" r="2.5"/><circle cx="239.4" cy="1131.9" r="2.5"/><circle cx="270.9" cy="1158.0" r="2.5"/><circle cx="239.3" cy="1119.6" r="2.5"/><circle cx="254.1" cy="1156.7" r="2.5"/><circle cx="270.2" cy="1151.3" r="2.5"/><circle cx="224.4" cy="1155.6" r="2.5"/><circle cx="211.0" cy="1125.3" r="2.5"/><circle cx="242.5" cy="1156.9" r="2.5"/><circle cx="271.5" cy="1110.8" r="2.5"/><circle cx="264.8" cy="1138.8" r="2.5"/><circle cx="202.3" cy="1138.2" r="2.5"/><circle cx="244.3" cy="1136.0" r="2.5"/><circle cx="226.0" cy="1170.0" r="2.5"/><circle cx="231.4" cy="1180.8" r="2.5"/><circle cx="219.1" cy="1115.5" r="2.5"/><circle cx="235.8" cy="1163.4" r="2.5"/><circle cx="225.9" cy="1126.6" r="2.5"/><circle cx="234.9" cy="1171.1" r="2.5"/><circle cx="236.1" cy="1154.2" r="2.5"/><circle cx="219.7" cy="1158.3" r="2.5"/><circle cx="252.9" cy="1114.2" r="2.5"/><circle cx="272.7" cy="1141.3" r="2.5"/><circle cx="225.4" cy="1146.1" r="2.5"/><circle cx="250.4" cy="1144.3" r="2.5"/><circle cx="238.9" cy="1131.0" r="2.5"/><circle cx="193.1" cy="1180.7" r="2.5"/><circle cx="176.6" cy="1108.7" r="2.5"/><circle cx="249.3" cy="1123.9" r="2.5"/><circle cx="238.7" cy="1243.6" r="2.5"/><circle cx="264.4" cy="1118.0" r="2.5"/><circle cx="219.2" cy="1186.6" r="2.5"/><circle cx="204.4" cy="1158.3" r="2.5"/><circle cx="279.6" cy="1125.8" r="2.5"/><circle cx="184.5" cy="1158.6" r="2.5"/><circle cx="226.5" cy="1241.1" r="2.5"/><circle cx="168.9" cy="1147.7" r="2.5"/><circle cx="280.2" cy="1168.5" r="2.5"/><circle cx="249.2" cy="1109.3" r="2.5"/><circle cx="230.1" cy="1155.3" r="2.5"/><circle cx="229.7" cy="1148.9" r="2.5"/><circle cx="243.7" cy="1175.5" r="2.5"/><circle cx="222.5" cy="1177.3" r="2.5"/><circle cx="204.9" cy="1180.2" r="2.5"/><circle cx="250.2" cy="1199.2" r="2.5"/><circle cx="178.5" cy="1203.6" r="2.5"/><circle cx="186.4" cy="1201.7" r="2.5"/><circle cx="252.9" cy="1200.7" r="2.5"/><circle cx="259.2" cy="1164.6" r="2.5"/><circle cx="227.1" cy="1148.3" r="2.5"/><circle cx="179.8" cy="1164.8" r="2.5"/><circle cx="176.5" cy="1177.0" r="2.5"/><circle cx="194.2" cy="1125.4" r="2.5"/><circle cx="255.3" cy="1149.8" r="2.5"/><circle cx="209.4" cy="1146.6" r="2.5"/><circle cx="179.3" cy="1155.8" r="2.5"/><circle cx="230.1" cy="1103.7" r="2.5"/><circle cx="232.3" cy="1134.3" r="2.5"/><circle cx="182.2" cy="1125.2" r="2.5"/><circle cx="197.5" cy="1195.5" r="2.5"/><circle cx="201.8" cy="1265.1" r="2.5"/><circle cx="217.3" cy="1255.6" r="2.5"/><circle cx="247.4" cy="1273.0" r="2.5"/><circle cx="198.2" cy="1259.0" r="2.5"/><circle cx="221.3" cy="1255.4" r="2.5"/><circle cx="208.9" cy="1273.8" r="2.5"/><circle cx="223.5" cy="1273.1" r="2.5"/><circle cx="207.6" cy="1264.4" r="2.5"/><circle cx="220.5" cy="1268.8" r="2.5"/><circle cx="199.2" cy="1246.1" r="2.5"/><circle cx="237.7" cy="1271.7" r="2.5"/><circle cx="187.9" cy="1271.3" r="2.5"/><circle cx="216.1" cy="1247.3" r="2.5"/><circle cx="201.3" cy="1250.1" r="2.5"/><circle cx="219.0" cy="1274.9" r="2.5"/><circle cx="210.7" cy="1265.7" r="2.5"/><circle cx="204.5" cy="1249.0" r="2.5"/><circle cx="248.6" cy="1271.6" r="2.5"/><circle cx="191.4" cy="1252.5" r="2.5"/><circle cx="220.3" cy="1267.4" r="2.5"/><circle cx="205.0" cy="1246.5" r="2.5"/><circle cx="202.5" cy="1261.9" r="2.5"/><circle cx="241.0" cy="1245.6" r="2.5"/><circle cx="231.3" cy="1263.2" r="2.5"/><circle cx="206.5" cy="1259.0" r="2.5"/><circle cx="187.6" cy="1259.7" r="2.5"/><circle cx="235.0" cy="1254.4" r="2.5"/><circle cx="221.5" cy="1265.2" r="2.5"/><circle cx="195.3" cy="1288.4" r="2.5"/><circle cx="203.1" cy="1284.7" r="2.5"/><circle cx="216.9" cy="1280.9" r="2.5"/><circle cx="213.1" cy="1294.5" r="2.5"/><circle cx="199.7" cy="1280.7" r="2.5"/><circle cx="228.9" cy="1297.1" r="2.5"/><circle cx="205.3" cy="1297.0" r="2.5"/><circle cx="200.2" cy="1284.0" r="2.5"/><circle cx="251.7" cy="1314.0" r="2.5"/><circle cx="245.1" cy="1302.7" r="2.5"/><circle cx="285.9" cy="1293.6" r="2.5"/><circle cx="264.1" cy="1326.0" r="2.5"/><circle cx="295.7" cy="1311.9" r="2.5"/><circle cx="242.5" cy="1266.2" r="2.5"/><circle cx="245.6" cy="1277.5" r="2.5"/><circle cx="284.7" cy="1341.0" r="2.5"/><circle cx="241.2" cy="1309.1" r="2.5"/><circle cx="262.8" cy="1316.7" r="2.5"/><circle cx="234.0" cy="1274.2" r="2.5"/><circle cx="282.4" cy="1290.9" r="2.5"/><circle cx="261.3" cy="1324.6" r="2.5"/><circle cx="232.0" cy="1267.2" r="2.5"/><circle cx="262.1" cy="1314.4" r="2.5"/><circle cx="249.8" cy="1302.4" r="2.5"/><circle cx="280.2" cy="1333.1" r="2.5"/><circle cx="241.5" cy="1298.9" r="2.5"/><circle cx="279.1" cy="1285.1" r="2.5"/><circle cx="270.4" cy="1280.7" r="2.5"/><circle cx="270.8" cy="1300.1" r="2.5"/><circle cx="256.4" cy="1268.3" r="2.5"/><circle cx="253.9" cy="1326.3" r="2.5"/><circle cx="285.3" cy="1338.0" r="2.5"/><circle cx="263.6" cy="1302.0" r="2.5"/><circle cx="260.6" cy="1305.7" r="2.5"/><circle cx="288.7" cy="1306.2" r="2.5"/><circle cx="266.8" cy="1325.6" r="2.5"/><circle cx="248.2" cy="1259.5" r="2.5"/><circle cx="261.3" cy="1298.6" r="2.5"/><circle cx="277.0" cy="1276.0" r="2.5"/><circle cx="244.4" cy="1277.7" r="2.5"/><circle cx="277.9" cy="1295.0" r="2.5"/><circle cx="272.6" cy="1283.9" r="2.5"/><circle cx="254.0" cy="1258.4" r="2.5"/><circle cx="283.8" cy="1297.5" r="2.5"/><circle cx="263.8" cy="1298.3" r="2.5"/><circle cx="241.0" cy="1264.6" r="2.5"/><circle cx="264.7" cy="1295.7" r="2.5"/><circle cx="277.9" cy="1320.6" r="2.5"/><circle cx="290.6" cy="1310.8" r="2.5"/><circle cx="249.9" cy="1269.3" r="2.5"/><circle cx="245.5" cy="1309.9" r="2.5"/><circle cx="243.0" cy="1280.3" r="2.5"/><circle cx="275.7" cy="1327.8" r="2.5"/><circle cx="281.7" cy="1287.9" r="2.5"/><circle cx="259.6" cy="1268.9" r="2.5"/><circle cx="282.4" cy="1337.3" r="2.5"/><circle cx="268.7" cy="1282.8" r="2.5"/><circle cx="250.6" cy="1283.7" r="2.5"/><circle cx="261.5" cy="1314.5" r="2.5"/><circle cx="277.7" cy="1323.1" r="2.5"/><circle cx="280.9" cy="1319.4" r="2.5"/><circle cx="228.0" cy="1271.6" r="2.5"/><circle cx="275.8" cy="1290.5" r="2.5"/><circle cx="284.9" cy="1329.2" r="2.5"/><circle cx="229.7" cy="1277.1" r="2.5"/><circle cx="275.5" cy="1296.7" r="2.5"/><circle cx="288.8" cy="1333.5" r="2.5"/><circle cx="284.2" cy="1317.2" r="2.5"/><circle cx="243.8" cy="1290.2" r="2.5"/><circle cx="231.3" cy="1288.5" r="2.5"/><circle cx="280.9" cy="1281.7" r="2.5"/><circle cx="269.7" cy="1289.4" r="2.5"/><circle cx="251.2" cy="1289.7" r="2.5"/><circle cx="283.0" cy="1329.5" r="2.5"/><circle cx="241.5" cy="1278.1" r="2.5"/><circle cx="281.4" cy="1318.8" r="2.5"/><circle cx="251.9" cy="1277.4" r="2.5"/><circle cx="277.2" cy="1285.5" r="2.5"/><circle cx="259.6" cy="1309.3" r="2.5"/><circle cx="250.9" cy="1282.7" r="2.5"/><circle cx="250.3" cy="1303.1" r="2.5"/><circle cx="283.2" cy="1298.4" r="2.5"/><circle cx="259.2" cy="1280.1" r="2.5"/><circle cx="266.2" cy="1297.4" r="2.5"/><circle cx="284.0" cy="1338.3" r="2.5"/><circle cx="284.8" cy="1295.9" r="2.5"/><circle cx="279.2" cy="1295.3" r="2.5"/><circle cx="294.0" cy="1321.8" r="2.5"/><circle cx="281.6" cy="1316.5" r="2.5"/><circle cx="278.1" cy="1334.3" r="2.5"/><circle cx="249.3" cy="1311.6" r="2.5"/><circle cx="241.1" cy="1292.7" r="2.5"/><circle cx="268.9" cy="1268.8" r="2.5"/><circle cx="262.0" cy="1301.7" r="2.5"/><circle cx="290.5" cy="1327.9" r="2.5"/><circle cx="271.7" cy="1269.1" r="2.5"/><circle cx="258.1" cy="1285.5" r="2.5"/><circle cx="270.4" cy="1320.3" r="2.5"/><circle cx="272.6" cy="1335.5" r="2.5"/><circle cx="239.8" cy="1297.2" r="2.5"/><circle cx="284.7" cy="1331.6" r="2.5"/><circle cx="284.6" cy="1309.1" r="2.5"/><circle cx="292.9" cy="1315.9" r="2.5"/><circle cx="263.9" cy="1273.6" r="2.5"/><circle cx="275.9" cy="1340.1" r="2.5"/><circle cx="233.2" cy="1289.3" r="2.5"/><circle cx="286.9" cy="1310.1" r="2.5"/><circle cx="267.5" cy="1300.3" r="2.5"/><circle cx="266.6" cy="1329.2" r="2.5"/><circle cx="267.7" cy="1310.4" r="2.5"/><circle cx="270.5" cy="1272.8" r="2.5"/><circle cx="257.7" cy="1324.5" r="2.5"/><circle cx="258.4" cy="1297.9" r="2.5"/><circle cx="280.2" cy="1316.3" r="2.5"/><circle cx="259.8" cy="1323.9" r="2.5"/><circle cx="245.5" cy="1305.7" r="2.5"/><circle cx="269.4" cy="1331.1" r="2.5"/><circle cx="253.1" cy="1264.2" r="2.5"/><circle cx="266.9" cy="1278.4" r="2.5"/><circle cx="293.8" cy="1337.7" r="2.5"/><circle cx="244.6" cy="1266.8" r="2.5"/><circle cx="266.6" cy="1306.0" r="2.5"/><circle cx="258.1" cy="1321.4" r="2.5"/><circle cx="236.9" cy="1279.7" r="2.5"/><circle cx="270.4" cy="1311.4" r="2.5"/><circle cx="277.9" cy="1283.8" r="2.5"/><circle cx="271.6" cy="1289.1" r="2.5"/><circle cx="271.1" cy="1316.3" r="2.5"/><circle cx="260.8" cy="1302.1" r="2.5"/><circle cx="273.0" cy="1329.8" r="2.5"/><circle cx="280.9" cy="1288.1" r="2.5"/><circle cx="280.0" cy="1318.2" r="2.5"/><circle cx="254.9" cy="1309.2" r="2.5"/><circle cx="297.0" cy="1324.8" r="2.5"/><circle cx="290.1" cy="1306.7" r="2.5"/><circle cx="257.6" cy="1283.9" r="2.5"/><circle cx="276.2" cy="1275.7" r="2.5"/><circle cx="249.5" cy="1257.9" r="2.5"/><circle cx="254.4" cy="1308.8" r="2.5"/><circle cx="264.7" cy="1304.8" r="2.5"/><circle cx="285.1" cy="1287.7" r="2.5"/><circle cx="250.2" cy="1287.4" r="2.5"/><circle cx="284.3" cy="1328.4" r="2.5"/><circle cx="270.3" cy="1341.9" r="2.5"/><circle cx="229.0" cy="1284.5" r="2.5"/><circle cx="284.1" cy="1334.0" r="2.5"/><circle cx="294.1" cy="1322.0" r="2.5"/><circle cx="233.0" cy="1274.9" r="2.5"/><circle cx="288.9" cy="1341.7" r="2.5"/><circle cx="281.2" cy="1324.5" r="2.5"/><circle cx="286.8" cy="1326.9" r="2.5"/><circle cx="276.0" cy="1331.7" r="2.5"/><circle cx="273.4" cy="1312.3" r="2.5"/><circle cx="271.7" cy="1314.9" r="2.5"/><circle cx="250.8" cy="1302.4" r="2.5"/><circle cx="248.9" cy="1258.9" r="2.5"/><circle cx="267.8" cy="1311.1" r="2.5"/><circle cx="297.4" cy="1323.1" r="2.5"/><circle cx="281.5" cy="1292.0" r="2.5"/><circle cx="249.5" cy="1281.0" r="2.5"/><circle cx="279.5" cy="1324.4" r="2.5"/><circle cx="249.5" cy="1308.0" r="2.5"/><circle cx="230.6" cy="1286.4" r="2.5"/><circle cx="285.2" cy="1285.9" r="2.5"/><circle cx="263.0" cy="1293.5" r="2.5"/><circle cx="255.8" cy="1309.7" r="2.5"/><circle cx="293.8" cy="1336.9" r="2.5"/><circle cx="227.3" cy="1272.2" r="2.5"/><circle cx="265.4" cy="1260.0" r="2.5"/><circle cx="260.0" cy="1331.4" r="2.5"/><circle cx="285.2" cy="1292.5" r="2.5"/><circle cx="237.3" cy="1273.7" r="2.5"/><circle cx="265.0" cy="1257.8" r="2.5"/><circle cx="274.2" cy="1326.7" r="2.5"/><circle cx="261.3" cy="1273.4" r="2.5"/><circle cx="243.1" cy="1289.7" r="2.5"/><circle cx="271.2" cy="1283.9" r="2.5"/><circle cx="236.0" cy="1263.8" r="2.5"/><circle cx="292.0" cy="1330.4" r="2.5"/><circle cx="234.2" cy="1294.0" r="2.5"/><circle cx="269.1" cy="1324.0" r="2.5"/><circle cx="258.5" cy="1316.6" r="2.5"/><circle cx="247.4" cy="1303.7" r="2.5"/><circle cx="284.7" cy="1338.8" r="2.5"/><circle cx="280.0" cy="1335.0" r="2.5"/><circle cx="248.0" cy="1268.1" r="2.5"/><circle cx="296.2" cy="1313.6" r="2.5"/><circle cx="284.9" cy="1337.7" r="2.5"/><circle cx="282.3" cy="1321.8" r="2.5"/><circle cx="251.2" cy="1272.4" r="2.5"/><circle cx="296.6" cy="1327.0" r="2.5"/><circle cx="262.1" cy="1288.8" r="2.5"/><circle cx="239.2" cy="1292.9" r="2.5"/><circle cx="268.7" cy="1295.1" r="2.5"/><circle cx="260.0" cy="1318.4" r="2.5"/><circle cx="266.7" cy="1295.4" r="2.5"/><circle cx="239.0" cy="1298.5" r="2.5"/><circle cx="262.8" cy="1304.4" r="2.5"/><circle cx="259.7" cy="1261.6" r="2.5"/><circle cx="238.8" cy="1306.4" r="2.5"/><circle cx="253.0" cy="1266.2" r="2.5"/><circle cx="251.9" cy="1323.0" r="2.5"/><circle cx="277.9" cy="1338.1" r="2.5"/><circle cx="287.6" cy="1321.7" r="2.5"/><circle cx="233.8" cy="1286.4" r="2.5"/><circle cx="274.9" cy="1296.7" r="2.5"/><circle cx="255.1" cy="1326.8" r="2.5"/><circle cx="258.2" cy="1315.0" r="2.5"/><circle cx="291.2" cy="1313.1" r="2.5"/><circle cx="289.6" cy="1300.8" r="2.5"/><circle cx="239.4" cy="1271.6" r="2.5"/><circle cx="235.1" cy="1285.4" r="2.5"/><circle cx="230.1" cy="1271.5" r="2.5"/><circle cx="294.0" cy="1333.2" r="2.5"/><circle cx="270.3" cy="1277.5" r="2.5"/><circle cx="263.3" cy="1309.0" r="2.5"/><circle cx="255.7" cy="1260.0" r="2.5"/><circle cx="255.8" cy="1311.4" r="2.5"/><circle cx="253.8" cy="1290.6" r="2.5"/><circle cx="260.9" cy="1303.5" r="2.5"/><circle cx="247.6" cy="1270.4" r="2.5"/><circle cx="291.2" cy="1311.6" r="2.5"/><circle cx="256.2" cy="1313.0" r="2.5"/><circle cx="269.2" cy="1330.9" r="2.5"/><circle cx="251.4" cy="1302.7" r="2.5"/><circle cx="263.0" cy="1282.8" r="2.5"/><circle cx="264.0" cy="1263.0" r="2.5"/><circle cx="268.3" cy="1259.5" r="2.5"/><circle cx="282.2" cy="1283.3" r="2.5"/><circle cx="272.7" cy="1283.3" r="2.5"/><circle cx="238.3" cy="1289.8" r="2.5"/><circle cx="268.2" cy="1326.3" r="2.5"/><circle cx="295.4" cy="1317.2" r="2.5"/><circle cx="282.7" cy="1325.3" r="2.5"/><circle cx="285.4" cy="1315.9" r="2.5"/><circle cx="271.4" cy="1336.0" r="2.5"/><circle cx="276.1" cy="1334.5" r="2.5"/><circle cx="284.7" cy="1326.8" r="2.5"/><circle cx="254.5" cy="1310.3" r="2.5"/><circle cx="255.0" cy="1317.6" r="2.5"/><circle cx="260.0" cy="1311.2" r="2.5"/><circle cx="235.2" cy="1269.0" r="2.5"/><circle cx="247.3" cy="1282.6" r="2.5"/><circle cx="274.5" cy="1290.4" r="2.5"/><circle cx="282.2" cy="1290.1" r="2.5"/><circle cx="278.8" cy="1299.6" r="2.5"/><circle cx="250.7" cy="1270.1" r="2.5"/><circle cx="255.1" cy="1290.2" r="2.5"/><circle cx="232.3" cy="1280.8" r="2.5"/><circle cx="251.9" cy="1258.1" r="2.5"/><circle cx="261.8" cy="1276.3" r="2.5"/><circle cx="232.2" cy="1274.9" r="2.5"/><circle cx="233.4" cy="1277.7" r="2.5"/><circle cx="281.1" cy="1296.0" r="2.5"/><circle cx="272.2" cy="1330.0" r="2.5"/><circle cx="270.5" cy="1269.5" r="2.5"/><circle cx="284.4" cy="1343.4" r="2.5"/><circle cx="246.3" cy="1292.8" r="2.5"/><circle cx="274.3" cy="1289.0" r="2.5"/><circle cx="246.0" cy="1285.7" r="2.5"/><circle cx="272.5" cy="1295.7" r="2.5"/><circle cx="295.8" cy="1325.0" r="2.5"/><circle cx="250.6" cy="1308.8" r="2.5"/><circle cx="262.5" cy="1274.0" r="2.5"/><circle cx="253.0" cy="1315.7" r="2.5"/><circle cx="251.5" cy="1271.0" r="2.5"/><circle cx="252.4" cy="1275.4" r="2.5"/><circle cx="248.7" cy="1262.8" r="2.5"/><circle cx="264.3" cy="1293.5" r="2.5"/><circle cx="246.3" cy="1316.3" r="2.5"/><circle cx="281.4" cy="1281.2" r="2.5"/><circle cx="254.5" cy="1267.1" r="2.5"/><circle cx="282.4" cy="1303.2" r="2.5"/><circle cx="289.0" cy="1296.2" r="2.5"/><circle cx="265.4" cy="1292.6" r="2.5"/><circle cx="278.8" cy="1325.3" r="2.5"/><circle cx="278.6" cy="1286.2" r="2.5"/><circle cx="262.9" cy="1272.5" r="2.5"/><circle cx="282.5" cy="1304.7" r="2.5"/><circle cx="263.9" cy="1316.7" r="2.5"/><circle cx="275.3" cy="1313.5" r="2.5"/><circle cx="261.2" cy="1324.8" r="2.5"/><circle cx="249.9" cy="1267.5" r="2.5"/><circle cx="275.9" cy="1334.8" r="2.5"/><circle cx="235.5" cy="1265.6" r="2.5"/><circle cx="264.5" cy="1297.5" r="2.5"/><circle cx="231.6" cy="1278.3" r="2.5"/><circle cx="263.9" cy="1269.8" r="2.5"/><circle cx="267.4" cy="1264.3" r="2.5"/><circle cx="273.6" cy="1312.0" r="2.5"/><circle cx="280.4" cy="1336.9" r="2.5"/><circle cx="293.9" cy="1325.3" r="2.5"/><circle cx="267.9" cy="1318.6" r="2.5"/><circle cx="265.3" cy="1319.4" r="2.5"/><circle cx="270.7" cy="1309.2" r="2.5"/><circle cx="234.5" cy="1293.3" r="2.5"/><circle cx="238.7" cy="1285.4" r="2.5"/><circle cx="289.1" cy="1299.0" r="2.5"/><circle cx="271.1" cy="1278.1" r="2.5"/><circle cx="265.7" cy="1330.2" r="2.5"/><circle cx="238.7" cy="1295.9" r="2.5"/><circle cx="244.9" cy="1266.6" r="2.5"/><circle cx="292.5" cy="1322.2" r="2.5"/><circle cx="249.0" cy="1318.5" r="2.5"/><circle cx="294.9" cy="1309.9" r="2.5"/><circle cx="255.2" cy="1268.2" r="2.5"/><circle cx="244.0" cy="1275.2" r="2.5"/><circle cx="294.4" cy="1326.6" r="2.5"/><circle cx="231.4" cy="1286.8" r="2.5"/><circle cx="269.8" cy="1334.8" r="2.5"/><circle cx="255.1" cy="1271.1" r="2.5"/><circle cx="292.5" cy="1307.2" r="2.5"/><circle cx="229.4" cy="1270.7" r="2.5"/><circle cx="295.7" cy="1335.2" r="2.5"/><circle cx="282.8" cy="1282.1" r="2.5"/><circle cx="249.6" cy="1300.6" r="2.5"/><circle cx="280.6" cy="1297.0" r="2.5"/><circle cx="244.3" cy="1286.6" r="2.5"/><circle cx="270.9" cy="1297.7" r="2.5"/><circle cx="257.5" cy="1277.5" r="2.5"/><circle cx="255.6" cy="1266.8" r="2.5"/><circle cx="263.8" cy="1317.9" r="2.5"/><circle cx="240.6" cy="1272.8" r="2.5"/><circle cx="274.2" cy="1335.2" r="2.5"/><circle cx="290.3" cy="1324.7" r="2.5"/><circle cx="284.1" cy="1283.7" r="2.5"/><circle cx="275.4" cy="1281.1" r="2.5"/><circle cx="258.4" cy="1264.0" r="2.5"/><circle cx="283.8" cy="1322.4" r="2.5"/><circle cx="295.5" cy="1318.2" r="2.5"/><circle cx="292.5" cy="1305.6" r="2.5"/><circle cx="230.4" cy="1287.1" r="2.5"/><circle cx="294.4" cy="1309.1" r="2.5"/><circle cx="240.8" cy="1280.3" r="2.5"/><circle cx="276.5" cy="1275.0" r="2.5"/><circle cx="269.1" cy="1288.3" r="2.5"/><circle cx="275.5" cy="1290.0" r="2.5"/><circle cx="264.7" cy="1316.2" r="2.5"/><circle cx="253.5" cy="1277.7" r="2.5"/><circle cx="276.4" cy="1309.9" r="2.5"/><circle cx="286.2" cy="1305.3" r="2.5"/><circle cx="261.1" cy="1308.9" r="2.5"/><circle cx="281.2" cy="1316.1" r="2.5"/><circle cx="286.8" cy="1309.1" r="2.5"/><circle cx="266.5" cy="1283.9" r="2.5"/><circle cx="285.0" cy="1313.7" r="2.5"/><circle cx="284.0" cy="1304.4" r="2.5"/><circle cx="270.5" cy="1324.2" r="2.5"/><circle cx="265.0" cy="1288.4" r="2.5"/><circle cx="260.0" cy="1289.1" r="2.5"/><circle cx="270.9" cy="1307.1" r="2.5"/><circle cx="265.3" cy="1288.4" r="2.5"/><circle cx="267.2" cy="1311.8" r="2.5"/><circle cx="275.2" cy="1296.2" r="2.5"/><circle cx="277.1" cy="1289.1" r="2.5"/><circle cx="279.0" cy="1322.5" r="2.5"/><circle cx="273.9" cy="1285.5" r="2.5"/><circle cx="273.4" cy="1281.1" r="2.5"/><circle cx="283.6" cy="1328.3" r="2.5"/><circle cx="270.1" cy="1312.2" r="2.5"/><circle cx="261.6" cy="1300.9" r="2.5"/><circle cx="254.7" cy="1281.4" r="2.5"/><circle cx="267.9" cy="1319.8" r="2.5"/><circle cx="277.2" cy="1317.8" r="2.5"/><circle cx="254.4" cy="1293.3" r="2.5"/><circle cx="261.0" cy="1294.1" r="2.5"/><circle cx="285.5" cy="1325.1" r="2.5"/><circle cx="267.6" cy="1305.6" r="2.5"/><circle cx="286.8" cy="1319.0" r="2.5"/><circle cx="258.8" cy="1289.5" r="2.5"/><circle cx="282.9" cy="1329.8" r="2.5"/><circle cx="261.7" cy="1301.1" r="2.5"/><circle cx="267.6" cy="1291.7" r="2.5"/><circle cx="263.1" cy="1292.4" r="2.5"/><circle cx="276.3" cy="1294.2" r="2.5"/><circle cx="265.3" cy="1307.9" r="2.5"/><circle cx="263.3" cy="1286.1" r="2.5"/><circle cx="259.4" cy="1307.7" r="2.5"/><circle cx="270.2" cy="1309.0" r="2.5"/><circle cx="262.9" cy="1314.3" r="2.5"/><circle cx="268.4" cy="1306.2" r="2.5"/><circle cx="254.8" cy="1289.2" r="2.5"/><circle cx="269.2" cy="1300.2" r="2.5"/><circle cx="288.8" cy="1324.3" r="2.5"/><circle cx="284.0" cy="1322.8" r="2.5"/><circle cx="282.2" cy="1334.1" r="2.5"/><circle cx="286.8" cy="1319.0" r="2.5"/><circle cx="272.1" cy="1312.0" r="2.5"/><circle cx="285.5" cy="1315.5" r="2.5"/><circle cx="270.5" cy="1308.3" r="2.5"/><circle cx="264.9" cy="1280.1" r="2.5"/><circle cx="268.1" cy="1314.0" r="2.5"/><circle cx="268.8" cy="1313.6" r="2.5"/><circle cx="268.0" cy="1283.9" r="2.5"/><circle cx="251.3" cy="1290.4" r="2.5"/><circle cx="282.6" cy="1332.2" r="2.5"/><circle cx="284.7" cy="1330.1" r="2.5"/><circle cx="271.8" cy="1300.7" r="2.5"/><circle cx="284.0" cy="1324.9" r="2.5"/><circle cx="254.5" cy="1280.4" r="2.5"/><circle cx="282.6" cy="1312.0" r="2.5"/><circle cx="257.3" cy="1279.0" r="2.5"/><circle cx="255.2" cy="1277.4" r="2.5"/><circle cx="284.6" cy="1309.5" r="2.5"/><circle cx="274.7" cy="1303.2" r="2.5"/><circle cx="267.5" cy="1295.1" r="2.5"/><circle cx="264.4" cy="1297.7" r="2.5"/><circle cx="268.9" cy="1300.2" r="2.5"/><circle cx="284.6" cy="1314.7" r="2.5"/><circle cx="266.7" cy="1311.2" r="2.5"/><circle cx="272.9" cy="1321.4" r="2.5"/><circle cx="253.2" cy="1293.9" r="2.5"/><circle cx="285.9" cy="1322.6" r="2.5"/><circle cx="258.8" cy="1284.1" r="2.5"/><circle cx="268.7" cy="1297.8" r="2.5"/><circle cx="266.9" cy="1285.7" r="2.5"/><circle cx="277.3" cy="1317.2" r="2.5"/><circle cx="283.8" cy="1323.9" r="2.5"/><circle cx="323.8" cy="1271.6" r="2.5"/><circle cx="354.0" cy="1272.0" r="2.5"/><circle cx="393.9" cy="1268.6" r="2.5"/><circle cx="399.8" cy="1263.7" r="2.5"/><circle cx="399.8" cy="1268.6" r="2.5"/><circle cx="399.8" cy="1291.0" r="2.5"/><circle cx="426.1" cy="1309.1" r="2.5"/><circle cx="409.3" cy="1333.8" r="2.5"/><circle cx="364.9" cy="1398.0" r="2.5"/><circle cx="401.2" cy="1438.5" r="2.5"/><circle cx="208.9" cy="1442.4" r="2.5"/><circle cx="382.1" cy="1115.3" r="2.5"/><circle cx="392.0" cy="1115.7" r="2.5"/><circle cx="395.9" cy="1112.1" r="2.5"/><circle cx="395.9" cy="1118.6" r="2.5"/><circle cx="411.7" cy="1118.0" r="2.5"/><circle cx="324.2" cy="1209.9" r="2.5"/><circle cx="324.2" cy="1232.6" r="2.5"/><circle cx="368.3" cy="1217.4" r="2.5"/><circle cx="399.8" cy="1290.9" r="2.5"/><circle cx="238.0" cy="1320.0" r="2.5"/><circle cx="215.0" cy="1322.0" r="2.5"/><circle cx="208.0" cy="1335.0" r="2.5"/><circle cx="205.0" cy="1288.0" r="2.5"/><circle cx="200.0" cy="1292.0" r="2.5"/><circle cx="212.0" cy="1296.0" r="2.5"/><circle cx="608.7" cy="1144.2" r="2.5"/><circle cx="608.9" cy="1127.5" r="2.5"/><circle cx="619.7" cy="1134.0" r="2.5"/><circle cx="622.7" cy="1116.7" r="2.5"/><circle cx="607.7" cy="1130.2" r="2.5"/><circle cx="619.2" cy="1140.6" r="2.5"/><circle cx="600.9" cy="1143.0" r="2.5"/><circle cx="613.9" cy="1124.4" r="2.5"/><circle cx="614.5" cy="1142.2" r="2.5"/><circle cx="618.8" cy="1128.1" r="2.5"/><circle cx="609.4" cy="1144.5" r="2.5"/><circle cx="606.9" cy="1130.8" r="2.5"/><circle cx="596.1" cy="1137.9" r="2.5"/><circle cx="596.2" cy="1124.4" r="2.5"/><circle cx="599.2" cy="1120.1" r="2.5"/><circle cx="597.1" cy="1137.5" r="2.5"/><circle cx="610.1" cy="1126.4" r="2.5"/><circle cx="613.6" cy="1110.8" r="2.5"/><circle cx="615.4" cy="1141.2" r="2.5"/><circle cx="605.2" cy="1128.0" r="2.5"/><circle cx="620.9" cy="1138.7" r="2.5"/><circle cx="612.8" cy="1109.4" r="2.5"/><circle cx="623.1" cy="1134.7" r="2.5"/><circle cx="597.5" cy="1129.1" r="2.5"/><circle cx="609.6" cy="1123.3" r="2.5"/><circle cx="623.6" cy="1130.5" r="2.5"/><circle cx="593.7" cy="1128.4" r="2.5"/><circle cx="625.4" cy="1131.0" r="2.5"/><circle cx="604.9" cy="1121.7" r="2.5"/><circle cx="597.5" cy="1130.4" r="2.5"/><circle cx="607.1" cy="1146.3" r="2.5"/><circle cx="605.4" cy="1138.6" r="2.5"/><circle cx="607.6" cy="1116.3" r="2.5"/><circle cx="600.3" cy="1150.6" r="2.5"/><circle cx="598.2" cy="1133.2" r="2.5"/><circle cx="615.0" cy="1132.7" r="2.5"/><circle cx="609.9" cy="1120.6" r="2.5"/><circle cx="616.8" cy="1114.6" r="2.5"/><circle cx="625.3" cy="1129.5" r="2.5"/><circle cx="608.7" cy="1121.3" r="2.5"/><circle cx="604.1" cy="1141.7" r="2.5"/><circle cx="615.7" cy="1112.3" r="2.5"/><circle cx="615.1" cy="1148.0" r="2.5"/><circle cx="603.6" cy="1112.4" r="2.5"/><circle cx="620.3" cy="1127.4" r="2.5"/><circle cx="606.7" cy="1136.8" r="2.5"/><circle cx="605.7" cy="1137.1" r="2.5"/><circle cx="612.9" cy="1150.4" r="2.5"/><circle cx="601.9" cy="1117.5" r="2.5"/><circle cx="617.0" cy="1124.4" r="2.5"/><circle cx="608.8" cy="1135.0" r="2.5"/><circle cx="598.6" cy="1138.0" r="2.5"/><circle cx="618.4" cy="1134.5" r="2.5"/><circle cx="607.8" cy="1117.0" r="2.5"/><circle cx="608.7" cy="1146.0" r="2.5"/><circle cx="611.4" cy="1126.8" r="2.5"/><circle cx="623.0" cy="1135.1" r="2.5"/><circle cx="602.6" cy="1136.2" r="2.5"/><circle cx="603.6" cy="1124.2" r="2.5"/><circle cx="611.2" cy="1129.2" r="2.5"/><circle cx="617.4" cy="1145.8" r="2.5"/><circle cx="597.9" cy="1145.4" r="2.5"/><circle cx="608.5" cy="1145.6" r="2.5"/><circle cx="601.0" cy="1120.1" r="2.5"/><circle cx="609.9" cy="1133.8" r="2.5"/><circle cx="614.1" cy="1148.7" r="2.5"/><circle cx="608.6" cy="1118.3" r="2.5"/><circle cx="604.4" cy="1130.5" r="2.5"/><circle cx="612.4" cy="1143.9" r="2.5"/><circle cx="618.7" cy="1145.5" r="2.5"/><circle cx="597.4" cy="1148.0" r="2.5"/><circle cx="607.4" cy="1144.0" r="2.5"/><circle cx="624.4" cy="1136.2" r="2.5"/><circle cx="607.5" cy="1125.2" r="2.5"/><circle cx="607.4" cy="1133.3" r="2.5"/><circle cx="607.5" cy="1124.4" r="2.5"/><circle cx="606.8" cy="1125.4" r="2.5"/><circle cx="602.7" cy="1154.3" r="2.5"/><circle cx="613.7" cy="1128.1" r="2.5"/><circle cx="610.5" cy="1128.5" r="2.5"/><circle cx="614.6" cy="1151.0" r="2.5"/><circle cx="620.7" cy="1132.9" r="2.5"/><circle cx="613.8" cy="1127.0" r="2.5"/><circle cx="618.5" cy="1143.2" r="2.5"/><circle cx="615.2" cy="1130.1" r="2.5"/><circle cx="606.9" cy="1134.5" r="2.5"/><circle cx="608.7" cy="1134.6" r="2.5"/><circle cx="613.6" cy="1124.3" r="2.5"/><circle cx="611.1" cy="1135.6" r="2.5"/><circle cx="608.5" cy="1147.7" r="2.5"/><circle cx="618.1" cy="1140.0" r="2.5"/><circle cx="604.6" cy="1137.5" r="2.5"/><circle cx="620.8" cy="1117.6" r="2.5"/><circle cx="604.2" cy="1130.0" r="2.5"/><circle cx="596.6" cy="1123.3" r="2.5"/><circle cx="622.8" cy="1118.7" r="2.5"/><circle cx="605.9" cy="1122.8" r="2.5"/><circle cx="608.2" cy="1147.6" r="2.5"/><circle cx="622.9" cy="1121.6" r="2.5"/><circle cx="611.7" cy="1131.8" r="2.5"/><circle cx="607.0" cy="1133.3" r="2.5"/><circle cx="606.4" cy="1134.3" r="2.5"/><circle cx="598.4" cy="1128.3" r="2.5"/><circle cx="601.9" cy="1127.9" r="2.5"/><circle cx="607.0" cy="1114.8" r="2.5"/><circle cx="605.8" cy="1128.3" r="2.5"/><circle cx="608.8" cy="1128.4" r="2.5"/><circle cx="608.0" cy="1130.3" r="2.5"/><circle cx="614.7" cy="1136.5" r="2.5"/><circle cx="601.9" cy="1144.4" r="2.5"/><circle cx="611.2" cy="1128.6" r="2.5"/><circle cx="608.6" cy="1123.5" r="2.5"/><circle cx="615.7" cy="1120.1" r="2.5"/><circle cx="612.4" cy="1141.2" r="2.5"/><circle cx="609.1" cy="1120.7" r="2.5"/><circle cx="616.0" cy="1123.4" r="2.5"/><circle cx="609.2" cy="1143.8" r="2.5"/><circle cx="601.5" cy="1122.0" r="2.5"/><circle cx="620.0" cy="1138.2" r="2.5"/><circle cx="603.3" cy="1120.8" r="2.5"/><circle cx="613.5" cy="1135.3" r="2.5"/><circle cx="606.2" cy="1119.5" r="2.5"/><circle cx="610.8" cy="1129.8" r="2.5"/><circle cx="605.0" cy="1142.7" r="2.5"/><circle cx="616.7" cy="1143.4" r="2.5"/><circle cx="624.8" cy="1124.3" r="2.5"/><circle cx="608.4" cy="1133.4" r="2.5"/><circle cx="610.9" cy="1135.6" r="2.5"/><circle cx="610.5" cy="1112.1" r="2.5"/><circle cx="615.7" cy="1134.1" r="2.5"/><circle cx="596.7" cy="1132.4" r="2.5"/><circle cx="617.0" cy="1114.1" r="2.5"/><circle cx="594.0" cy="1134.5" r="2.5"/><circle cx="622.3" cy="1127.9" r="2.5"/><circle cx="600.4" cy="1129.4" r="2.5"/><circle cx="607.9" cy="1121.2" r="2.5"/><circle cx="614.1" cy="1115.8" r="2.5"/><circle cx="615.4" cy="1148.5" r="2.5"/><circle cx="616.3" cy="1111.2" r="2.5"/><circle cx="605.5" cy="1134.3" r="2.5"/><circle cx="597.4" cy="1112.8" r="2.5"/><circle cx="587.6" cy="1127.2" r="2.5"/><circle cx="591.5" cy="1120.7" r="2.5"/><circle cx="605.1" cy="1131.8" r="2.5"/><circle cx="595.4" cy="1131.1" r="2.5"/><circle cx="607.4" cy="1111.3" r="2.5"/><circle cx="605.4" cy="1113.9" r="2.5"/><circle cx="589.3" cy="1116.0" r="2.5"/><circle cx="607.4" cy="1127.8" r="2.5"/><circle cx="595.4" cy="1115.7" r="2.5"/><circle cx="611.0" cy="1126.8" r="2.5"/><circle cx="609.2" cy="1115.4" r="2.5"/><circle cx="602.0" cy="1108.7" r="2.5"/><circle cx="586.7" cy="1120.0" r="2.5"/><circle cx="607.7" cy="1113.6" r="2.5"/><circle cx="598.4" cy="1116.6" r="2.5"/><circle cx="606.4" cy="1109.9" r="2.5"/><circle cx="603.8" cy="1110.6" r="2.5"/><circle cx="612.5" cy="1124.0" r="2.5"/><circle cx="600.5" cy="1121.2" r="2.5"/><circle cx="605.6" cy="1130.0" r="2.5"/><circle cx="598.1" cy="1118.2" r="2.5"/><circle cx="601.1" cy="1126.2" r="2.5"/><circle cx="588.5" cy="1116.6" r="2.5"/><circle cx="592.8" cy="1129.5" r="2.5"/><circle cx="592.7" cy="1111.3" r="2.5"/><circle cx="598.5" cy="1119.3" r="2.5"/><circle cx="589.9" cy="1119.4" r="2.5"/><circle cx="608.8" cy="1119.7" r="2.5"/><circle cx="602.6" cy="1130.0" r="2.5"/><circle cx="607.6" cy="1111.1" r="2.5"/><circle cx="559.1" cy="1168.0" r="2.5"/><circle cx="587.3" cy="1122.4" r="2.5"/><circle cx="592.4" cy="1131.0" r="2.5"/><circle cx="581.9" cy="1137.9" r="2.5"/><circle cx="573.0" cy="1155.4" r="2.5"/><circle cx="543.3" cy="1165.0" r="2.5"/><circle cx="558.1" cy="1112.4" r="2.5"/><circle cx="553.3" cy="1116.5" r="2.5"/><circle cx="545.8" cy="1163.2" r="2.5"/><circle cx="546.5" cy="1154.3" r="2.5"/><circle cx="600.5" cy="1110.7" r="2.5"/><circle cx="564.9" cy="1170.9" r="2.5"/><circle cx="564.4" cy="1145.9" r="2.5"/><circle cx="564.1" cy="1164.1" r="2.5"/><circle cx="593.1" cy="1139.6" r="2.5"/><circle cx="537.9" cy="1174.0" r="2.5"/><circle cx="553.4" cy="1161.7" r="2.5"/><circle cx="601.3" cy="1136.4" r="2.5"/><circle cx="546.8" cy="1138.7" r="2.5"/><circle cx="550.2" cy="1122.6" r="2.5"/><circle cx="606.3" cy="1172.3" r="2.5"/><circle cx="552.8" cy="1147.6" r="2.5"/><circle cx="573.5" cy="1111.4" r="2.5"/><circle cx="610.1" cy="1119.8" r="2.5"/><circle cx="541.5" cy="1177.9" r="2.5"/><circle cx="581.3" cy="1183.9" r="2.5"/><circle cx="540.0" cy="1133.8" r="2.5"/><circle cx="588.7" cy="1140.9" r="2.5"/><circle cx="609.2" cy="1115.4" r="2.5"/><circle cx="592.6" cy="1147.9" r="2.5"/><circle cx="547.9" cy="1134.4" r="2.5"/><circle cx="557.0" cy="1169.4" r="2.5"/><circle cx="563.3" cy="1160.3" r="2.5"/><circle cx="594.8" cy="1178.8" r="2.5"/><circle cx="561.9" cy="1137.2" r="2.5"/><circle cx="605.6" cy="1115.7" r="2.5"/><circle cx="558.9" cy="1176.0" r="2.5"/><circle cx="556.8" cy="1138.4" r="2.5"/><circle cx="541.2" cy="1166.8" r="2.5"/><circle cx="548.0" cy="1140.4" r="2.5"/><circle cx="536.5" cy="1135.8" r="2.5"/><circle cx="543.6" cy="1133.8" r="2.5"/><circle cx="543.5" cy="1180.3" r="2.5"/><circle cx="543.6" cy="1155.7" r="2.5"/><circle cx="568.0" cy="1161.4" r="2.5"/><circle cx="600.4" cy="1168.0" r="2.5"/><circle cx="547.9" cy="1142.0" r="2.5"/><circle cx="537.6" cy="1221.0" r="2.5"/><circle cx="530.4" cy="1174.3" r="2.5"/><circle cx="592.6" cy="1169.5" r="2.5"/><circle cx="585.8" cy="1195.9" r="2.5"/><circle cx="534.7" cy="1159.9" r="2.5"/><circle cx="570.7" cy="1173.9" r="2.5"/><circle cx="588.3" cy="1206.9" r="2.5"/><circle cx="516.7" cy="1125.3" r="2.5"/><circle cx="511.0" cy="1150.9" r="2.5"/><circle cx="501.4" cy="1179.1" r="2.5"/><circle cx="541.3" cy="1117.0" r="2.5"/><circle cx="602.9" cy="1111.8" r="2.5"/><circle cx="584.3" cy="1135.4" r="2.5"/><circle cx="586.6" cy="1234.6" r="2.5"/><circle cx="532.9" cy="1210.9" r="2.5"/><circle cx="556.9" cy="1215.7" r="2.5"/><circle cx="513.7" cy="1102.4" r="2.5"/><circle cx="568.4" cy="1187.0" r="2.5"/><circle cx="505.7" cy="1187.0" r="2.5"/><circle cx="566.1" cy="1118.4" r="2.5"/><circle cx="573.3" cy="1136.9" r="2.5"/><circle cx="546.2" cy="1170.7" r="2.5"/><circle cx="550.8" cy="1174.7" r="2.5"/><circle cx="583.1" cy="1223.1" r="2.5"/><circle cx="554.0" cy="1233.8" r="2.5"/><circle cx="575.4" cy="1195.2" r="2.5"/><circle cx="511.4" cy="1115.8" r="2.5"/><circle cx="612.0" cy="1181.2" r="2.5"/><circle cx="593.2" cy="1205.0" r="2.5"/><circle cx="620.8" cy="1152.8" r="2.5"/><circle cx="585.9" cy="1215.4" r="2.5"/><circle cx="501.5" cy="1205.5" r="2.5"/><circle cx="519.1" cy="1160.4" r="2.5"/><circle cx="521.6" cy="1105.3" r="2.5"/><circle cx="538.3" cy="1260.1" r="2.5"/><circle cx="572.3" cy="1260.3" r="2.5"/><circle cx="577.4" cy="1252.0" r="2.5"/><circle cx="529.0" cy="1268.7" r="2.5"/><circle cx="542.5" cy="1250.8" r="2.5"/><circle cx="531.2" cy="1247.6" r="2.5"/><circle cx="569.6" cy="1249.8" r="2.5"/><circle cx="575.2" cy="1261.3" r="2.5"/><circle cx="525.3" cy="1259.4" r="2.5"/><circle cx="540.5" cy="1261.7" r="2.5"/><circle cx="582.8" cy="1262.6" r="2.5"/><circle cx="584.4" cy="1265.3" r="2.5"/><circle cx="571.9" cy="1269.8" r="2.5"/><circle cx="544.9" cy="1261.5" r="2.5"/><circle cx="546.2" cy="1270.1" r="2.5"/><circle cx="576.8" cy="1263.2" r="2.5"/><circle cx="559.7" cy="1253.0" r="2.5"/><circle cx="548.2" cy="1252.4" r="2.5"/><circle cx="565.4" cy="1248.6" r="2.5"/><circle cx="535.5" cy="1265.6" r="2.5"/><circle cx="555.7" cy="1263.5" r="2.5"/><circle cx="526.9" cy="1256.7" r="2.5"/><circle cx="587.2" cy="1259.0" r="2.5"/><circle cx="573.4" cy="1253.6" r="2.5"/><circle cx="579.0" cy="1255.7" r="2.5"/><circle cx="538.1" cy="1245.8" r="2.5"/><circle cx="525.9" cy="1256.3" r="2.5"/><circle cx="581.4" cy="1251.5" r="2.5"/><circle cx="546.4" cy="1297.6" r="2.5"/><circle cx="542.5" cy="1292.7" r="2.5"/><circle cx="537.1" cy="1292.1" r="2.5"/><circle cx="552.7" cy="1296.4" r="2.5"/><circle cx="546.1" cy="1288.3" r="2.5"/><circle cx="543.9" cy="1297.9" r="2.5"/><circle cx="568.4" cy="1283.8" r="2.5"/><circle cx="566.6" cy="1284.8" r="2.5"/><circle cx="614.1" cy="1301.9" r="2.5"/><circle cx="585.2" cy="1280.9" r="2.5"/><circle cx="592.5" cy="1284.1" r="2.5"/><circle cx="613.0" cy="1309.5" r="2.5"/><circle cx="630.8" cy="1326.0" r="2.5"/><circle cx="630.2" cy="1322.6" r="2.5"/><circle cx="566.7" cy="1281.2" r="2.5"/><circle cx="590.9" cy="1278.3" r="2.5"/><circle cx="629.7" cy="1326.6" r="2.5"/><circle cx="594.8" cy="1323.3" r="2.5"/><circle cx="618.0" cy="1325.2" r="2.5"/><circle cx="612.8" cy="1341.0" r="2.5"/><circle cx="618.0" cy="1278.7" r="2.5"/><circle cx="630.5" cy="1330.7" r="2.5"/><circle cx="594.9" cy="1300.5" r="2.5"/><circle cx="584.0" cy="1279.1" r="2.5"/><circle cx="583.6" cy="1281.2" r="2.5"/><circle cx="614.1" cy="1283.3" r="2.5"/><circle cx="576.1" cy="1272.8" r="2.5"/><circle cx="616.7" cy="1298.6" r="2.5"/><circle cx="584.4" cy="1314.5" r="2.5"/><circle cx="579.1" cy="1285.7" r="2.5"/><circle cx="618.6" cy="1286.1" r="2.5"/><circle cx="597.4" cy="1263.9" r="2.5"/><circle cx="602.6" cy="1289.3" r="2.5"/><circle cx="604.2" cy="1286.2" r="2.5"/><circle cx="565.9" cy="1268.7" r="2.5"/><circle cx="586.0" cy="1291.9" r="2.5"/><circle cx="611.5" cy="1267.7" r="2.5"/><circle cx="612.3" cy="1321.9" r="2.5"/><circle cx="616.0" cy="1322.0" r="2.5"/><circle cx="613.4" cy="1331.8" r="2.5"/><circle cx="606.8" cy="1303.2" r="2.5"/><circle cx="591.0" cy="1312.6" r="2.5"/><circle cx="567.8" cy="1286.3" r="2.5"/><circle cx="595.3" cy="1266.3" r="2.5"/><circle cx="634.4" cy="1325.5" r="2.5"/><circle cx="604.8" cy="1287.2" r="2.5"/><circle cx="608.6" cy="1289.2" r="2.5"/><circle cx="571.3" cy="1293.5" r="2.5"/><circle cx="593.2" cy="1299.0" r="2.5"/><circle cx="591.1" cy="1272.5" r="2.5"/><circle cx="591.2" cy="1310.6" r="2.5"/><circle cx="626.6" cy="1331.2" r="2.5"/><circle cx="627.2" cy="1334.5" r="2.5"/><circle cx="617.9" cy="1331.6" r="2.5"/><circle cx="611.4" cy="1298.3" r="2.5"/><circle cx="589.2" cy="1323.1" r="2.5"/><circle cx="595.5" cy="1326.0" r="2.5"/><circle cx="602.3" cy="1306.2" r="2.5"/><circle cx="617.3" cy="1283.1" r="2.5"/><circle cx="582.2" cy="1291.0" r="2.5"/><circle cx="581.0" cy="1273.3" r="2.5"/><circle cx="602.7" cy="1329.8" r="2.5"/><circle cx="610.6" cy="1323.7" r="2.5"/><circle cx="605.7" cy="1326.8" r="2.5"/><circle cx="630.1" cy="1327.3" r="2.5"/><circle cx="609.8" cy="1274.5" r="2.5"/><circle cx="580.1" cy="1280.8" r="2.5"/><circle cx="603.2" cy="1262.9" r="2.5"/><circle cx="609.9" cy="1268.0" r="2.5"/><circle cx="585.9" cy="1287.5" r="2.5"/><circle cx="618.6" cy="1285.1" r="2.5"/><circle cx="606.5" cy="1308.9" r="2.5"/><circle cx="606.1" cy="1296.6" r="2.5"/><circle cx="601.4" cy="1322.3" r="2.5"/><circle cx="586.6" cy="1293.9" r="2.5"/><circle cx="626.0" cy="1317.1" r="2.5"/><circle cx="578.7" cy="1293.2" r="2.5"/><circle cx="579.9" cy="1273.6" r="2.5"/><circle cx="631.4" cy="1326.6" r="2.5"/><circle cx="567.9" cy="1268.9" r="2.5"/><circle cx="633.6" cy="1321.8" r="2.5"/><circle cx="610.6" cy="1310.7" r="2.5"/><circle cx="600.0" cy="1266.5" r="2.5"/><circle cx="603.1" cy="1304.9" r="2.5"/><circle cx="633.6" cy="1336.7" r="2.5"/><circle cx="612.2" cy="1301.9" r="2.5"/><circle cx="603.8" cy="1297.2" r="2.5"/><circle cx="570.8" cy="1280.8" r="2.5"/><circle cx="617.6" cy="1329.6" r="2.5"/><circle cx="628.8" cy="1315.9" r="2.5"/><circle cx="601.9" cy="1280.7" r="2.5"/><circle cx="576.1" cy="1268.4" r="2.5"/><circle cx="584.9" cy="1262.3" r="2.5"/><circle cx="614.4" cy="1301.1" r="2.5"/><circle cx="622.5" cy="1312.9" r="2.5"/><circle cx="617.6" cy="1301.8" r="2.5"/><circle cx="591.4" cy="1264.2" r="2.5"/><circle cx="586.2" cy="1307.8" r="2.5"/><circle cx="597.9" cy="1311.0" r="2.5"/><circle cx="585.5" cy="1317.3" r="2.5"/><circle cx="592.3" cy="1275.9" r="2.5"/><circle cx="610.1" cy="1303.6" r="2.5"/><circle cx="580.0" cy="1264.3" r="2.5"/><circle cx="601.5" cy="1313.8" r="2.5"/><circle cx="629.6" cy="1334.4" r="2.5"/><circle cx="580.5" cy="1277.6" r="2.5"/><circle cx="601.5" cy="1312.9" r="2.5"/><circle cx="595.5" cy="1298.7" r="2.5"/><circle cx="595.3" cy="1303.7" r="2.5"/><circle cx="624.9" cy="1303.4" r="2.5"/><circle cx="602.3" cy="1280.7" r="2.5"/><circle cx="568.5" cy="1286.1" r="2.5"/><circle cx="599.6" cy="1321.3" r="2.5"/><circle cx="585.1" cy="1289.6" r="2.5"/><circle cx="612.3" cy="1290.5" r="2.5"/><circle cx="587.2" cy="1309.7" r="2.5"/><circle cx="631.2" cy="1313.0" r="2.5"/><circle cx="572.2" cy="1284.4" r="2.5"/><circle cx="578.7" cy="1305.9" r="2.5"/><circle cx="600.3" cy="1274.0" r="2.5"/><circle cx="599.1" cy="1303.2" r="2.5"/><circle cx="613.0" cy="1324.4" r="2.5"/><circle cx="595.4" cy="1286.6" r="2.5"/><circle cx="574.2" cy="1291.0" r="2.5"/><circle cx="568.5" cy="1271.5" r="2.5"/><circle cx="611.7" cy="1332.9" r="2.5"/><circle cx="589.8" cy="1289.8" r="2.5"/><circle cx="614.1" cy="1280.4" r="2.5"/><circle cx="621.9" cy="1330.3" r="2.5"/><circle cx="608.5" cy="1332.3" r="2.5"/><circle cx="614.8" cy="1277.5" r="2.5"/><circle cx="589.1" cy="1292.7" r="2.5"/><circle cx="602.1" cy="1257.3" r="2.5"/><circle cx="607.1" cy="1318.4" r="2.5"/><circle cx="612.4" cy="1287.5" r="2.5"/><circle cx="619.3" cy="1327.0" r="2.5"/><circle cx="615.2" cy="1311.1" r="2.5"/><circle cx="577.3" cy="1293.7" r="2.5"/><circle cx="602.1" cy="1314.8" r="2.5"/><circle cx="598.3" cy="1316.5" r="2.5"/><circle cx="582.6" cy="1312.2" r="2.5"/><circle cx="579.0" cy="1277.6" r="2.5"/><circle cx="576.5" cy="1269.5" r="2.5"/><circle cx="602.5" cy="1317.8" r="2.5"/><circle cx="624.9" cy="1324.9" r="2.5"/><circle cx="575.1" cy="1302.6" r="2.5"/><circle cx="600.6" cy="1314.5" r="2.5"/><circle cx="570.6" cy="1269.7" r="2.5"/><circle cx="607.8" cy="1304.5" r="2.5"/><circle cx="618.7" cy="1291.1" r="2.5"/><circle cx="617.7" cy="1302.8" r="2.5"/><circle cx="587.9" cy="1287.1" r="2.5"/><circle cx="600.0" cy="1259.2" r="2.5"/><circle cx="594.0" cy="1311.0" r="2.5"/><circle cx="609.1" cy="1280.7" r="2.5"/><circle cx="582.8" cy="1293.4" r="2.5"/><circle cx="576.1" cy="1295.5" r="2.5"/><circle cx="600.7" cy="1257.7" r="2.5"/><circle cx="609.7" cy="1286.3" r="2.5"/><circle cx="583.0" cy="1262.7" r="2.5"/><circle cx="629.1" cy="1328.2" r="2.5"/><circle cx="603.0" cy="1283.9" r="2.5"/><circle cx="617.4" cy="1311.0" r="2.5"/><circle cx="616.0" cy="1323.5" r="2.5"/><circle cx="615.4" cy="1273.3" r="2.5"/><circle cx="604.7" cy="1301.9" r="2.5"/><circle cx="621.9" cy="1284.8" r="2.5"/><circle cx="620.8" cy="1291.2" r="2.5"/><circle cx="624.7" cy="1331.2" r="2.5"/><circle cx="609.2" cy="1280.7" r="2.5"/><circle cx="598.0" cy="1263.6" r="2.5"/><circle cx="603.8" cy="1287.0" r="2.5"/><circle cx="568.8" cy="1277.3" r="2.5"/><circle cx="613.1" cy="1325.5" r="2.5"/><circle cx="589.3" cy="1280.7" r="2.5"/><circle cx="569.6" cy="1268.8" r="2.5"/><circle cx="600.2" cy="1281.3" r="2.5"/><circle cx="576.0" cy="1286.4" r="2.5"/><circle cx="622.4" cy="1285.7" r="2.5"/><circle cx="579.8" cy="1261.1" r="2.5"/><circle cx="598.6" cy="1275.2" r="2.5"/><circle cx="616.8" cy="1335.9" r="2.5"/><circle cx="616.3" cy="1308.4" r="2.5"/><circle cx="605.7" cy="1329.5" r="2.5"/><circle cx="583.3" cy="1301.8" r="2.5"/><circle cx="604.7" cy="1339.0" r="2.5"/><circle cx="602.0" cy="1301.3" r="2.5"/><circle cx="602.7" cy="1299.9" r="2.5"/><circle cx="601.3" cy="1319.2" r="2.5"/><circle cx="609.5" cy="1267.8" r="2.5"/><circle cx="575.7" cy="1291.3" r="2.5"/><circle cx="602.2" cy="1285.0" r="2.5"/><circle cx="608.2" cy="1286.0" r="2.5"/><circle cx="571.3" cy="1281.5" r="2.5"/><circle cx="615.4" cy="1321.3" r="2.5"/><circle cx="624.7" cy="1301.8" r="2.5"/><circle cx="626.5" cy="1307.0" r="2.5"/><circle cx="610.1" cy="1307.1" r="2.5"/><circle cx="594.3" cy="1280.1" r="2.5"/><circle cx="595.3" cy="1289.8" r="2.5"/><circle cx="570.1" cy="1292.8" r="2.5"/><circle cx="584.9" cy="1287.5" r="2.5"/><circle cx="603.0" cy="1290.5" r="2.5"/><circle cx="620.2" cy="1310.0" r="2.5"/><circle cx="600.8" cy="1323.7" r="2.5"/><circle cx="618.5" cy="1325.0" r="2.5"/><circle cx="611.4" cy="1335.1" r="2.5"/><circle cx="625.8" cy="1343.5" r="2.5"/><circle cx="617.9" cy="1276.0" r="2.5"/><circle cx="578.3" cy="1273.2" r="2.5"/><circle cx="580.8" cy="1264.8" r="2.5"/><circle cx="600.0" cy="1331.9" r="2.5"/><circle cx="609.3" cy="1325.6" r="2.5"/><circle cx="632.3" cy="1335.2" r="2.5"/><circle cx="619.7" cy="1328.0" r="2.5"/><circle cx="601.6" cy="1318.8" r="2.5"/><circle cx="587.9" cy="1283.0" r="2.5"/><circle cx="591.9" cy="1275.3" r="2.5"/><circle cx="611.3" cy="1310.2" r="2.5"/><circle cx="586.6" cy="1270.4" r="2.5"/><circle cx="595.4" cy="1302.0" r="2.5"/><circle cx="628.4" cy="1306.7" r="2.5"/><circle cx="595.2" cy="1307.1" r="2.5"/><circle cx="576.7" cy="1264.6" r="2.5"/><circle cx="582.2" cy="1305.8" r="2.5"/><circle cx="612.5" cy="1280.1" r="2.5"/><circle cx="582.5" cy="1293.7" r="2.5"/><circle cx="602.5" cy="1260.9" r="2.5"/><circle cx="624.0" cy="1305.9" r="2.5"/><circle cx="587.8" cy="1307.6" r="2.5"/><circle cx="616.7" cy="1311.2" r="2.5"/><circle cx="597.5" cy="1322.1" r="2.5"/><circle cx="601.0" cy="1334.1" r="2.5"/><circle cx="579.0" cy="1303.9" r="2.5"/><circle cx="606.6" cy="1342.2" r="2.5"/><circle cx="597.4" cy="1318.3" r="2.5"/><circle cx="612.3" cy="1330.9" r="2.5"/><circle cx="593.1" cy="1284.2" r="2.5"/><circle cx="604.1" cy="1259.3" r="2.5"/><circle cx="619.3" cy="1310.7" r="2.5"/><circle cx="574.5" cy="1278.3" r="2.5"/><circle cx="615.9" cy="1293.5" r="2.5"/><circle cx="617.3" cy="1315.5" r="2.5"/><circle cx="609.4" cy="1326.1" r="2.5"/><circle cx="623.0" cy="1319.0" r="2.5"/><circle cx="618.2" cy="1318.5" r="2.5"/><circle cx="571.8" cy="1275.3" r="2.5"/><circle cx="633.9" cy="1320.7" r="2.5"/><circle cx="614.3" cy="1307.7" r="2.5"/><circle cx="584.6" cy="1298.5" r="2.5"/><circle cx="606.1" cy="1279.1" r="2.5"/><circle cx="609.9" cy="1316.8" r="2.5"/><circle cx="612.5" cy="1296.0" r="2.5"/><circle cx="599.0" cy="1300.0" r="2.5"/><circle cx="631.9" cy="1334.5" r="2.5"/><circle cx="609.3" cy="1311.5" r="2.5"/><circle cx="623.3" cy="1322.7" r="2.5"/><circle cx="634.3" cy="1332.5" r="2.5"/><circle cx="595.3" cy="1307.7" r="2.5"/><circle cx="597.1" cy="1306.3" r="2.5"/><circle cx="611.7" cy="1333.1" r="2.5"/><circle cx="594.2" cy="1262.2" r="2.5"/><circle cx="597.6" cy="1269.2" r="2.5"/><circle cx="589.1" cy="1311.4" r="2.5"/><circle cx="610.5" cy="1309.1" r="2.5"/><circle cx="618.5" cy="1288.7" r="2.5"/><circle cx="623.0" cy="1326.3" r="2.5"/><circle cx="620.0" cy="1280.9" r="2.5"/><circle cx="631.5" cy="1331.7" r="2.5"/><circle cx="611.4" cy="1278.4" r="2.5"/><circle cx="575.1" cy="1297.2" r="2.5"/><circle cx="624.4" cy="1312.7" r="2.5"/><circle cx="602.1" cy="1271.4" r="2.5"/><circle cx="601.7" cy="1258.2" r="2.5"/><circle cx="575.5" cy="1264.9" r="2.5"/><circle cx="573.5" cy="1284.0" r="2.5"/><circle cx="574.2" cy="1301.3" r="2.5"/><circle cx="624.3" cy="1341.6" r="2.5"/><circle cx="598.8" cy="1275.2" r="2.5"/><circle cx="611.7" cy="1322.9" r="2.5"/><circle cx="587.0" cy="1319.1" r="2.5"/><circle cx="594.3" cy="1286.6" r="2.5"/><circle cx="613.1" cy="1290.7" r="2.5"/><circle cx="615.0" cy="1302.4" r="2.5"/><circle cx="596.9" cy="1294.3" r="2.5"/><circle cx="622.4" cy="1343.2" r="2.5"/><circle cx="586.4" cy="1289.9" r="2.5"/><circle cx="606.4" cy="1260.7" r="2.5"/><circle cx="571.3" cy="1275.5" r="2.5"/><circle cx="600.2" cy="1261.1" r="2.5"/><circle cx="568.8" cy="1266.6" r="2.5"/><circle cx="596.3" cy="1293.2" r="2.5"/><circle cx="592.7" cy="1275.6" r="2.5"/><circle cx="629.9" cy="1329.9" r="2.5"/><circle cx="604.7" cy="1332.7" r="2.5"/><circle cx="586.5" cy="1274.5" r="2.5"/><circle cx="615.6" cy="1332.9" r="2.5"/><circle cx="622.7" cy="1312.0" r="2.5"/><circle cx="582.2" cy="1293.6" r="2.5"/><circle cx="592.1" cy="1320.3" r="2.5"/><circle cx="593.1" cy="1313.9" r="2.5"/><circle cx="573.8" cy="1267.4" r="2.5"/><circle cx="595.0" cy="1282.8" r="2.5"/><circle cx="605.3" cy="1288.8" r="2.5"/><circle cx="592.6" cy="1302.5" r="2.5"/><circle cx="623.8" cy="1290.2" r="2.5"/><circle cx="603.3" cy="1325.5" r="2.5"/><circle cx="614.2" cy="1324.1" r="2.5"/><circle cx="634.5" cy="1335.7" r="2.5"/><circle cx="612.2" cy="1339.4" r="2.5"/><circle cx="584.2" cy="1290.8" r="2.5"/><circle cx="603.7" cy="1301.5" r="2.5"/><circle cx="614.8" cy="1307.6" r="2.5"/><circle cx="611.2" cy="1295.7" r="2.5"/><circle cx="598.3" cy="1313.1" r="2.5"/><circle cx="612.9" cy="1329.6" r="2.5"/><circle cx="630.5" cy="1316.9" r="2.5"/><circle cx="575.1" cy="1266.8" r="2.5"/><circle cx="605.8" cy="1286.9" r="2.5"/><circle cx="608.7" cy="1290.8" r="2.5"/><circle cx="588.7" cy="1323.0" r="2.5"/><circle cx="618.4" cy="1282.7" r="2.5"/><circle cx="575.0" cy="1292.0" r="2.5"/><circle cx="620.7" cy="1330.0" r="2.5"/><circle cx="616.2" cy="1303.4" r="2.5"/><circle cx="571.9" cy="1283.3" r="2.5"/><circle cx="608.0" cy="1339.1" r="2.5"/><circle cx="580.9" cy="1293.4" r="2.5"/><circle cx="582.9" cy="1291.1" r="2.5"/><circle cx="632.2" cy="1334.6" r="2.5"/><circle cx="615.2" cy="1305.6" r="2.5"/><circle cx="608.8" cy="1281.3" r="2.5"/><circle cx="572.5" cy="1288.1" r="2.5"/><circle cx="615.1" cy="1314.4" r="2.5"/><circle cx="582.9" cy="1307.0" r="2.5"/><circle cx="603.9" cy="1331.1" r="2.5"/><circle cx="604.3" cy="1338.9" r="2.5"/><circle cx="580.1" cy="1283.9" r="2.5"/><circle cx="596.8" cy="1307.4" r="2.5"/><circle cx="618.6" cy="1298.3" r="2.5"/><circle cx="623.8" cy="1310.8" r="2.5"/><circle cx="619.0" cy="1316.7" r="2.5"/><circle cx="605.6" cy="1324.6" r="2.5"/><circle cx="592.8" cy="1278.4" r="2.5"/><circle cx="599.6" cy="1308.1" r="2.5"/><circle cx="619.1" cy="1312.1" r="2.5"/><circle cx="596.0" cy="1294.5" r="2.5"/><circle cx="607.7" cy="1321.2" r="2.5"/><circle cx="593.9" cy="1272.8" r="2.5"/><circle cx="608.9" cy="1321.2" r="2.5"/><circle cx="592.1" cy="1288.0" r="2.5"/><circle cx="618.1" cy="1295.2" r="2.5"/><circle cx="609.0" cy="1311.1" r="2.5"/><circle cx="599.6" cy="1303.5" r="2.5"/><circle cx="599.4" cy="1281.2" r="2.5"/><circle cx="614.4" cy="1326.9" r="2.5"/><circle cx="606.4" cy="1316.1" r="2.5"/><circle cx="598.0" cy="1302.8" r="2.5"/><circle cx="624.4" cy="1324.7" r="2.5"/><circle cx="615.7" cy="1321.9" r="2.5"/><circle cx="620.2" cy="1322.3" r="2.5"/><circle cx="618.0" cy="1300.6" r="2.5"/><circle cx="626.2" cy="1317.6" r="2.5"/><circle cx="602.9" cy="1298.7" r="2.5"/><circle cx="607.1" cy="1316.1" r="2.5"/><circle cx="610.7" cy="1290.6" r="2.5"/><circle cx="607.1" cy="1282.6" r="2.5"/><circle cx="625.3" cy="1310.1" r="2.5"/><circle cx="614.3" cy="1284.8" r="2.5"/><circle cx="618.5" cy="1322.1" r="2.5"/><circle cx="612.5" cy="1310.9" r="2.5"/><circle cx="595.0" cy="1284.5" r="2.5"/><circle cx="599.2" cy="1318.3" r="2.5"/><circle cx="610.9" cy="1327.4" r="2.5"/><circle cx="612.2" cy="1297.7" r="2.5"/><circle cx="605.7" cy="1315.4" r="2.5"/><circle cx="620.4" cy="1306.7" r="2.5"/><circle cx="615.4" cy="1318.1" r="2.5"/><circle cx="601.2" cy="1283.5" r="2.5"/><circle cx="622.3" cy="1329.3" r="2.5"/><circle cx="625.0" cy="1310.6" r="2.5"/><circle cx="620.6" cy="1300.1" r="2.5"/><circle cx="607.2" cy="1309.8" r="2.5"/><circle cx="596.3" cy="1301.1" r="2.5"/><circle cx="609.4" cy="1312.5" r="2.5"/><circle cx="611.2" cy="1291.7" r="2.5"/><circle cx="614.5" cy="1294.0" r="2.5"/><circle cx="614.1" cy="1322.6" r="2.5"/><circle cx="620.4" cy="1330.3" r="2.5"/><circle cx="621.7" cy="1316.1" r="2.5"/><circle cx="624.0" cy="1333.4" r="2.5"/><circle cx="604.2" cy="1283.3" r="2.5"/><circle cx="613.6" cy="1296.1" r="2.5"/><circle cx="627.4" cy="1317.3" r="2.5"/><circle cx="608.2" cy="1284.0" r="2.5"/><circle cx="614.2" cy="1295.1" r="2.5"/><circle cx="628.7" cy="1318.3" r="2.5"/><circle cx="616.7" cy="1308.6" r="2.5"/><circle cx="591.4" cy="1295.1" r="2.5"/><circle cx="626.2" cy="1320.3" r="2.5"/><circle cx="599.9" cy="1319.2" r="2.5"/><circle cx="625.2" cy="1319.6" r="2.5"/><circle cx="616.1" cy="1303.5" r="2.5"/><circle cx="627.2" cy="1323.7" r="2.5"/><circle cx="602.1" cy="1286.8" r="2.5"/><circle cx="592.0" cy="1297.2" r="2.5"/><circle cx="596.6" cy="1285.0" r="2.5"/><circle cx="595.3" cy="1302.5" r="2.5"/><circle cx="614.5" cy="1327.1" r="2.5"/><circle cx="598.7" cy="1288.6" r="2.5"/><circle cx="622.4" cy="1315.2" r="2.5"/><circle cx="595.3" cy="1302.2" r="2.5"/><circle cx="617.5" cy="1327.2" r="2.5"/><circle cx="596.8" cy="1274.1" r="2.5"/><circle cx="619.9" cy="1318.7" r="2.5"/><circle cx="611.4" cy="1291.7" r="2.5"/><circle cx="614.1" cy="1303.6" r="2.5"/><circle cx="601.9" cy="1305.6" r="2.5"/><circle cx="691.4" cy="1270.6" r="2.5"/><circle cx="733.9" cy="1270.6" r="2.5"/><circle cx="737.3" cy="1262.7" r="2.5"/><circle cx="737.3" cy="1266.7" r="2.5"/><circle cx="710.2" cy="1284.4" r="2.5"/><circle cx="737.3" cy="1289.8" r="2.5"/><circle cx="673.7" cy="1303.2" r="2.5"/><circle cx="680.6" cy="1299.8" r="2.5"/><circle cx="688.5" cy="1308.5" r="2.5"/><circle cx="763.5" cy="1307.7" r="2.5"/><circle cx="810.0" cy="1297.3" r="2.5"/><circle cx="815.3" cy="1302.8" r="2.5"/><circle cx="723.4" cy="1329.9" r="2.5"/><circle cx="746.7" cy="1332.2" r="2.5"/><circle cx="805.0" cy="1336.2" r="2.5"/><circle cx="746.7" cy="1371.3" r="2.5"/><circle cx="702.3" cy="1396.6" r="2.5"/><circle cx="738.4" cy="1437.5" r="2.5"/><circle cx="609.9" cy="1348.2" r="2.5"/><circle cx="609.9" cy="1391.1" r="2.5"/><circle cx="605.5" cy="1420.3" r="2.5"/><circle cx="578.5" cy="1436.1" r="2.5"/><circle cx="546.7" cy="1441.5" r="2.5"/><circle cx="617.4" cy="1270.6" r="2.5"/><circle cx="634.2" cy="1270.6" r="2.5"/><circle cx="503.2" cy="1297.7" r="2.5"/><circle cx="508.7" cy="1306.2" r="2.5"/><circle cx="506.8" cy="1329.3" r="2.5"/><circle cx="719.5" cy="1114.1" r="2.5"/><circle cx="729.0" cy="1114.7" r="2.5"/><circle cx="732.9" cy="1117.3" r="2.5"/><circle cx="729.0" cy="1121.6" r="2.5"/><circle cx="714.5" cy="1209.9" r="2.5"/><circle cx="705.7" cy="1216.0" r="2.5"/><circle cx="708.8" cy="1236.2" r="2.5"/><circle cx="714.5" cy="1249.0" r="2.5"/><circle cx="618.8" cy="1188.2" r="2.5"/><circle cx="616.4" cy="1204.2" r="2.5"/><circle cx="503.0" cy="1280.0" r="2.5"/><circle cx="520.0" cy="1268.0" r="2.5"/><circle cx="527.0" cy="1270.7" r="2.5"/><circle cx="531.0" cy="1270.7" r="2.5"/><circle cx="537.0" cy="1270.7" r="2.5"/><circle cx="545.0" cy="1270.7" r="2.5"/><circle cx="552.0" cy="1270.7" r="2.5"/><circle cx="558.0" cy="1270.0" r="2.5"/><circle cx="566.0" cy="1271.0" r="2.5"/><circle cx="600.0" cy="1270.7" r="2.5"/><circle cx="606.0" cy="1270.7" r="2.5"/><circle cx="612.0" cy="1270.7" r="2.5"/><circle cx="546.0" cy="1262.0" r="2.5"/><circle cx="553.0" cy="1265.0" r="2.5"/><circle cx="600.0" cy="1260.0" r="2.5"/><circle cx="610.0" cy="1258.0" r="2.5"/><circle cx="520.0" cy="1278.0" r="2.5"/><circle cx="530.0" cy="1283.0" r="2.5"/><circle cx="661.8" cy="1114.7" r="2.5"/><circle cx="661.8" cy="1118.0" r="2.5"/><circle cx="661.8" cy="1121.3" r="2.5"/><circle cx="661.8" cy="1124.6" r="2.5"/><circle cx="661.8" cy="1127.8" r="2.5"/><circle cx="661.8" cy="1131.1" r="2.5"/><circle cx="661.8" cy="1134.4" r="2.5"/><circle cx="661.8" cy="1141.4" r="2.5"/><circle cx="661.8" cy="1177.9" r="2.5"/><circle cx="661.8" cy="1184.8" r="2.5"/><circle cx="661.8" cy="1187.8" r="2.5"/><circle cx="661.8" cy="1190.7" r="2.5"/><circle cx="661.8" cy="1204.6" r="2.5"/><circle cx="661.8" cy="1209.5" r="2.5"/><circle cx="661.8" cy="1231.2" r="2.5"/><circle cx="661.8" cy="1265.8" r="2.5"/><circle cx="661.8" cy="1269.2" r="2.5"/><circle cx="661.8" cy="1272.5" r="2.5"/><circle cx="661.8" cy="1275.9" r="2.5"/><circle cx="661.8" cy="1279.2" r="2.5"/><circle cx="661.8" cy="1282.6" r="2.5"/><circle cx="661.8" cy="1303.2" r="2.5"/><circle cx="661.8" cy="1306.9" r="2.5"/><circle cx="661.8" cy="1310.7" r="2.5"/><circle cx="661.8" cy="1314.4" r="2.5"/><circle cx="661.8" cy="1318.1" r="2.5"/><circle cx="661.8" cy="1321.9" r="2.5"/><circle cx="661.8" cy="1325.6" r="2.5"/><circle cx="661.8" cy="1329.3" r="2.5"/><circle cx="661.8" cy="1333.1" r="2.5"/><circle cx="661.8" cy="1336.8" r="2.5"/></g>
<rect x="157" y="1095.8" width="672.5" height="352.6" fill="none" stroke="#000" stroke-width="2.6"/>
<line x1="493.6" y1="1095.8" x2="493.6" y2="1448.4" stroke="#000" stroke-width="2.2"/>
<text x="469.5" y="1383.8" font-size="20" text-anchor="middle" fill="#333" textLength="37.8" lengthAdjust="spacingAndGlyphs">BSA</text>
<text x="763.5" y="1361.5" font-size="17" text-anchor="middle" fill="#333" textLength="135.8" lengthAdjust="spacingAndGlyphs">BSA/Morin hydrate</text>
</g>
</svg></body></html>
